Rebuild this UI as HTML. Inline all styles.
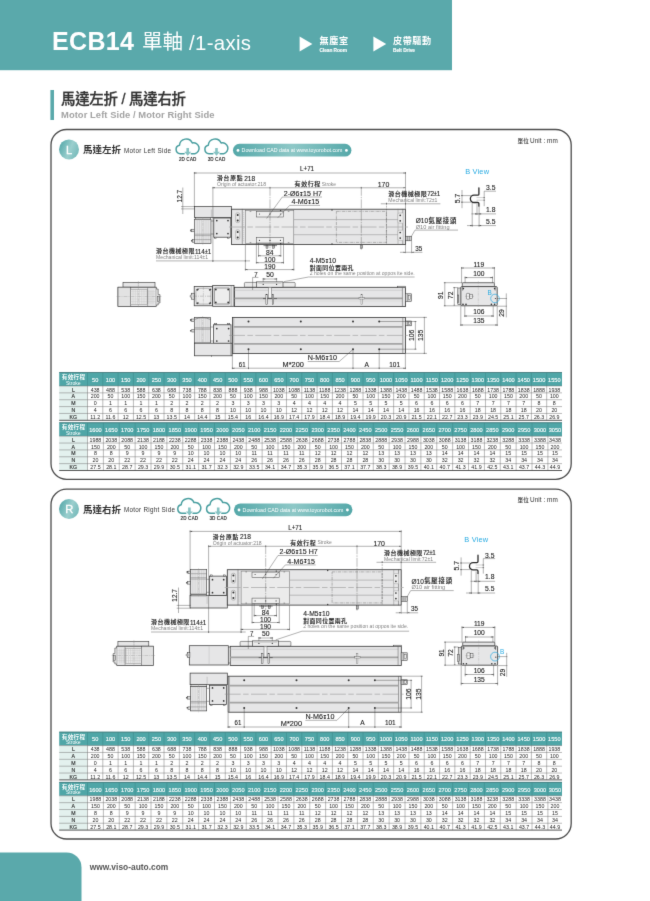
<!DOCTYPE html>
<html lang="zh-Hant">
<head>
<meta charset="utf-8">
<title>ECB14 單軸 /1-axis</title>
<style>
html,body{margin:0;padding:0;background:#fff;}
body{width:650px;height:901px;overflow:hidden;}
.page{position:relative;width:650px;height:901px;overflow:hidden;background:#fff;}
svg{display:block;position:absolute;left:-6px;top:-6px;font-family:'Liberation Sans', 'Noto Sans CJK TC', sans-serif;filter:url(#soft);}
text{white-space:pre;}
.d{fill:#222;stroke:#222;stroke-width:0.12px;}
.h{stroke:#fff;stroke-width:0.12px;}
.t{fill:#262626;}
</style>
</head>
<body>
<div class="page">
<svg width="662" height="913" viewBox="-6 -6 662 913">
<defs>
<filter id="soft" x="0" y="0" width="1" height="1" color-interpolation-filters="sRGB"><feConvolveMatrix order="3" kernelMatrix="0.0081 0.0738 0.0081 0.0738 0.6724 0.0738 0.0081 0.0738 0.0081" edgeMode="duplicate" preserveAlpha="true"/></filter>
<linearGradient id="gc" x1="0" y1="0.3" x2="1" y2="0.7"><stop offset="0" stop-color="#58aaab"/><stop offset="0.55" stop-color="#9bcfce"/><stop offset="1" stop-color="#74b9b9"/></linearGradient>
<linearGradient id="gp" x1="0" y1="0" x2="1" y2="0"><stop offset="0" stop-color="#55a8a9"/><stop offset="0.5" stop-color="#8ec8c7"/><stop offset="1" stop-color="#55a8a9"/></linearGradient>
</defs>
<rect x="-6" y="-6" width="662" height="913" fill="#fff"/>
<rect x="-6" y="-6" width="458" height="76.2" fill="#5aa9ab"/>
<text x="52" y="50" font-size="25" fill="#fff" font-weight="bold" textLength="82" lengthAdjust="spacing">ECB14</text>
<text x="142" y="48.9" font-size="20.6" fill="#fff" font-weight="400" textLength="41.2" lengthAdjust="spacing">單軸</text>
<text x="189" y="49.8" font-size="20.4" fill="#fff" textLength="62" lengthAdjust="spacing">/1-axis</text>
<path d="M299.6 36.6 L312.4 44 L299.6 51.4 Z" fill="#fff" stroke="none" stroke-width="0"/>
<text x="319.6" y="44" font-size="9.1" fill="#fff" font-weight="bold" textLength="28.4" lengthAdjust="spacing">無塵室</text>
<text x="319.6" y="51.5" font-size="4.8" fill="#fff" font-weight="bold" textLength="27.4" lengthAdjust="spacing" class="h">Clean Room</text>
<path d="M373.4 36.6 L386.2 44 L373.4 51.4 Z" fill="#fff" stroke="none" stroke-width="0"/>
<text x="393" y="44" font-size="9.1" fill="#fff" font-weight="bold" textLength="38" lengthAdjust="spacing">皮帶驅動</text>
<text x="393" y="51.5" font-size="4.8" fill="#fff" font-weight="bold" textLength="22" lengthAdjust="spacing" class="h">Belt Drive</text>
<rect x="50.4" y="90" width="3.6" height="30" fill="#5aa9ab"/>
<text x="61" y="104.4" font-size="14.4" fill="#333" font-weight="500" textLength="125" lengthAdjust="spacing" stroke="#333" stroke-width="0.3">馬達左折 / 馬達右折</text>
<text x="61" y="117.6" font-size="9.4" fill="#a3a3a3" font-weight="bold" textLength="153.4" lengthAdjust="spacing">Motor Left Side / Motor Right Side</text>
<g transform="translate(0 0)">
<rect x="51" y="129.5" width="520.2" height="349.9" fill="#fff" stroke="#4c4c4c" stroke-width="1.3" rx="15.6"/>
<circle cx="69" cy="149.4" r="10" fill="url(#gc)"/>
<text x="69.2" y="153.6" font-size="11.2" fill="#fff" text-anchor="middle" stroke="#fff" stroke-width="0.3">L</text>
<text x="83" y="153.3" font-size="9.5" fill="#2e2e2e" font-weight="bold" textLength="38" lengthAdjust="spacing">馬達左折</text>
<text x="124" y="152.6" font-size="6.3" fill="#333" textLength="47" lengthAdjust="spacing">Motor Left Side</text>
<g transform="translate(175.3 138.4)">
<path d="M8.8 15.3 H4.9 A4.3 4.3 0 0 1 4.2 6.8 A6.7 6.7 0 0 1 17 4.6 A5.4 5.4 0 0 1 19.6 15.3 H16" fill="#fff" stroke="#4a9fa0" stroke-width="1.5" stroke-linecap="round" stroke-linejoin="round"/>
<path d="M11.1 9.6 H13.7 V13.4 H15.9 L12.4 17.4 L8.9 13.4 H11.1 Z" fill="#86c3c3" stroke="none" stroke-width="0"/>
<text x="3.6" y="22.2" font-size="4.7" fill="#333" font-weight="bold" textLength="17.6" lengthAdjust="spacing">2D CAD</text>
</g>
<g transform="translate(204.1 138.4)">
<path d="M8.8 15.3 H4.9 A4.3 4.3 0 0 1 4.2 6.8 A6.7 6.7 0 0 1 17 4.6 A5.4 5.4 0 0 1 19.6 15.3 H16" fill="#fff" stroke="#4a9fa0" stroke-width="1.5" stroke-linecap="round" stroke-linejoin="round"/>
<path d="M11.1 9.6 H13.7 V13.4 H15.9 L12.4 17.4 L8.9 13.4 H11.1 Z" fill="#86c3c3" stroke="none" stroke-width="0"/>
<text x="3.6" y="22.2" font-size="4.7" fill="#333" font-weight="bold" textLength="17.6" lengthAdjust="spacing">3D CAD</text>
</g>
<rect x="233" y="143.8" width="118.4" height="12.8" rx="6.4" fill="url(#gp)"/>
<circle cx="238" cy="150.4" r="1.4" fill="#fff" stroke="none" stroke-width="0"/>
<circle cx="346.4" cy="150.4" r="1.4" fill="#fff" stroke="none" stroke-width="0"/>
<text x="241.6" y="152.2" font-size="5.25" fill="#fff" textLength="100.8" lengthAdjust="spacing">Download CAD data at www.toyorobot.com</text>
<text x="517.6" y="142.8" font-size="5.6" fill="#333" font-weight="500" textLength="11.2" lengthAdjust="spacing">單位</text>
<text x="530" y="142.9" font-size="6.4" fill="#333" textLength="27.8" lengthAdjust="spacing">Unit : mm</text>
<rect x="59.2" y="372.2" width="502.8" height="13.8" fill="#4fa6a7"/>
<line x1="59.2" y1="372.5" x2="562" y2="372.5" stroke="#3f6f70" stroke-width="0.7"/>
<rect x="59.2" y="386" width="28.3" height="34.3" fill="#e3f1ee"/>
<text x="61.7" y="379.1" font-size="5.6" fill="#fff" font-weight="bold" textLength="23.4" lengthAdjust="spacing">有效行程</text>
<text x="73.35" y="384.7" font-size="5.1" fill="#fff" text-anchor="middle">Stroke</text>
<line x1="87.5" y1="372.8" x2="87.5" y2="386" stroke="#3a8788" stroke-width="0.5"/>
<line x1="87.5" y1="386" x2="87.5" y2="420.3" stroke="#777" stroke-width="0.5"/>
<text x="95.15" y="381.9" font-size="5.6" fill="#fff" text-anchor="middle" class="h">50</text>
<line x1="102.81" y1="372.8" x2="102.81" y2="386" stroke="#3a8788" stroke-width="0.5"/>
<line x1="102.81" y1="386" x2="102.81" y2="420.3" stroke="#777" stroke-width="0.5"/>
<text x="110.46" y="381.9" font-size="5.6" fill="#fff" text-anchor="middle" class="h">100</text>
<line x1="118.11" y1="372.8" x2="118.11" y2="386" stroke="#3a8788" stroke-width="0.5"/>
<line x1="118.11" y1="386" x2="118.11" y2="420.3" stroke="#777" stroke-width="0.5"/>
<text x="125.77" y="381.9" font-size="5.6" fill="#fff" text-anchor="middle" class="h">150</text>
<line x1="133.42" y1="372.8" x2="133.42" y2="386" stroke="#3a8788" stroke-width="0.5"/>
<line x1="133.42" y1="386" x2="133.42" y2="420.3" stroke="#777" stroke-width="0.5"/>
<text x="141.07" y="381.9" font-size="5.6" fill="#fff" text-anchor="middle" class="h">200</text>
<line x1="148.73" y1="372.8" x2="148.73" y2="386" stroke="#3a8788" stroke-width="0.5"/>
<line x1="148.73" y1="386" x2="148.73" y2="420.3" stroke="#777" stroke-width="0.5"/>
<text x="156.38" y="381.9" font-size="5.6" fill="#fff" text-anchor="middle" class="h">250</text>
<line x1="164.03" y1="372.8" x2="164.03" y2="386" stroke="#3a8788" stroke-width="0.5"/>
<line x1="164.03" y1="386" x2="164.03" y2="420.3" stroke="#777" stroke-width="0.5"/>
<text x="171.69" y="381.9" font-size="5.6" fill="#fff" text-anchor="middle" class="h">300</text>
<line x1="179.34" y1="372.8" x2="179.34" y2="386" stroke="#3a8788" stroke-width="0.5"/>
<line x1="179.34" y1="386" x2="179.34" y2="420.3" stroke="#777" stroke-width="0.5"/>
<text x="186.99" y="381.9" font-size="5.6" fill="#fff" text-anchor="middle" class="h">350</text>
<line x1="194.65" y1="372.8" x2="194.65" y2="386" stroke="#3a8788" stroke-width="0.5"/>
<line x1="194.65" y1="386" x2="194.65" y2="420.3" stroke="#777" stroke-width="0.5"/>
<text x="202.3" y="381.9" font-size="5.6" fill="#fff" text-anchor="middle" class="h">400</text>
<line x1="209.95" y1="372.8" x2="209.95" y2="386" stroke="#3a8788" stroke-width="0.5"/>
<line x1="209.95" y1="386" x2="209.95" y2="420.3" stroke="#777" stroke-width="0.5"/>
<text x="217.6" y="381.9" font-size="5.6" fill="#fff" text-anchor="middle" class="h">450</text>
<line x1="225.26" y1="372.8" x2="225.26" y2="386" stroke="#3a8788" stroke-width="0.5"/>
<line x1="225.26" y1="386" x2="225.26" y2="420.3" stroke="#777" stroke-width="0.5"/>
<text x="232.91" y="381.9" font-size="5.6" fill="#fff" text-anchor="middle" class="h">500</text>
<line x1="240.56" y1="372.8" x2="240.56" y2="386" stroke="#3a8788" stroke-width="0.5"/>
<line x1="240.56" y1="386" x2="240.56" y2="420.3" stroke="#777" stroke-width="0.5"/>
<text x="248.22" y="381.9" font-size="5.6" fill="#fff" text-anchor="middle" class="h">550</text>
<line x1="255.87" y1="372.8" x2="255.87" y2="386" stroke="#3a8788" stroke-width="0.5"/>
<line x1="255.87" y1="386" x2="255.87" y2="420.3" stroke="#777" stroke-width="0.5"/>
<text x="263.52" y="381.9" font-size="5.6" fill="#fff" text-anchor="middle" class="h">600</text>
<line x1="271.18" y1="372.8" x2="271.18" y2="386" stroke="#3a8788" stroke-width="0.5"/>
<line x1="271.18" y1="386" x2="271.18" y2="420.3" stroke="#777" stroke-width="0.5"/>
<text x="278.83" y="381.9" font-size="5.6" fill="#fff" text-anchor="middle" class="h">650</text>
<line x1="286.48" y1="372.8" x2="286.48" y2="386" stroke="#3a8788" stroke-width="0.5"/>
<line x1="286.48" y1="386" x2="286.48" y2="420.3" stroke="#777" stroke-width="0.5"/>
<text x="294.14" y="381.9" font-size="5.6" fill="#fff" text-anchor="middle" class="h">700</text>
<line x1="301.79" y1="372.8" x2="301.79" y2="386" stroke="#3a8788" stroke-width="0.5"/>
<line x1="301.79" y1="386" x2="301.79" y2="420.3" stroke="#777" stroke-width="0.5"/>
<text x="309.44" y="381.9" font-size="5.6" fill="#fff" text-anchor="middle" class="h">750</text>
<line x1="317.1" y1="372.8" x2="317.1" y2="386" stroke="#3a8788" stroke-width="0.5"/>
<line x1="317.1" y1="386" x2="317.1" y2="420.3" stroke="#777" stroke-width="0.5"/>
<text x="324.75" y="381.9" font-size="5.6" fill="#fff" text-anchor="middle" class="h">800</text>
<line x1="332.4" y1="372.8" x2="332.4" y2="386" stroke="#3a8788" stroke-width="0.5"/>
<line x1="332.4" y1="386" x2="332.4" y2="420.3" stroke="#777" stroke-width="0.5"/>
<text x="340.06" y="381.9" font-size="5.6" fill="#fff" text-anchor="middle" class="h">850</text>
<line x1="347.71" y1="372.8" x2="347.71" y2="386" stroke="#3a8788" stroke-width="0.5"/>
<line x1="347.71" y1="386" x2="347.71" y2="420.3" stroke="#777" stroke-width="0.5"/>
<text x="355.36" y="381.9" font-size="5.6" fill="#fff" text-anchor="middle" class="h">900</text>
<line x1="363.02" y1="372.8" x2="363.02" y2="386" stroke="#3a8788" stroke-width="0.5"/>
<line x1="363.02" y1="386" x2="363.02" y2="420.3" stroke="#777" stroke-width="0.5"/>
<text x="370.67" y="381.9" font-size="5.6" fill="#fff" text-anchor="middle" class="h">950</text>
<line x1="378.32" y1="372.8" x2="378.32" y2="386" stroke="#3a8788" stroke-width="0.5"/>
<line x1="378.32" y1="386" x2="378.32" y2="420.3" stroke="#777" stroke-width="0.5"/>
<text x="385.98" y="381.9" font-size="5.6" fill="#fff" text-anchor="middle" class="h">1000</text>
<line x1="393.63" y1="372.8" x2="393.63" y2="386" stroke="#3a8788" stroke-width="0.5"/>
<line x1="393.63" y1="386" x2="393.63" y2="420.3" stroke="#777" stroke-width="0.5"/>
<text x="401.28" y="381.9" font-size="5.6" fill="#fff" text-anchor="middle" class="h">1050</text>
<line x1="408.94" y1="372.8" x2="408.94" y2="386" stroke="#3a8788" stroke-width="0.5"/>
<line x1="408.94" y1="386" x2="408.94" y2="420.3" stroke="#777" stroke-width="0.5"/>
<text x="416.59" y="381.9" font-size="5.6" fill="#fff" text-anchor="middle" class="h">1100</text>
<line x1="424.24" y1="372.8" x2="424.24" y2="386" stroke="#3a8788" stroke-width="0.5"/>
<line x1="424.24" y1="386" x2="424.24" y2="420.3" stroke="#777" stroke-width="0.5"/>
<text x="431.9" y="381.9" font-size="5.6" fill="#fff" text-anchor="middle" class="h">1150</text>
<line x1="439.55" y1="372.8" x2="439.55" y2="386" stroke="#3a8788" stroke-width="0.5"/>
<line x1="439.55" y1="386" x2="439.55" y2="420.3" stroke="#777" stroke-width="0.5"/>
<text x="447.2" y="381.9" font-size="5.6" fill="#fff" text-anchor="middle" class="h">1200</text>
<line x1="454.85" y1="372.8" x2="454.85" y2="386" stroke="#3a8788" stroke-width="0.5"/>
<line x1="454.85" y1="386" x2="454.85" y2="420.3" stroke="#777" stroke-width="0.5"/>
<text x="462.51" y="381.9" font-size="5.6" fill="#fff" text-anchor="middle" class="h">1250</text>
<line x1="470.16" y1="372.8" x2="470.16" y2="386" stroke="#3a8788" stroke-width="0.5"/>
<line x1="470.16" y1="386" x2="470.16" y2="420.3" stroke="#777" stroke-width="0.5"/>
<text x="477.81" y="381.9" font-size="5.6" fill="#fff" text-anchor="middle" class="h">1300</text>
<line x1="485.47" y1="372.8" x2="485.47" y2="386" stroke="#3a8788" stroke-width="0.5"/>
<line x1="485.47" y1="386" x2="485.47" y2="420.3" stroke="#777" stroke-width="0.5"/>
<text x="493.12" y="381.9" font-size="5.6" fill="#fff" text-anchor="middle" class="h">1350</text>
<line x1="500.77" y1="372.8" x2="500.77" y2="386" stroke="#3a8788" stroke-width="0.5"/>
<line x1="500.77" y1="386" x2="500.77" y2="420.3" stroke="#777" stroke-width="0.5"/>
<text x="508.43" y="381.9" font-size="5.6" fill="#fff" text-anchor="middle" class="h">1400</text>
<line x1="516.08" y1="372.8" x2="516.08" y2="386" stroke="#3a8788" stroke-width="0.5"/>
<line x1="516.08" y1="386" x2="516.08" y2="420.3" stroke="#777" stroke-width="0.5"/>
<text x="523.73" y="381.9" font-size="5.6" fill="#fff" text-anchor="middle" class="h">1450</text>
<line x1="531.39" y1="372.8" x2="531.39" y2="386" stroke="#3a8788" stroke-width="0.5"/>
<line x1="531.39" y1="386" x2="531.39" y2="420.3" stroke="#777" stroke-width="0.5"/>
<text x="539.04" y="381.9" font-size="5.6" fill="#fff" text-anchor="middle" class="h">1500</text>
<line x1="546.69" y1="372.8" x2="546.69" y2="386" stroke="#3a8788" stroke-width="0.5"/>
<line x1="546.69" y1="386" x2="546.69" y2="420.3" stroke="#777" stroke-width="0.5"/>
<text x="554.35" y="381.9" font-size="5.6" fill="#fff" text-anchor="middle" class="h">1550</text>
<line x1="59.2" y1="386" x2="562" y2="386" stroke="#777" stroke-width="0.5"/>
<text x="73.35" y="391.5" font-size="5.2" class="d" text-anchor="middle">L</text>
<text x="95.15" y="391.5" font-size="5.3" class="t" text-anchor="middle">438</text>
<text x="110.46" y="391.5" font-size="5.3" class="t" text-anchor="middle">488</text>
<text x="125.77" y="391.5" font-size="5.3" class="t" text-anchor="middle">538</text>
<text x="141.07" y="391.5" font-size="5.3" class="t" text-anchor="middle">588</text>
<text x="156.38" y="391.5" font-size="5.3" class="t" text-anchor="middle">638</text>
<text x="171.69" y="391.5" font-size="5.3" class="t" text-anchor="middle">688</text>
<text x="186.99" y="391.5" font-size="5.3" class="t" text-anchor="middle">738</text>
<text x="202.3" y="391.5" font-size="5.3" class="t" text-anchor="middle">788</text>
<text x="217.6" y="391.5" font-size="5.3" class="t" text-anchor="middle">838</text>
<text x="232.91" y="391.5" font-size="5.3" class="t" text-anchor="middle">888</text>
<text x="248.22" y="391.5" font-size="5.3" class="t" text-anchor="middle">938</text>
<text x="263.52" y="391.5" font-size="5.3" class="t" text-anchor="middle">988</text>
<text x="278.83" y="391.5" font-size="5.3" class="t" text-anchor="middle">1038</text>
<text x="294.14" y="391.5" font-size="5.3" class="t" text-anchor="middle">1088</text>
<text x="309.44" y="391.5" font-size="5.3" class="t" text-anchor="middle">1138</text>
<text x="324.75" y="391.5" font-size="5.3" class="t" text-anchor="middle">1188</text>
<text x="340.06" y="391.5" font-size="5.3" class="t" text-anchor="middle">1238</text>
<text x="355.36" y="391.5" font-size="5.3" class="t" text-anchor="middle">1288</text>
<text x="370.67" y="391.5" font-size="5.3" class="t" text-anchor="middle">1338</text>
<text x="385.98" y="391.5" font-size="5.3" class="t" text-anchor="middle">1388</text>
<text x="401.28" y="391.5" font-size="5.3" class="t" text-anchor="middle">1438</text>
<text x="416.59" y="391.5" font-size="5.3" class="t" text-anchor="middle">1488</text>
<text x="431.9" y="391.5" font-size="5.3" class="t" text-anchor="middle">1538</text>
<text x="447.2" y="391.5" font-size="5.3" class="t" text-anchor="middle">1588</text>
<text x="462.51" y="391.5" font-size="5.3" class="t" text-anchor="middle">1638</text>
<text x="477.81" y="391.5" font-size="5.3" class="t" text-anchor="middle">1688</text>
<text x="493.12" y="391.5" font-size="5.3" class="t" text-anchor="middle">1738</text>
<text x="508.43" y="391.5" font-size="5.3" class="t" text-anchor="middle">1788</text>
<text x="523.73" y="391.5" font-size="5.3" class="t" text-anchor="middle">1838</text>
<text x="539.04" y="391.5" font-size="5.3" class="t" text-anchor="middle">1888</text>
<text x="554.35" y="391.5" font-size="5.3" class="t" text-anchor="middle">1938</text>
<line x1="59.2" y1="392.86" x2="562" y2="392.86" stroke="#777" stroke-width="0.5"/>
<text x="73.35" y="398.36" font-size="5.2" class="d" text-anchor="middle">A</text>
<text x="95.15" y="398.36" font-size="5.3" class="t" text-anchor="middle">200</text>
<text x="110.46" y="398.36" font-size="5.3" class="t" text-anchor="middle">50</text>
<text x="125.77" y="398.36" font-size="5.3" class="t" text-anchor="middle">100</text>
<text x="141.07" y="398.36" font-size="5.3" class="t" text-anchor="middle">150</text>
<text x="156.38" y="398.36" font-size="5.3" class="t" text-anchor="middle">200</text>
<text x="171.69" y="398.36" font-size="5.3" class="t" text-anchor="middle">50</text>
<text x="186.99" y="398.36" font-size="5.3" class="t" text-anchor="middle">100</text>
<text x="202.3" y="398.36" font-size="5.3" class="t" text-anchor="middle">150</text>
<text x="217.6" y="398.36" font-size="5.3" class="t" text-anchor="middle">200</text>
<text x="232.91" y="398.36" font-size="5.3" class="t" text-anchor="middle">50</text>
<text x="248.22" y="398.36" font-size="5.3" class="t" text-anchor="middle">100</text>
<text x="263.52" y="398.36" font-size="5.3" class="t" text-anchor="middle">150</text>
<text x="278.83" y="398.36" font-size="5.3" class="t" text-anchor="middle">200</text>
<text x="294.14" y="398.36" font-size="5.3" class="t" text-anchor="middle">50</text>
<text x="309.44" y="398.36" font-size="5.3" class="t" text-anchor="middle">100</text>
<text x="324.75" y="398.36" font-size="5.3" class="t" text-anchor="middle">150</text>
<text x="340.06" y="398.36" font-size="5.3" class="t" text-anchor="middle">200</text>
<text x="355.36" y="398.36" font-size="5.3" class="t" text-anchor="middle">50</text>
<text x="370.67" y="398.36" font-size="5.3" class="t" text-anchor="middle">100</text>
<text x="385.98" y="398.36" font-size="5.3" class="t" text-anchor="middle">150</text>
<text x="401.28" y="398.36" font-size="5.3" class="t" text-anchor="middle">200</text>
<text x="416.59" y="398.36" font-size="5.3" class="t" text-anchor="middle">50</text>
<text x="431.9" y="398.36" font-size="5.3" class="t" text-anchor="middle">100</text>
<text x="447.2" y="398.36" font-size="5.3" class="t" text-anchor="middle">150</text>
<text x="462.51" y="398.36" font-size="5.3" class="t" text-anchor="middle">200</text>
<text x="477.81" y="398.36" font-size="5.3" class="t" text-anchor="middle">50</text>
<text x="493.12" y="398.36" font-size="5.3" class="t" text-anchor="middle">100</text>
<text x="508.43" y="398.36" font-size="5.3" class="t" text-anchor="middle">150</text>
<text x="523.73" y="398.36" font-size="5.3" class="t" text-anchor="middle">200</text>
<text x="539.04" y="398.36" font-size="5.3" class="t" text-anchor="middle">50</text>
<text x="554.35" y="398.36" font-size="5.3" class="t" text-anchor="middle">100</text>
<line x1="59.2" y1="399.72" x2="562" y2="399.72" stroke="#777" stroke-width="0.5"/>
<text x="73.35" y="405.22" font-size="5.2" class="d" text-anchor="middle">M</text>
<text x="95.15" y="405.22" font-size="5.3" class="t" text-anchor="middle">0</text>
<text x="110.46" y="405.22" font-size="5.3" class="t" text-anchor="middle">1</text>
<text x="125.77" y="405.22" font-size="5.3" class="t" text-anchor="middle">1</text>
<text x="141.07" y="405.22" font-size="5.3" class="t" text-anchor="middle">1</text>
<text x="156.38" y="405.22" font-size="5.3" class="t" text-anchor="middle">1</text>
<text x="171.69" y="405.22" font-size="5.3" class="t" text-anchor="middle">2</text>
<text x="186.99" y="405.22" font-size="5.3" class="t" text-anchor="middle">2</text>
<text x="202.3" y="405.22" font-size="5.3" class="t" text-anchor="middle">2</text>
<text x="217.6" y="405.22" font-size="5.3" class="t" text-anchor="middle">2</text>
<text x="232.91" y="405.22" font-size="5.3" class="t" text-anchor="middle">3</text>
<text x="248.22" y="405.22" font-size="5.3" class="t" text-anchor="middle">3</text>
<text x="263.52" y="405.22" font-size="5.3" class="t" text-anchor="middle">3</text>
<text x="278.83" y="405.22" font-size="5.3" class="t" text-anchor="middle">3</text>
<text x="294.14" y="405.22" font-size="5.3" class="t" text-anchor="middle">4</text>
<text x="309.44" y="405.22" font-size="5.3" class="t" text-anchor="middle">4</text>
<text x="324.75" y="405.22" font-size="5.3" class="t" text-anchor="middle">4</text>
<text x="340.06" y="405.22" font-size="5.3" class="t" text-anchor="middle">4</text>
<text x="355.36" y="405.22" font-size="5.3" class="t" text-anchor="middle">5</text>
<text x="370.67" y="405.22" font-size="5.3" class="t" text-anchor="middle">5</text>
<text x="385.98" y="405.22" font-size="5.3" class="t" text-anchor="middle">5</text>
<text x="401.28" y="405.22" font-size="5.3" class="t" text-anchor="middle">5</text>
<text x="416.59" y="405.22" font-size="5.3" class="t" text-anchor="middle">6</text>
<text x="431.9" y="405.22" font-size="5.3" class="t" text-anchor="middle">6</text>
<text x="447.2" y="405.22" font-size="5.3" class="t" text-anchor="middle">6</text>
<text x="462.51" y="405.22" font-size="5.3" class="t" text-anchor="middle">6</text>
<text x="477.81" y="405.22" font-size="5.3" class="t" text-anchor="middle">7</text>
<text x="493.12" y="405.22" font-size="5.3" class="t" text-anchor="middle">7</text>
<text x="508.43" y="405.22" font-size="5.3" class="t" text-anchor="middle">7</text>
<text x="523.73" y="405.22" font-size="5.3" class="t" text-anchor="middle">7</text>
<text x="539.04" y="405.22" font-size="5.3" class="t" text-anchor="middle">8</text>
<text x="554.35" y="405.22" font-size="5.3" class="t" text-anchor="middle">8</text>
<line x1="59.2" y1="406.58" x2="562" y2="406.58" stroke="#777" stroke-width="0.5"/>
<text x="73.35" y="412.08" font-size="5.2" class="d" text-anchor="middle">N</text>
<text x="95.15" y="412.08" font-size="5.3" class="t" text-anchor="middle">4</text>
<text x="110.46" y="412.08" font-size="5.3" class="t" text-anchor="middle">6</text>
<text x="125.77" y="412.08" font-size="5.3" class="t" text-anchor="middle">6</text>
<text x="141.07" y="412.08" font-size="5.3" class="t" text-anchor="middle">6</text>
<text x="156.38" y="412.08" font-size="5.3" class="t" text-anchor="middle">6</text>
<text x="171.69" y="412.08" font-size="5.3" class="t" text-anchor="middle">8</text>
<text x="186.99" y="412.08" font-size="5.3" class="t" text-anchor="middle">8</text>
<text x="202.3" y="412.08" font-size="5.3" class="t" text-anchor="middle">8</text>
<text x="217.6" y="412.08" font-size="5.3" class="t" text-anchor="middle">8</text>
<text x="232.91" y="412.08" font-size="5.3" class="t" text-anchor="middle">10</text>
<text x="248.22" y="412.08" font-size="5.3" class="t" text-anchor="middle">10</text>
<text x="263.52" y="412.08" font-size="5.3" class="t" text-anchor="middle">10</text>
<text x="278.83" y="412.08" font-size="5.3" class="t" text-anchor="middle">10</text>
<text x="294.14" y="412.08" font-size="5.3" class="t" text-anchor="middle">12</text>
<text x="309.44" y="412.08" font-size="5.3" class="t" text-anchor="middle">12</text>
<text x="324.75" y="412.08" font-size="5.3" class="t" text-anchor="middle">12</text>
<text x="340.06" y="412.08" font-size="5.3" class="t" text-anchor="middle">12</text>
<text x="355.36" y="412.08" font-size="5.3" class="t" text-anchor="middle">14</text>
<text x="370.67" y="412.08" font-size="5.3" class="t" text-anchor="middle">14</text>
<text x="385.98" y="412.08" font-size="5.3" class="t" text-anchor="middle">14</text>
<text x="401.28" y="412.08" font-size="5.3" class="t" text-anchor="middle">14</text>
<text x="416.59" y="412.08" font-size="5.3" class="t" text-anchor="middle">16</text>
<text x="431.9" y="412.08" font-size="5.3" class="t" text-anchor="middle">16</text>
<text x="447.2" y="412.08" font-size="5.3" class="t" text-anchor="middle">16</text>
<text x="462.51" y="412.08" font-size="5.3" class="t" text-anchor="middle">16</text>
<text x="477.81" y="412.08" font-size="5.3" class="t" text-anchor="middle">18</text>
<text x="493.12" y="412.08" font-size="5.3" class="t" text-anchor="middle">18</text>
<text x="508.43" y="412.08" font-size="5.3" class="t" text-anchor="middle">18</text>
<text x="523.73" y="412.08" font-size="5.3" class="t" text-anchor="middle">18</text>
<text x="539.04" y="412.08" font-size="5.3" class="t" text-anchor="middle">20</text>
<text x="554.35" y="412.08" font-size="5.3" class="t" text-anchor="middle">20</text>
<line x1="59.2" y1="413.44" x2="562" y2="413.44" stroke="#777" stroke-width="0.5"/>
<text x="73.35" y="418.94" font-size="5.2" class="d" text-anchor="middle">KG</text>
<text x="95.15" y="418.94" font-size="5.3" class="t" text-anchor="middle">11.2</text>
<text x="110.46" y="418.94" font-size="5.3" class="t" text-anchor="middle">11.6</text>
<text x="125.77" y="418.94" font-size="5.3" class="t" text-anchor="middle">12</text>
<text x="141.07" y="418.94" font-size="5.3" class="t" text-anchor="middle">12.5</text>
<text x="156.38" y="418.94" font-size="5.3" class="t" text-anchor="middle">13</text>
<text x="171.69" y="418.94" font-size="5.3" class="t" text-anchor="middle">13.5</text>
<text x="186.99" y="418.94" font-size="5.3" class="t" text-anchor="middle">14</text>
<text x="202.3" y="418.94" font-size="5.3" class="t" text-anchor="middle">14.4</text>
<text x="217.6" y="418.94" font-size="5.3" class="t" text-anchor="middle">15</text>
<text x="232.91" y="418.94" font-size="5.3" class="t" text-anchor="middle">15.4</text>
<text x="248.22" y="418.94" font-size="5.3" class="t" text-anchor="middle">16</text>
<text x="263.52" y="418.94" font-size="5.3" class="t" text-anchor="middle">16.4</text>
<text x="278.83" y="418.94" font-size="5.3" class="t" text-anchor="middle">16.9</text>
<text x="294.14" y="418.94" font-size="5.3" class="t" text-anchor="middle">17.4</text>
<text x="309.44" y="418.94" font-size="5.3" class="t" text-anchor="middle">17.9</text>
<text x="324.75" y="418.94" font-size="5.3" class="t" text-anchor="middle">18.4</text>
<text x="340.06" y="418.94" font-size="5.3" class="t" text-anchor="middle">18.9</text>
<text x="355.36" y="418.94" font-size="5.3" class="t" text-anchor="middle">19.4</text>
<text x="370.67" y="418.94" font-size="5.3" class="t" text-anchor="middle">19.9</text>
<text x="385.98" y="418.94" font-size="5.3" class="t" text-anchor="middle">20.3</text>
<text x="401.28" y="418.94" font-size="5.3" class="t" text-anchor="middle">20.9</text>
<text x="416.59" y="418.94" font-size="5.3" class="t" text-anchor="middle">21.5</text>
<text x="431.9" y="418.94" font-size="5.3" class="t" text-anchor="middle">22.1</text>
<text x="447.2" y="418.94" font-size="5.3" class="t" text-anchor="middle">22.7</text>
<text x="462.51" y="418.94" font-size="5.3" class="t" text-anchor="middle">23.3</text>
<text x="477.81" y="418.94" font-size="5.3" class="t" text-anchor="middle">23.9</text>
<text x="493.12" y="418.94" font-size="5.3" class="t" text-anchor="middle">24.5</text>
<text x="508.43" y="418.94" font-size="5.3" class="t" text-anchor="middle">25.1</text>
<text x="523.73" y="418.94" font-size="5.3" class="t" text-anchor="middle">25.7</text>
<text x="539.04" y="418.94" font-size="5.3" class="t" text-anchor="middle">26.3</text>
<text x="554.35" y="418.94" font-size="5.3" class="t" text-anchor="middle">26.9</text>
<line x1="59.2" y1="420.3" x2="562" y2="420.3" stroke="#444" stroke-width="0.9"/>
<rect x="59.2" y="422.4" width="502.8" height="13.8" fill="#4fa6a7"/>
<line x1="59.2" y1="422.7" x2="562" y2="422.7" stroke="#3f6f70" stroke-width="0.7"/>
<rect x="59.2" y="436.2" width="28.3" height="34.3" fill="#e3f1ee"/>
<text x="61.7" y="429.3" font-size="5.6" fill="#fff" font-weight="bold" textLength="23.4" lengthAdjust="spacing">有效行程</text>
<text x="73.35" y="434.9" font-size="5.1" fill="#fff" text-anchor="middle">Stroke</text>
<line x1="87.5" y1="423" x2="87.5" y2="436.2" stroke="#3a8788" stroke-width="0.5"/>
<line x1="87.5" y1="436.2" x2="87.5" y2="470.5" stroke="#777" stroke-width="0.5"/>
<text x="95.44" y="432.1" font-size="5.6" fill="#fff" text-anchor="middle" class="h">1600</text>
<line x1="103.38" y1="423" x2="103.38" y2="436.2" stroke="#3a8788" stroke-width="0.5"/>
<line x1="103.38" y1="436.2" x2="103.38" y2="470.5" stroke="#777" stroke-width="0.5"/>
<text x="111.31" y="432.1" font-size="5.6" fill="#fff" text-anchor="middle" class="h">1650</text>
<line x1="119.25" y1="423" x2="119.25" y2="436.2" stroke="#3a8788" stroke-width="0.5"/>
<line x1="119.25" y1="436.2" x2="119.25" y2="470.5" stroke="#777" stroke-width="0.5"/>
<text x="127.19" y="432.1" font-size="5.6" fill="#fff" text-anchor="middle" class="h">1700</text>
<line x1="135.13" y1="423" x2="135.13" y2="436.2" stroke="#3a8788" stroke-width="0.5"/>
<line x1="135.13" y1="436.2" x2="135.13" y2="470.5" stroke="#777" stroke-width="0.5"/>
<text x="143.07" y="432.1" font-size="5.6" fill="#fff" text-anchor="middle" class="h">1750</text>
<line x1="151" y1="423" x2="151" y2="436.2" stroke="#3a8788" stroke-width="0.5"/>
<line x1="151" y1="436.2" x2="151" y2="470.5" stroke="#777" stroke-width="0.5"/>
<text x="158.94" y="432.1" font-size="5.6" fill="#fff" text-anchor="middle" class="h">1800</text>
<line x1="166.88" y1="423" x2="166.88" y2="436.2" stroke="#3a8788" stroke-width="0.5"/>
<line x1="166.88" y1="436.2" x2="166.88" y2="470.5" stroke="#777" stroke-width="0.5"/>
<text x="174.82" y="432.1" font-size="5.6" fill="#fff" text-anchor="middle" class="h">1850</text>
<line x1="182.76" y1="423" x2="182.76" y2="436.2" stroke="#3a8788" stroke-width="0.5"/>
<line x1="182.76" y1="436.2" x2="182.76" y2="470.5" stroke="#777" stroke-width="0.5"/>
<text x="190.69" y="432.1" font-size="5.6" fill="#fff" text-anchor="middle" class="h">1900</text>
<line x1="198.63" y1="423" x2="198.63" y2="436.2" stroke="#3a8788" stroke-width="0.5"/>
<line x1="198.63" y1="436.2" x2="198.63" y2="470.5" stroke="#777" stroke-width="0.5"/>
<text x="206.57" y="432.1" font-size="5.6" fill="#fff" text-anchor="middle" class="h">1950</text>
<line x1="214.51" y1="423" x2="214.51" y2="436.2" stroke="#3a8788" stroke-width="0.5"/>
<line x1="214.51" y1="436.2" x2="214.51" y2="470.5" stroke="#777" stroke-width="0.5"/>
<text x="222.44" y="432.1" font-size="5.6" fill="#fff" text-anchor="middle" class="h">2000</text>
<line x1="230.38" y1="423" x2="230.38" y2="436.2" stroke="#3a8788" stroke-width="0.5"/>
<line x1="230.38" y1="436.2" x2="230.38" y2="470.5" stroke="#777" stroke-width="0.5"/>
<text x="238.32" y="432.1" font-size="5.6" fill="#fff" text-anchor="middle" class="h">2050</text>
<line x1="246.26" y1="423" x2="246.26" y2="436.2" stroke="#3a8788" stroke-width="0.5"/>
<line x1="246.26" y1="436.2" x2="246.26" y2="470.5" stroke="#777" stroke-width="0.5"/>
<text x="254.2" y="432.1" font-size="5.6" fill="#fff" text-anchor="middle" class="h">2100</text>
<line x1="262.13" y1="423" x2="262.13" y2="436.2" stroke="#3a8788" stroke-width="0.5"/>
<line x1="262.13" y1="436.2" x2="262.13" y2="470.5" stroke="#777" stroke-width="0.5"/>
<text x="270.07" y="432.1" font-size="5.6" fill="#fff" text-anchor="middle" class="h">2150</text>
<line x1="278.01" y1="423" x2="278.01" y2="436.2" stroke="#3a8788" stroke-width="0.5"/>
<line x1="278.01" y1="436.2" x2="278.01" y2="470.5" stroke="#777" stroke-width="0.5"/>
<text x="285.95" y="432.1" font-size="5.6" fill="#fff" text-anchor="middle" class="h">2200</text>
<line x1="293.89" y1="423" x2="293.89" y2="436.2" stroke="#3a8788" stroke-width="0.5"/>
<line x1="293.89" y1="436.2" x2="293.89" y2="470.5" stroke="#777" stroke-width="0.5"/>
<text x="301.82" y="432.1" font-size="5.6" fill="#fff" text-anchor="middle" class="h">2250</text>
<line x1="309.76" y1="423" x2="309.76" y2="436.2" stroke="#3a8788" stroke-width="0.5"/>
<line x1="309.76" y1="436.2" x2="309.76" y2="470.5" stroke="#777" stroke-width="0.5"/>
<text x="317.7" y="432.1" font-size="5.6" fill="#fff" text-anchor="middle" class="h">2300</text>
<line x1="325.64" y1="423" x2="325.64" y2="436.2" stroke="#3a8788" stroke-width="0.5"/>
<line x1="325.64" y1="436.2" x2="325.64" y2="470.5" stroke="#777" stroke-width="0.5"/>
<text x="333.58" y="432.1" font-size="5.6" fill="#fff" text-anchor="middle" class="h">2350</text>
<line x1="341.51" y1="423" x2="341.51" y2="436.2" stroke="#3a8788" stroke-width="0.5"/>
<line x1="341.51" y1="436.2" x2="341.51" y2="470.5" stroke="#777" stroke-width="0.5"/>
<text x="349.45" y="432.1" font-size="5.6" fill="#fff" text-anchor="middle" class="h">2400</text>
<line x1="357.39" y1="423" x2="357.39" y2="436.2" stroke="#3a8788" stroke-width="0.5"/>
<line x1="357.39" y1="436.2" x2="357.39" y2="470.5" stroke="#777" stroke-width="0.5"/>
<text x="365.33" y="432.1" font-size="5.6" fill="#fff" text-anchor="middle" class="h">2450</text>
<line x1="373.27" y1="423" x2="373.27" y2="436.2" stroke="#3a8788" stroke-width="0.5"/>
<line x1="373.27" y1="436.2" x2="373.27" y2="470.5" stroke="#777" stroke-width="0.5"/>
<text x="381.2" y="432.1" font-size="5.6" fill="#fff" text-anchor="middle" class="h">2500</text>
<line x1="389.14" y1="423" x2="389.14" y2="436.2" stroke="#3a8788" stroke-width="0.5"/>
<line x1="389.14" y1="436.2" x2="389.14" y2="470.5" stroke="#777" stroke-width="0.5"/>
<text x="397.08" y="432.1" font-size="5.6" fill="#fff" text-anchor="middle" class="h">2550</text>
<line x1="405.02" y1="423" x2="405.02" y2="436.2" stroke="#3a8788" stroke-width="0.5"/>
<line x1="405.02" y1="436.2" x2="405.02" y2="470.5" stroke="#777" stroke-width="0.5"/>
<text x="412.96" y="432.1" font-size="5.6" fill="#fff" text-anchor="middle" class="h">2600</text>
<line x1="420.89" y1="423" x2="420.89" y2="436.2" stroke="#3a8788" stroke-width="0.5"/>
<line x1="420.89" y1="436.2" x2="420.89" y2="470.5" stroke="#777" stroke-width="0.5"/>
<text x="428.83" y="432.1" font-size="5.6" fill="#fff" text-anchor="middle" class="h">2650</text>
<line x1="436.77" y1="423" x2="436.77" y2="436.2" stroke="#3a8788" stroke-width="0.5"/>
<line x1="436.77" y1="436.2" x2="436.77" y2="470.5" stroke="#777" stroke-width="0.5"/>
<text x="444.71" y="432.1" font-size="5.6" fill="#fff" text-anchor="middle" class="h">2700</text>
<line x1="452.64" y1="423" x2="452.64" y2="436.2" stroke="#3a8788" stroke-width="0.5"/>
<line x1="452.64" y1="436.2" x2="452.64" y2="470.5" stroke="#777" stroke-width="0.5"/>
<text x="460.58" y="432.1" font-size="5.6" fill="#fff" text-anchor="middle" class="h">2750</text>
<line x1="468.52" y1="423" x2="468.52" y2="436.2" stroke="#3a8788" stroke-width="0.5"/>
<line x1="468.52" y1="436.2" x2="468.52" y2="470.5" stroke="#777" stroke-width="0.5"/>
<text x="476.46" y="432.1" font-size="5.6" fill="#fff" text-anchor="middle" class="h">2800</text>
<line x1="484.4" y1="423" x2="484.4" y2="436.2" stroke="#3a8788" stroke-width="0.5"/>
<line x1="484.4" y1="436.2" x2="484.4" y2="470.5" stroke="#777" stroke-width="0.5"/>
<text x="492.33" y="432.1" font-size="5.6" fill="#fff" text-anchor="middle" class="h">2850</text>
<line x1="500.27" y1="423" x2="500.27" y2="436.2" stroke="#3a8788" stroke-width="0.5"/>
<line x1="500.27" y1="436.2" x2="500.27" y2="470.5" stroke="#777" stroke-width="0.5"/>
<text x="508.21" y="432.1" font-size="5.6" fill="#fff" text-anchor="middle" class="h">2900</text>
<line x1="516.15" y1="423" x2="516.15" y2="436.2" stroke="#3a8788" stroke-width="0.5"/>
<line x1="516.15" y1="436.2" x2="516.15" y2="470.5" stroke="#777" stroke-width="0.5"/>
<text x="524.09" y="432.1" font-size="5.6" fill="#fff" text-anchor="middle" class="h">2950</text>
<line x1="532.02" y1="423" x2="532.02" y2="436.2" stroke="#3a8788" stroke-width="0.5"/>
<line x1="532.02" y1="436.2" x2="532.02" y2="470.5" stroke="#777" stroke-width="0.5"/>
<text x="539.96" y="432.1" font-size="5.6" fill="#fff" text-anchor="middle" class="h">3000</text>
<line x1="547.9" y1="423" x2="547.9" y2="436.2" stroke="#3a8788" stroke-width="0.5"/>
<line x1="547.9" y1="436.2" x2="547.9" y2="470.5" stroke="#777" stroke-width="0.5"/>
<text x="554.95" y="432.1" font-size="5.6" fill="#fff" text-anchor="middle" class="h">3050</text>
<line x1="59.2" y1="436.2" x2="562" y2="436.2" stroke="#777" stroke-width="0.5"/>
<text x="73.35" y="441.7" font-size="5.2" class="d" text-anchor="middle">L</text>
<text x="95.44" y="441.7" font-size="5.3" class="t" text-anchor="middle">1988</text>
<text x="111.31" y="441.7" font-size="5.3" class="t" text-anchor="middle">2038</text>
<text x="127.19" y="441.7" font-size="5.3" class="t" text-anchor="middle">2088</text>
<text x="143.07" y="441.7" font-size="5.3" class="t" text-anchor="middle">2138</text>
<text x="158.94" y="441.7" font-size="5.3" class="t" text-anchor="middle">2188</text>
<text x="174.82" y="441.7" font-size="5.3" class="t" text-anchor="middle">2238</text>
<text x="190.69" y="441.7" font-size="5.3" class="t" text-anchor="middle">2288</text>
<text x="206.57" y="441.7" font-size="5.3" class="t" text-anchor="middle">2338</text>
<text x="222.44" y="441.7" font-size="5.3" class="t" text-anchor="middle">2388</text>
<text x="238.32" y="441.7" font-size="5.3" class="t" text-anchor="middle">2438</text>
<text x="254.2" y="441.7" font-size="5.3" class="t" text-anchor="middle">2488</text>
<text x="270.07" y="441.7" font-size="5.3" class="t" text-anchor="middle">2538</text>
<text x="285.95" y="441.7" font-size="5.3" class="t" text-anchor="middle">2588</text>
<text x="301.82" y="441.7" font-size="5.3" class="t" text-anchor="middle">2638</text>
<text x="317.7" y="441.7" font-size="5.3" class="t" text-anchor="middle">2688</text>
<text x="333.58" y="441.7" font-size="5.3" class="t" text-anchor="middle">2738</text>
<text x="349.45" y="441.7" font-size="5.3" class="t" text-anchor="middle">2788</text>
<text x="365.33" y="441.7" font-size="5.3" class="t" text-anchor="middle">2838</text>
<text x="381.2" y="441.7" font-size="5.3" class="t" text-anchor="middle">2888</text>
<text x="397.08" y="441.7" font-size="5.3" class="t" text-anchor="middle">2938</text>
<text x="412.96" y="441.7" font-size="5.3" class="t" text-anchor="middle">2988</text>
<text x="428.83" y="441.7" font-size="5.3" class="t" text-anchor="middle">3038</text>
<text x="444.71" y="441.7" font-size="5.3" class="t" text-anchor="middle">3088</text>
<text x="460.58" y="441.7" font-size="5.3" class="t" text-anchor="middle">3138</text>
<text x="476.46" y="441.7" font-size="5.3" class="t" text-anchor="middle">3188</text>
<text x="492.33" y="441.7" font-size="5.3" class="t" text-anchor="middle">3238</text>
<text x="508.21" y="441.7" font-size="5.3" class="t" text-anchor="middle">3288</text>
<text x="524.09" y="441.7" font-size="5.3" class="t" text-anchor="middle">3338</text>
<text x="539.96" y="441.7" font-size="5.3" class="t" text-anchor="middle">3388</text>
<text x="554.95" y="441.7" font-size="5.3" class="t" text-anchor="middle">3438</text>
<line x1="59.2" y1="443.06" x2="562" y2="443.06" stroke="#777" stroke-width="0.5"/>
<text x="73.35" y="448.56" font-size="5.2" class="d" text-anchor="middle">A</text>
<text x="95.44" y="448.56" font-size="5.3" class="t" text-anchor="middle">150</text>
<text x="111.31" y="448.56" font-size="5.3" class="t" text-anchor="middle">200</text>
<text x="127.19" y="448.56" font-size="5.3" class="t" text-anchor="middle">50</text>
<text x="143.07" y="448.56" font-size="5.3" class="t" text-anchor="middle">100</text>
<text x="158.94" y="448.56" font-size="5.3" class="t" text-anchor="middle">150</text>
<text x="174.82" y="448.56" font-size="5.3" class="t" text-anchor="middle">200</text>
<text x="190.69" y="448.56" font-size="5.3" class="t" text-anchor="middle">50</text>
<text x="206.57" y="448.56" font-size="5.3" class="t" text-anchor="middle">100</text>
<text x="222.44" y="448.56" font-size="5.3" class="t" text-anchor="middle">150</text>
<text x="238.32" y="448.56" font-size="5.3" class="t" text-anchor="middle">200</text>
<text x="254.2" y="448.56" font-size="5.3" class="t" text-anchor="middle">50</text>
<text x="270.07" y="448.56" font-size="5.3" class="t" text-anchor="middle">100</text>
<text x="285.95" y="448.56" font-size="5.3" class="t" text-anchor="middle">150</text>
<text x="301.82" y="448.56" font-size="5.3" class="t" text-anchor="middle">200</text>
<text x="317.7" y="448.56" font-size="5.3" class="t" text-anchor="middle">50</text>
<text x="333.58" y="448.56" font-size="5.3" class="t" text-anchor="middle">100</text>
<text x="349.45" y="448.56" font-size="5.3" class="t" text-anchor="middle">150</text>
<text x="365.33" y="448.56" font-size="5.3" class="t" text-anchor="middle">200</text>
<text x="381.2" y="448.56" font-size="5.3" class="t" text-anchor="middle">50</text>
<text x="397.08" y="448.56" font-size="5.3" class="t" text-anchor="middle">100</text>
<text x="412.96" y="448.56" font-size="5.3" class="t" text-anchor="middle">150</text>
<text x="428.83" y="448.56" font-size="5.3" class="t" text-anchor="middle">200</text>
<text x="444.71" y="448.56" font-size="5.3" class="t" text-anchor="middle">50</text>
<text x="460.58" y="448.56" font-size="5.3" class="t" text-anchor="middle">100</text>
<text x="476.46" y="448.56" font-size="5.3" class="t" text-anchor="middle">150</text>
<text x="492.33" y="448.56" font-size="5.3" class="t" text-anchor="middle">200</text>
<text x="508.21" y="448.56" font-size="5.3" class="t" text-anchor="middle">50</text>
<text x="524.09" y="448.56" font-size="5.3" class="t" text-anchor="middle">100</text>
<text x="539.96" y="448.56" font-size="5.3" class="t" text-anchor="middle">150</text>
<text x="554.95" y="448.56" font-size="5.3" class="t" text-anchor="middle">200</text>
<line x1="59.2" y1="449.92" x2="562" y2="449.92" stroke="#777" stroke-width="0.5"/>
<text x="73.35" y="455.42" font-size="5.2" class="d" text-anchor="middle">M</text>
<text x="95.44" y="455.42" font-size="5.3" class="t" text-anchor="middle">8</text>
<text x="111.31" y="455.42" font-size="5.3" class="t" text-anchor="middle">8</text>
<text x="127.19" y="455.42" font-size="5.3" class="t" text-anchor="middle">9</text>
<text x="143.07" y="455.42" font-size="5.3" class="t" text-anchor="middle">9</text>
<text x="158.94" y="455.42" font-size="5.3" class="t" text-anchor="middle">9</text>
<text x="174.82" y="455.42" font-size="5.3" class="t" text-anchor="middle">9</text>
<text x="190.69" y="455.42" font-size="5.3" class="t" text-anchor="middle">10</text>
<text x="206.57" y="455.42" font-size="5.3" class="t" text-anchor="middle">10</text>
<text x="222.44" y="455.42" font-size="5.3" class="t" text-anchor="middle">10</text>
<text x="238.32" y="455.42" font-size="5.3" class="t" text-anchor="middle">10</text>
<text x="254.2" y="455.42" font-size="5.3" class="t" text-anchor="middle">11</text>
<text x="270.07" y="455.42" font-size="5.3" class="t" text-anchor="middle">11</text>
<text x="285.95" y="455.42" font-size="5.3" class="t" text-anchor="middle">11</text>
<text x="301.82" y="455.42" font-size="5.3" class="t" text-anchor="middle">11</text>
<text x="317.7" y="455.42" font-size="5.3" class="t" text-anchor="middle">12</text>
<text x="333.58" y="455.42" font-size="5.3" class="t" text-anchor="middle">12</text>
<text x="349.45" y="455.42" font-size="5.3" class="t" text-anchor="middle">12</text>
<text x="365.33" y="455.42" font-size="5.3" class="t" text-anchor="middle">12</text>
<text x="381.2" y="455.42" font-size="5.3" class="t" text-anchor="middle">13</text>
<text x="397.08" y="455.42" font-size="5.3" class="t" text-anchor="middle">13</text>
<text x="412.96" y="455.42" font-size="5.3" class="t" text-anchor="middle">13</text>
<text x="428.83" y="455.42" font-size="5.3" class="t" text-anchor="middle">13</text>
<text x="444.71" y="455.42" font-size="5.3" class="t" text-anchor="middle">14</text>
<text x="460.58" y="455.42" font-size="5.3" class="t" text-anchor="middle">14</text>
<text x="476.46" y="455.42" font-size="5.3" class="t" text-anchor="middle">14</text>
<text x="492.33" y="455.42" font-size="5.3" class="t" text-anchor="middle">14</text>
<text x="508.21" y="455.42" font-size="5.3" class="t" text-anchor="middle">15</text>
<text x="524.09" y="455.42" font-size="5.3" class="t" text-anchor="middle">15</text>
<text x="539.96" y="455.42" font-size="5.3" class="t" text-anchor="middle">15</text>
<text x="554.95" y="455.42" font-size="5.3" class="t" text-anchor="middle">15</text>
<line x1="59.2" y1="456.78" x2="562" y2="456.78" stroke="#777" stroke-width="0.5"/>
<text x="73.35" y="462.28" font-size="5.2" class="d" text-anchor="middle">N</text>
<text x="95.44" y="462.28" font-size="5.3" class="t" text-anchor="middle">20</text>
<text x="111.31" y="462.28" font-size="5.3" class="t" text-anchor="middle">20</text>
<text x="127.19" y="462.28" font-size="5.3" class="t" text-anchor="middle">22</text>
<text x="143.07" y="462.28" font-size="5.3" class="t" text-anchor="middle">22</text>
<text x="158.94" y="462.28" font-size="5.3" class="t" text-anchor="middle">22</text>
<text x="174.82" y="462.28" font-size="5.3" class="t" text-anchor="middle">22</text>
<text x="190.69" y="462.28" font-size="5.3" class="t" text-anchor="middle">24</text>
<text x="206.57" y="462.28" font-size="5.3" class="t" text-anchor="middle">24</text>
<text x="222.44" y="462.28" font-size="5.3" class="t" text-anchor="middle">24</text>
<text x="238.32" y="462.28" font-size="5.3" class="t" text-anchor="middle">24</text>
<text x="254.2" y="462.28" font-size="5.3" class="t" text-anchor="middle">26</text>
<text x="270.07" y="462.28" font-size="5.3" class="t" text-anchor="middle">26</text>
<text x="285.95" y="462.28" font-size="5.3" class="t" text-anchor="middle">26</text>
<text x="301.82" y="462.28" font-size="5.3" class="t" text-anchor="middle">26</text>
<text x="317.7" y="462.28" font-size="5.3" class="t" text-anchor="middle">28</text>
<text x="333.58" y="462.28" font-size="5.3" class="t" text-anchor="middle">28</text>
<text x="349.45" y="462.28" font-size="5.3" class="t" text-anchor="middle">28</text>
<text x="365.33" y="462.28" font-size="5.3" class="t" text-anchor="middle">28</text>
<text x="381.2" y="462.28" font-size="5.3" class="t" text-anchor="middle">30</text>
<text x="397.08" y="462.28" font-size="5.3" class="t" text-anchor="middle">30</text>
<text x="412.96" y="462.28" font-size="5.3" class="t" text-anchor="middle">30</text>
<text x="428.83" y="462.28" font-size="5.3" class="t" text-anchor="middle">30</text>
<text x="444.71" y="462.28" font-size="5.3" class="t" text-anchor="middle">32</text>
<text x="460.58" y="462.28" font-size="5.3" class="t" text-anchor="middle">32</text>
<text x="476.46" y="462.28" font-size="5.3" class="t" text-anchor="middle">32</text>
<text x="492.33" y="462.28" font-size="5.3" class="t" text-anchor="middle">32</text>
<text x="508.21" y="462.28" font-size="5.3" class="t" text-anchor="middle">34</text>
<text x="524.09" y="462.28" font-size="5.3" class="t" text-anchor="middle">34</text>
<text x="539.96" y="462.28" font-size="5.3" class="t" text-anchor="middle">34</text>
<text x="554.95" y="462.28" font-size="5.3" class="t" text-anchor="middle">34</text>
<line x1="59.2" y1="463.64" x2="562" y2="463.64" stroke="#777" stroke-width="0.5"/>
<text x="73.35" y="469.14" font-size="5.2" class="d" text-anchor="middle">KG</text>
<text x="95.44" y="469.14" font-size="5.3" class="t" text-anchor="middle">27.5</text>
<text x="111.31" y="469.14" font-size="5.3" class="t" text-anchor="middle">28.1</text>
<text x="127.19" y="469.14" font-size="5.3" class="t" text-anchor="middle">28.7</text>
<text x="143.07" y="469.14" font-size="5.3" class="t" text-anchor="middle">29.3</text>
<text x="158.94" y="469.14" font-size="5.3" class="t" text-anchor="middle">29.9</text>
<text x="174.82" y="469.14" font-size="5.3" class="t" text-anchor="middle">30.5</text>
<text x="190.69" y="469.14" font-size="5.3" class="t" text-anchor="middle">31.1</text>
<text x="206.57" y="469.14" font-size="5.3" class="t" text-anchor="middle">31.7</text>
<text x="222.44" y="469.14" font-size="5.3" class="t" text-anchor="middle">32.3</text>
<text x="238.32" y="469.14" font-size="5.3" class="t" text-anchor="middle">32.9</text>
<text x="254.2" y="469.14" font-size="5.3" class="t" text-anchor="middle">33.5</text>
<text x="270.07" y="469.14" font-size="5.3" class="t" text-anchor="middle">34.1</text>
<text x="285.95" y="469.14" font-size="5.3" class="t" text-anchor="middle">34.7</text>
<text x="301.82" y="469.14" font-size="5.3" class="t" text-anchor="middle">35.3</text>
<text x="317.7" y="469.14" font-size="5.3" class="t" text-anchor="middle">35.9</text>
<text x="333.58" y="469.14" font-size="5.3" class="t" text-anchor="middle">36.5</text>
<text x="349.45" y="469.14" font-size="5.3" class="t" text-anchor="middle">37.1</text>
<text x="365.33" y="469.14" font-size="5.3" class="t" text-anchor="middle">37.7</text>
<text x="381.2" y="469.14" font-size="5.3" class="t" text-anchor="middle">38.3</text>
<text x="397.08" y="469.14" font-size="5.3" class="t" text-anchor="middle">38.9</text>
<text x="412.96" y="469.14" font-size="5.3" class="t" text-anchor="middle">39.5</text>
<text x="428.83" y="469.14" font-size="5.3" class="t" text-anchor="middle">40.1</text>
<text x="444.71" y="469.14" font-size="5.3" class="t" text-anchor="middle">40.7</text>
<text x="460.58" y="469.14" font-size="5.3" class="t" text-anchor="middle">41.3</text>
<text x="476.46" y="469.14" font-size="5.3" class="t" text-anchor="middle">41.9</text>
<text x="492.33" y="469.14" font-size="5.3" class="t" text-anchor="middle">42.5</text>
<text x="508.21" y="469.14" font-size="5.3" class="t" text-anchor="middle">43.1</text>
<text x="524.09" y="469.14" font-size="5.3" class="t" text-anchor="middle">43.7</text>
<text x="539.96" y="469.14" font-size="5.3" class="t" text-anchor="middle">44.3</text>
<text x="554.95" y="469.14" font-size="5.3" class="t" text-anchor="middle">44.9</text>
<line x1="59.2" y1="470.5" x2="562" y2="470.5" stroke="#444" stroke-width="0.9"/>
</g>
<g transform="translate(0 0)">
<line x1="194.4" y1="173" x2="405.5" y2="173" stroke="#3c3c3c" stroke-width="0.4"/>
<path d="M194.4 173 l2 -0.55 v1.1 z" fill="#444"/>
<path d="M405.5 173 l-2 -0.55 v1.1 z" fill="#444"/>
<line x1="194.4" y1="172" x2="194.4" y2="207" stroke="#3c3c3c" stroke-width="0.4"/>
<line x1="405.5" y1="172" x2="405.5" y2="209" stroke="#3c3c3c" stroke-width="0.4"/>
<line x1="194.4" y1="172.2" x2="194.4" y2="173.8" stroke="#3c3c3c" stroke-width="0.45"/>
<line x1="405.5" y1="172.2" x2="405.5" y2="173.8" stroke="#3c3c3c" stroke-width="0.45"/>
<text x="300" y="171.2" font-size="7" class="d" textLength="14.1" lengthAdjust="spacingAndGlyphs">L+71</text>
<text x="217" y="180.2" font-size="5.8" class="d" font-weight="500" textLength="25.6" lengthAdjust="spacing">滑台原點</text>
<text x="244.2" y="180.7" font-size="7" class="d" textLength="11" lengthAdjust="spacingAndGlyphs">218</text>
<text x="217" y="186.4" font-size="5.1" fill="#808080" textLength="49" lengthAdjust="spacing">Origin of actuator:218</text>
<line x1="212.9" y1="187.8" x2="405.5" y2="187.8" stroke="#3c3c3c" stroke-width="0.4"/>
<path d="M212.9 187.8 l2 -0.55 v1.1 z" fill="#444"/>
<path d="M405.5 187.8 l-2 -0.55 v1.1 z" fill="#444"/>
<line x1="212.9" y1="187" x2="212.9" y2="188.6" stroke="#3c3c3c" stroke-width="0.45"/>
<line x1="270" y1="187" x2="270" y2="188.6" stroke="#3c3c3c" stroke-width="0.45"/>
<line x1="361.3" y1="187" x2="361.3" y2="188.6" stroke="#3c3c3c" stroke-width="0.45"/>
<text x="294.6" y="186.2" font-size="6" class="d" font-weight="500" textLength="25.6" lengthAdjust="spacing">有效行程</text>
<text x="321.8" y="185.6" font-size="4.9" fill="#808080" textLength="14.2" lengthAdjust="spacing">Stroke</text>
<text x="377.7" y="186.5" font-size="7" class="d" textLength="11.6" lengthAdjust="spacingAndGlyphs">170</text>
<text x="388.3" y="195.7" font-size="6" class="d" font-weight="500" textLength="38.4" lengthAdjust="spacing">滑台機械極限</text>
<text x="427.2" y="196" font-size="6.3" class="d" textLength="13" lengthAdjust="spacing">72±1</text>
<text x="388.3" y="201.6" font-size="5.1" fill="#808080" textLength="49.1" lengthAdjust="spacing">Mechanical limit:72±1</text>
<line x1="380.8" y1="203.8" x2="440.4" y2="203.8" stroke="#3c3c3c" stroke-width="0.4"/>
<line x1="386.5" y1="203" x2="386.5" y2="204.6" stroke="#3c3c3c" stroke-width="0.45"/>
<line x1="405.5" y1="203" x2="405.5" y2="204.6" stroke="#3c3c3c" stroke-width="0.45"/>
<text x="283.8" y="195.7" font-size="7" class="d" textLength="38.2" lengthAdjust="spacingAndGlyphs">2-Ø6<tspan font-family="DejaVu Sans, sans-serif" font-weight="bold" font-size="0.78em" dx="-0.5" dy="-0.1">↧</tspan><tspan dx="-0.5" dy="0.1">​</tspan>15 H7</text>
<text x="291.5" y="204" font-size="7" class="d" textLength="27.8" lengthAdjust="spacingAndGlyphs">4-M6<tspan font-family="DejaVu Sans, sans-serif" font-weight="bold" font-size="0.78em" dx="-0.5" dy="-0.1">↧</tspan><tspan dx="-0.5" dy="0.1">​</tspan>15</text>
<rect x="194.4" y="206.6" width="37.2" height="10.8" fill="#e6e6e7" stroke="#333" stroke-width="0.7"/>
<line x1="211.4" y1="209.5" x2="211.4" y2="217.4" stroke="#888" stroke-width="0.35"/>
<rect x="195.2" y="217.4" width="15.4" height="1.8" fill="#dcdcdc" stroke="#333" stroke-width="0.5"/>
<rect x="194.6" y="219.2" width="16.4" height="24.4" fill="#e6e6e7" stroke="#333" stroke-width="0.6"/>
<line x1="197.2" y1="219.6" x2="197.2" y2="243.2" stroke="#b5b5b5" stroke-width="0.35"/>
<line x1="199.4" y1="219.6" x2="199.4" y2="243.2" stroke="#b5b5b5" stroke-width="0.35"/>
<line x1="201.6" y1="219.6" x2="201.6" y2="243.2" stroke="#b5b5b5" stroke-width="0.35"/>
<line x1="203.8" y1="219.6" x2="203.8" y2="243.2" stroke="#b5b5b5" stroke-width="0.35"/>
<line x1="206" y1="219.6" x2="206" y2="243.2" stroke="#b5b5b5" stroke-width="0.35"/>
<line x1="208.2" y1="219.6" x2="208.2" y2="243.2" stroke="#b5b5b5" stroke-width="0.35"/>
<line x1="202.8" y1="217" x2="202.8" y2="245" stroke="#888" stroke-width="0.3" stroke-dasharray="3 1 0.8 1"/>
<line x1="194.6" y1="234.2" x2="211" y2="234.2" stroke="#666" stroke-width="0.4"/>
<line x1="194.6" y1="235.6" x2="211" y2="235.6" stroke="#666" stroke-width="0.4"/>
<line x1="194.6" y1="239.6" x2="211" y2="239.6" stroke="#666" stroke-width="0.4"/>
<rect x="191.6" y="229.2" width="3" height="2.6" fill="#ddd" stroke="#333" stroke-width="0.45"/>
<rect x="190.6" y="229.9" width="1" height="1.2" fill="#ddd" stroke="#333" stroke-width="0.4"/>
<rect x="192.2" y="239.6" width="2.4" height="2.6" fill="#ddd" stroke="#333" stroke-width="0.45"/>
<rect x="191.2" y="240.3" width="1" height="1.2" fill="#ddd" stroke="#333" stroke-width="0.4"/>
<rect x="213.8" y="218" width="17" height="19.2" fill="#e6e6e7" stroke="#333" stroke-width="0.7"/>
<rect x="214.6" y="237.2" width="2" height="1.2" fill="#dcdcdc" stroke="#333" stroke-width="0.4"/>
<rect x="227.6" y="237.2" width="2" height="1.2" fill="#dcdcdc" stroke="#333" stroke-width="0.4"/>
<circle cx="216.8" cy="220.6" r="0.85" fill="#333" stroke="none" stroke-width="0"/>
<circle cx="228" cy="220.6" r="0.85" fill="#333" stroke="none" stroke-width="0"/>
<circle cx="216.8" cy="233.6" r="0.85" fill="#333" stroke="none" stroke-width="0"/>
<circle cx="228" cy="233.6" r="0.85" fill="#333" stroke="none" stroke-width="0"/>
<line x1="211" y1="221" x2="213.8" y2="221" stroke="#333" stroke-width="0.4"/>
<line x1="211" y1="234" x2="213.8" y2="234" stroke="#333" stroke-width="0.4"/>
<rect x="231.6" y="209.2" width="173.9" height="35.4" fill="#e6e6e7" stroke="#333" stroke-width="0.8"/>
<line x1="242.3" y1="208.9" x2="242.3" y2="244.9" stroke="#555" stroke-width="0.5"/>
<rect x="235.7" y="212.8" width="4" height="9.8" fill="#ececec" stroke="#777" stroke-width="0.4" rx="1.6"/>
<rect x="235.7" y="229.8" width="4" height="9.8" fill="#ececec" stroke="#777" stroke-width="0.4" rx="1.6"/>
<circle cx="237.7" cy="215" r="1" fill="#333" stroke="none" stroke-width="0"/>
<circle cx="237.7" cy="220.4" r="1" fill="#333" stroke="none" stroke-width="0"/>
<circle cx="237.7" cy="232" r="1" fill="#333" stroke="none" stroke-width="0"/>
<circle cx="237.7" cy="237.4" r="1" fill="#333" stroke="none" stroke-width="0"/>
<line x1="243.6" y1="212" x2="243.6" y2="242" stroke="#999" stroke-width="0.3" stroke-dasharray="1.2 0.8"/>
<line x1="293.8" y1="219.6" x2="398" y2="219.6" stroke="#8a8a8a" stroke-width="0.5"/>
<line x1="293.8" y1="234.7" x2="398" y2="234.7" stroke="#8a8a8a" stroke-width="0.5"/>
<rect x="245.4" y="210.6" width="48.4" height="32.8" fill="#ebebeb" stroke="#666" stroke-width="0.5"/>
<rect x="256.3" y="211.6" width="27.2" height="5.4" fill="#efefef" stroke="#444" stroke-width="0.5"/>
<rect x="256.3" y="237.6" width="27.2" height="5.4" fill="#efefef" stroke="#444" stroke-width="0.5"/>
<circle cx="259.4" cy="214" r="0.55" fill="#333" stroke="none" stroke-width="0"/>
<circle cx="259.4" cy="240.4" r="0.55" fill="#333" stroke="none" stroke-width="0"/>
<circle cx="270" cy="214" r="0.55" fill="#333" stroke="none" stroke-width="0"/>
<circle cx="270" cy="240.4" r="0.55" fill="#333" stroke="none" stroke-width="0"/>
<circle cx="280.4" cy="214" r="0.55" fill="#333" stroke="none" stroke-width="0"/>
<circle cx="280.4" cy="240.4" r="0.55" fill="#333" stroke="none" stroke-width="0"/>
<circle cx="280.6" cy="210.6" r="0.7" fill="#333" stroke="none" stroke-width="0"/>
<circle cx="280.6" cy="243.6" r="0.7" fill="#333" stroke="none" stroke-width="0"/>
<line x1="249.7" y1="211.4" x2="251.3" y2="211.4" stroke="#444" stroke-width="0.5"/>
<line x1="249.7" y1="242.6" x2="251.3" y2="242.6" stroke="#444" stroke-width="0.5"/>
<line x1="287.8" y1="211.4" x2="289.4" y2="211.4" stroke="#444" stroke-width="0.5"/>
<line x1="287.8" y1="242.6" x2="289.4" y2="242.6" stroke="#444" stroke-width="0.5"/>
<line x1="398" y1="208.9" x2="398" y2="244.9" stroke="#777" stroke-width="0.4"/>
<line x1="402.8" y1="208.9" x2="402.8" y2="244.9" stroke="#555" stroke-width="0.5"/>
<path d="M402.8 213 H399.4 Q397.8 213 397.8 214.6 V221.6 Q397.8 223.2 399.4 223.2 H402.8" fill="#ececec" stroke="#888" stroke-width="0.35"/>
<path d="M402.8 230.2 H399.4 Q397.8 230.2 397.8 231.8 V238.8 Q397.8 240.4 399.4 240.4 H402.8" fill="#ececec" stroke="#888" stroke-width="0.35"/>
<circle cx="400.2" cy="215.3" r="0.85" fill="#333" stroke="none" stroke-width="0"/>
<circle cx="400.2" cy="220.8" r="0.85" fill="#333" stroke="none" stroke-width="0"/>
<circle cx="400.2" cy="232.5" r="0.85" fill="#333" stroke="none" stroke-width="0"/>
<circle cx="400.2" cy="238.1" r="0.85" fill="#333" stroke="none" stroke-width="0"/>
<rect x="336.4" y="211.4" width="50" height="31" fill="none" stroke="#5a5a5a" stroke-width="0.4" stroke-dasharray="3.2 0.9 0.7 0.9"/>
<circle cx="332" cy="210" r="0.7" fill="#333" stroke="none" stroke-width="0"/>
<circle cx="332" cy="244" r="0.7" fill="#333" stroke="none" stroke-width="0"/>
<line x1="229" y1="227" x2="408" y2="227" stroke="#a8a8a8" stroke-width="0.75" stroke-dasharray="16 2.4 5.5 2.4"/>
<rect x="405.5" y="236.2" width="6.1" height="4.6" fill="#cfcfcf" stroke="#333" stroke-width="0.5"/>
<line x1="407.4" y1="236.2" x2="407.4" y2="240.8" stroke="#333" stroke-width="0.35"/>
<line x1="409.4" y1="236.2" x2="409.4" y2="240.8" stroke="#333" stroke-width="0.35"/>
<rect x="266" y="244.9" width="2" height="3.3" fill="#bbb" stroke="#333" stroke-width="0.4"/>
<rect x="272.6" y="244.9" width="2" height="3.3" fill="#bbb" stroke="#333" stroke-width="0.4"/>
<line x1="263.5" y1="245.6" x2="277" y2="245.6" stroke="#333" stroke-width="0.6"/>
<rect x="360.6" y="244.9" width="2" height="3.7" fill="#bbb" stroke="#333" stroke-width="0.4"/>
<line x1="270" y1="186.8" x2="270" y2="251" stroke="#555" stroke-width="0.4" stroke-dasharray="9 1 1.5 1"/>
<line x1="361.3" y1="186.8" x2="361.3" y2="250" stroke="#555" stroke-width="0.4" stroke-dasharray="9 1 1.5 1"/>
<line x1="386.5" y1="202.6" x2="386.5" y2="244" stroke="#3c3c3c" stroke-width="0.35" stroke-dasharray="2 1"/>
<path d="M322 197 H282.3 L266.6 218.5" fill="none" stroke="#3c3c3c" stroke-width="0.4"/>
<path d="M320 205.4 H289.7 L277.7 217.8" fill="none" stroke="#3c3c3c" stroke-width="0.4"/>
<text x="182" y="202.4" font-size="7" class="d" textLength="12.6" lengthAdjust="spacingAndGlyphs" transform="rotate(-90 182 202.4)">12.7</text>
<line x1="182.8" y1="187.5" x2="182.8" y2="214" stroke="#3c3c3c" stroke-width="0.4"/>
<line x1="181" y1="206.6" x2="195" y2="206.6" stroke="#3c3c3c" stroke-width="0.4"/>
<line x1="181" y1="208.9" x2="195" y2="208.9" stroke="#3c3c3c" stroke-width="0.4"/>
<line x1="156" y1="260.9" x2="250" y2="260.9" stroke="#3c3c3c" stroke-width="0.4"/>
<line x1="212.9" y1="260.1" x2="212.9" y2="261.7" stroke="#3c3c3c" stroke-width="0.45"/>
<line x1="245.4" y1="260.1" x2="245.4" y2="261.7" stroke="#3c3c3c" stroke-width="0.45"/>
<line x1="212.9" y1="186.8" x2="212.9" y2="262" stroke="#3c3c3c" stroke-width="0.4"/>
<text x="156" y="253.2" font-size="6" class="d" font-weight="500" textLength="38.4" lengthAdjust="spacing">滑台機械極限</text>
<text x="195" y="253.5" font-size="6.3" class="d" textLength="16.3" lengthAdjust="spacing">114±1</text>
<text x="156" y="258.7" font-size="5.15" fill="#808080" textLength="52" lengthAdjust="spacing">Mechanical limit:114±1</text>
<line x1="245.4" y1="244.9" x2="245.4" y2="270.4" stroke="#3c3c3c" stroke-width="0.4"/>
<line x1="258.5" y1="243" x2="258.5" y2="256.6" stroke="#3c3c3c" stroke-width="0.4"/>
<line x1="280.8" y1="243" x2="280.8" y2="256.6" stroke="#3c3c3c" stroke-width="0.4"/>
<line x1="256.4" y1="243" x2="256.4" y2="263.4" stroke="#3c3c3c" stroke-width="0.4"/>
<line x1="283.5" y1="243" x2="283.5" y2="263.4" stroke="#3c3c3c" stroke-width="0.4"/>
<line x1="293.8" y1="244.9" x2="293.8" y2="270.4" stroke="#3c3c3c" stroke-width="0.4"/>
<line x1="258.5" y1="255.8" x2="280.8" y2="255.8" stroke="#3c3c3c" stroke-width="0.4"/>
<path d="M258.5 255.8 l2 -0.55 v1.1 z" fill="#444"/>
<path d="M280.8 255.8 l-2 -0.55 v1.1 z" fill="#444"/>
<line x1="258.5" y1="255" x2="258.5" y2="256.6" stroke="#3c3c3c" stroke-width="0.45"/>
<line x1="280.8" y1="255" x2="280.8" y2="256.6" stroke="#3c3c3c" stroke-width="0.45"/>
<line x1="256.4" y1="262.7" x2="283.5" y2="262.7" stroke="#3c3c3c" stroke-width="0.4"/>
<path d="M256.4 262.7 l2 -0.55 v1.1 z" fill="#444"/>
<path d="M283.5 262.7 l-2 -0.55 v1.1 z" fill="#444"/>
<line x1="256.4" y1="261.9" x2="256.4" y2="263.5" stroke="#3c3c3c" stroke-width="0.45"/>
<line x1="283.5" y1="261.9" x2="283.5" y2="263.5" stroke="#3c3c3c" stroke-width="0.45"/>
<line x1="245.4" y1="269.6" x2="293.8" y2="269.6" stroke="#3c3c3c" stroke-width="0.4"/>
<path d="M245.4 269.6 l2 -0.55 v1.1 z" fill="#444"/>
<path d="M293.8 269.6 l-2 -0.55 v1.1 z" fill="#444"/>
<line x1="245.4" y1="268.8" x2="245.4" y2="270.4" stroke="#3c3c3c" stroke-width="0.45"/>
<line x1="293.8" y1="268.8" x2="293.8" y2="270.4" stroke="#3c3c3c" stroke-width="0.45"/>
<text x="269.8" y="255.1" font-size="7" class="d" text-anchor="middle" textLength="7.4" lengthAdjust="spacingAndGlyphs">84</text>
<text x="269.8" y="261.9" font-size="7" class="d" text-anchor="middle" textLength="11.1" lengthAdjust="spacingAndGlyphs">100</text>
<text x="269.8" y="268.8" font-size="7" class="d" text-anchor="middle" textLength="11.1" lengthAdjust="spacingAndGlyphs">190</text>
<line x1="405.5" y1="244.9" x2="405.5" y2="253.2" stroke="#3c3c3c" stroke-width="0.4"/>
<line x1="411.6" y1="241" x2="411.6" y2="253.2" stroke="#3c3c3c" stroke-width="0.4"/>
<line x1="400" y1="252.3" x2="422.4" y2="252.3" stroke="#3c3c3c" stroke-width="0.4"/>
<path d="M405.5 252.3 l-2 -0.55 v1.1 z" fill="#444"/>
<path d="M411.6 252.3 l2 -0.55 v1.1 z" fill="#444"/>
<text x="415.3" y="250.5" font-size="7" class="d" textLength="7" lengthAdjust="spacingAndGlyphs">35</text>
<text x="415.7" y="223" font-size="7" class="d" textLength="12.4" lengthAdjust="spacingAndGlyphs">Ø10</text>
<text x="428.5" y="222.7" font-size="6.3" class="d" font-weight="500" textLength="27.8" lengthAdjust="spacing">氣壓接頭</text>
<text x="415.7" y="228.6" font-size="5.6" fill="#808080" textLength="33.8" lengthAdjust="spacing">Ø10 air fitting</text>
<path d="M458 230.1 H415 L411 237" fill="none" stroke="#3c3c3c" stroke-width="0.4"/>
<text x="309.7" y="262.6" font-size="7" class="d" textLength="26.4" lengthAdjust="spacingAndGlyphs">4-M5<tspan font-family="DejaVu Sans, sans-serif" font-weight="bold" font-size="0.78em" dx="-0.5" dy="-0.1">↧</tspan><tspan dx="-0.5" dy="0.1">​</tspan>10</text>
<text x="309.7" y="269.5" font-size="5.9" class="d" font-weight="500" textLength="43.8" lengthAdjust="spacing">對面同位置兩孔</text>
<text x="309.7" y="275.3" font-size="5.1" fill="#808080" textLength="105" lengthAdjust="spacing">2 holes on the same position at oppos ite side.</text>
<path d="M414.6 277 H308.5 L284 281.6" fill="none" stroke="#3c3c3c" stroke-width="0.4"/>
</g>
<g transform="translate(0 0)">
<text x="254.3" y="276.6" font-size="7" class="d" textLength="3.4" lengthAdjust="spacingAndGlyphs">7</text>
<text x="266.2" y="277.2" font-size="7" class="d" textLength="7.6" lengthAdjust="spacingAndGlyphs">50</text>
<line x1="263.2" y1="279" x2="276.6" y2="279" stroke="#3c3c3c" stroke-width="0.4"/>
<path d="M263.2 279 l2 -0.55 v1.1 z" fill="#444"/>
<path d="M276.6 279 l-2 -0.55 v1.1 z" fill="#444"/>
<line x1="263.2" y1="278.2" x2="263.2" y2="279.8" stroke="#3c3c3c" stroke-width="0.45"/>
<line x1="276.6" y1="278.2" x2="276.6" y2="279.8" stroke="#3c3c3c" stroke-width="0.45"/>
<line x1="263.2" y1="278" x2="263.2" y2="284.4" stroke="#3c3c3c" stroke-width="0.4"/>
<line x1="276.6" y1="278" x2="276.6" y2="284.4" stroke="#3c3c3c" stroke-width="0.4"/>
<rect x="194.2" y="286.6" width="18.5" height="19.2" fill="#e6e6e7" stroke="#333" stroke-width="0.7"/>
<rect x="191.6" y="293.2" width="2.6" height="6" fill="#ddd" stroke="#333" stroke-width="0.5"/>
<path d="M191.6 294.6 L190.2 295.4 V297 L191.6 297.8" fill="#ddd" stroke="#333" stroke-width="0.45"/>
<rect x="196" y="288.4" width="14.8" height="15.6" fill="#ededed" stroke="#777" stroke-width="0.4" rx="3"/>
<path d="M196.2 289.4 l2 -0.9 l0.6 1.2 l-1.8 1.2z" fill="#444" stroke="none" stroke-width="0"/>
<path d="M208.8 289.4 l2 -0.9 l0.6 1.2 l-1.8 1.2z" fill="#444" stroke="none" stroke-width="0"/>
<path d="M196.2 303 l2 -0.9 l0.6 1.2 l-1.8 1.2z" fill="#444" stroke="none" stroke-width="0"/>
<path d="M208.8 303 l2 -0.9 l0.6 1.2 l-1.8 1.2z" fill="#444" stroke="none" stroke-width="0"/>
<line x1="193" y1="296.2" x2="212" y2="296.2" stroke="#777" stroke-width="0.35" stroke-dasharray="4 1 1 1"/>
<line x1="203.4" y1="287" x2="203.4" y2="305.4" stroke="#888" stroke-width="0.3" stroke-dasharray="3 1 0.8 1"/>
<rect x="212.7" y="285.4" width="21.3" height="20.9" fill="#e6e6e7" stroke="#333" stroke-width="0.7"/>
<rect x="214.4" y="288" width="15.2" height="16" fill="#ededed" stroke="#444" stroke-width="0.5" rx="1"/>
<circle cx="215.8" cy="289.5" r="0.9" fill="#333" stroke="none" stroke-width="0"/>
<circle cx="228.2" cy="289.5" r="0.9" fill="#333" stroke="none" stroke-width="0"/>
<circle cx="215.8" cy="302.5" r="0.9" fill="#333" stroke="none" stroke-width="0"/>
<circle cx="228.2" cy="302.5" r="0.9" fill="#333" stroke="none" stroke-width="0"/>
<line x1="231.2" y1="285.4" x2="231.2" y2="306.3" stroke="#666" stroke-width="0.4"/>
<rect x="244.4" y="282.4" width="50.8" height="4.9" fill="#ececec" stroke="#333" stroke-width="0.5" rx="1"/>
<rect x="256.6" y="281.9" width="26.4" height="5.4" fill="#ececec" stroke="#333" stroke-width="0.6"/>
<line x1="258.4" y1="283.4" x2="281.2" y2="283.4" stroke="#999" stroke-width="0.35"/>
<circle cx="263.2" cy="284.4" r="0.6" fill="#333" stroke="none" stroke-width="0"/>
<circle cx="276.6" cy="284.4" r="0.6" fill="#333" stroke="none" stroke-width="0"/>
<rect x="234.5" y="287.3" width="171.1" height="19.1" fill="#e6e6e7" stroke="#333" stroke-width="0.8"/>
<rect x="397.7" y="286.2" width="7.9" height="1.4" fill="#e6e6e7" stroke="#333" stroke-width="0.5"/>
<line x1="234.5" y1="290.2" x2="402.4" y2="290.2" stroke="#b4b4b4" stroke-width="0.5"/>
<line x1="234.5" y1="298.4" x2="402.4" y2="298.4" stroke="#a2a2a2" stroke-width="1.7"/>
<line x1="234.5" y1="301" x2="402.4" y2="301" stroke="#c8c8c8" stroke-width="0.4"/>
<line x1="402.4" y1="287.3" x2="402.4" y2="306.4" stroke="#555" stroke-width="0.5"/>
<path d="M258.4 277.4 H252.6 V290" fill="none" stroke="#3c3c3c" stroke-width="0.4"/>
<rect x="268.3" y="287.3" width="3" height="10.7" fill="#f6f6f6" stroke="#555" stroke-width="0.45"/>
<line x1="263" y1="298.6" x2="277" y2="298.6" stroke="#333" stroke-width="0.6"/>
<rect x="265.9" y="294.6" width="1.4" height="9.8" fill="#f4f4f4" stroke="#333" stroke-width="0.45"/>
<rect x="272.3" y="294.6" width="1.4" height="9.8" fill="#f4f4f4" stroke="#333" stroke-width="0.45"/>
<rect x="361" y="294.2" width="1.2" height="10.2" fill="#f4f4f4" stroke="#555" stroke-width="0.35"/>
<rect x="359" y="297.8" width="5.4" height="1.2" fill="#f4f4f4" stroke="#555" stroke-width="0.35"/>
<rect x="405.4" y="293.8" width="6.1" height="7.7" fill="#d4d4d4" stroke="#333" stroke-width="0.5"/>
<line x1="407.6" y1="293.8" x2="407.6" y2="301.5" stroke="#333" stroke-width="0.35"/>
<rect x="408.4" y="295.6" width="2.2" height="4" fill="#eee" stroke="#333" stroke-width="0.35"/>
<rect x="123" y="282.3" width="32" height="4.9" fill="#e6e6e7" stroke="#333" stroke-width="0.6"/>
<line x1="138.4" y1="282.3" x2="138.4" y2="287.2" stroke="#999" stroke-width="0.3"/>
<rect x="118" y="287.2" width="38.2" height="19.3" fill="#e6e6e7" stroke="#333" stroke-width="0.7"/>
<rect x="118" y="287.2" width="12.8" height="19.3" fill="#e2e2e2" stroke="#333" stroke-width="0.5"/>
<rect x="130.8" y="289.4" width="16.8" height="15.2" fill="#ebebeb" stroke="#777" stroke-width="0.4"/>
<line x1="133" y1="289.6" x2="133" y2="304.4" stroke="#b5b5b5" stroke-width="0.35"/>
<line x1="135.2" y1="289.6" x2="135.2" y2="304.4" stroke="#b5b5b5" stroke-width="0.35"/>
<line x1="137.4" y1="289.6" x2="137.4" y2="304.4" stroke="#b5b5b5" stroke-width="0.35"/>
<line x1="139.6" y1="289.6" x2="139.6" y2="304.4" stroke="#b5b5b5" stroke-width="0.35"/>
<line x1="141.8" y1="289.6" x2="141.8" y2="304.4" stroke="#b5b5b5" stroke-width="0.35"/>
<line x1="144" y1="289.6" x2="144" y2="304.4" stroke="#b5b5b5" stroke-width="0.35"/>
<line x1="146.2" y1="289.6" x2="146.2" y2="304.4" stroke="#b5b5b5" stroke-width="0.35"/>
<line x1="149" y1="289.6" x2="149" y2="304.4" stroke="#b5b5b5" stroke-width="0.35"/>
<line x1="151" y1="289.6" x2="151" y2="304.4" stroke="#b5b5b5" stroke-width="0.35"/>
<line x1="153" y1="289.6" x2="153" y2="304.4" stroke="#b5b5b5" stroke-width="0.35"/>
<line x1="130.8" y1="291.6" x2="156" y2="291.6" stroke="#bdbdbd" stroke-width="0.3"/>
<line x1="130.8" y1="294" x2="156" y2="294" stroke="#bdbdbd" stroke-width="0.3"/>
<line x1="130.8" y1="299" x2="156" y2="299" stroke="#bdbdbd" stroke-width="0.3"/>
<line x1="130.8" y1="301.6" x2="156" y2="301.6" stroke="#bdbdbd" stroke-width="0.3"/>
<line x1="147.6" y1="287.2" x2="147.6" y2="306.5" stroke="#666" stroke-width="0.5"/>
<line x1="138.4" y1="281" x2="138.4" y2="308" stroke="#888" stroke-width="0.3" stroke-dasharray="3 1 0.8 1"/>
<line x1="116.5" y1="296.5" x2="161.5" y2="296.5" stroke="#888" stroke-width="0.3" stroke-dasharray="4 1 1 1"/>
<path d="M156.2 289 h2 v5.6 h1.8 v8.4 h-1.8 v2 h-2" fill="#e0e0e0" stroke="#333" stroke-width="0.5"/>
<rect x="157.4" y="296.6" width="2.2" height="4.8" fill="#ccc" stroke="#333" stroke-width="0.4"/>
</g>
<g transform="translate(0 0)">
<rect x="194.5" y="317.4" width="15.9" height="25.6" fill="#e6e6e7" stroke="#333" stroke-width="0.6"/>
<line x1="197" y1="318" x2="197" y2="342.6" stroke="#b5b5b5" stroke-width="0.35"/>
<line x1="199.2" y1="318" x2="199.2" y2="342.6" stroke="#b5b5b5" stroke-width="0.35"/>
<line x1="201.4" y1="318" x2="201.4" y2="342.6" stroke="#b5b5b5" stroke-width="0.35"/>
<line x1="203.6" y1="318" x2="203.6" y2="342.6" stroke="#b5b5b5" stroke-width="0.35"/>
<line x1="205.8" y1="318" x2="205.8" y2="342.6" stroke="#b5b5b5" stroke-width="0.35"/>
<line x1="208" y1="318" x2="208" y2="342.6" stroke="#b5b5b5" stroke-width="0.35"/>
<line x1="202.6" y1="316" x2="202.6" y2="344" stroke="#888" stroke-width="0.3" stroke-dasharray="3 1 0.8 1"/>
<path d="M194.5 319.4 Q202.4 316 210.4 319.4" fill="none" stroke="#333" stroke-width="0.45"/>
<line x1="194.5" y1="327.8" x2="210.4" y2="327.8" stroke="#555" stroke-width="0.4"/>
<line x1="194.5" y1="329.2" x2="210.4" y2="329.2" stroke="#555" stroke-width="0.4"/>
<rect x="191.6" y="319" width="2.9" height="2.6" fill="#ddd" stroke="#333" stroke-width="0.45"/>
<rect x="190.6" y="319.7" width="1" height="1.2" fill="#ddd" stroke="#333" stroke-width="0.4"/>
<rect x="191.8" y="329.6" width="2.7" height="2.4" fill="#ddd" stroke="#333" stroke-width="0.45"/>
<rect x="190.4" y="330.2" width="1.4" height="1.2" fill="#ddd" stroke="#333" stroke-width="0.4"/>
<rect x="214.6" y="323.4" width="2.2" height="1.4" fill="#dcdcdc" stroke="#333" stroke-width="0.4"/>
<rect x="227.6" y="323.4" width="2.2" height="1.4" fill="#dcdcdc" stroke="#333" stroke-width="0.4"/>
<rect x="213.5" y="324.8" width="17.5" height="18.6" fill="#e6e6e7" stroke="#333" stroke-width="0.7"/>
<circle cx="216.8" cy="328.6" r="0.85" fill="#333" stroke="none" stroke-width="0"/>
<circle cx="228.6" cy="328.6" r="0.85" fill="#333" stroke="none" stroke-width="0"/>
<circle cx="216.8" cy="341" r="0.85" fill="#333" stroke="none" stroke-width="0"/>
<circle cx="228.6" cy="341" r="0.85" fill="#333" stroke="none" stroke-width="0"/>
<line x1="210.4" y1="327" x2="213.5" y2="327" stroke="#333" stroke-width="0.4"/>
<line x1="210.4" y1="341" x2="213.5" y2="341" stroke="#333" stroke-width="0.4"/>
<rect x="194.5" y="343.2" width="37.5" height="12.6" fill="#e6e6e7" stroke="#333" stroke-width="0.7"/>
<line x1="230.6" y1="343.2" x2="230.6" y2="355.8" stroke="#666" stroke-width="0.4"/>
<circle cx="211.5" cy="356" r="0.5" fill="#333" stroke="none" stroke-width="0"/>
<rect x="232.4" y="317.4" width="173" height="36" fill="#e6e6e7" stroke="#333" stroke-width="0.8"/>
<line x1="233.8" y1="317.4" x2="233.8" y2="353.4" stroke="#666" stroke-width="0.4"/>
<line x1="402.8" y1="317.4" x2="402.8" y2="353.4" stroke="#555" stroke-width="0.5"/>
<line x1="233.8" y1="326.8" x2="402.8" y2="326.8" stroke="#a4a4a4" stroke-width="1.8"/>
<line x1="233.8" y1="343.9" x2="402.8" y2="343.9" stroke="#a4a4a4" stroke-width="1.8"/>
<line x1="229" y1="335.4" x2="408" y2="335.4" stroke="#8a8a8a" stroke-width="0.5" stroke-dasharray="16 2.4 5.5 2.4"/>
<circle cx="248.5" cy="321.5" r="1" fill="#333" stroke="none" stroke-width="0"/>
<circle cx="248.5" cy="349.2" r="1" fill="#333" stroke="none" stroke-width="0"/>
<circle cx="300.8" cy="321.5" r="1" fill="#333" stroke="none" stroke-width="0"/>
<circle cx="300.8" cy="349.2" r="1" fill="#333" stroke="none" stroke-width="0"/>
<circle cx="353" cy="321.5" r="1" fill="#333" stroke="none" stroke-width="0"/>
<circle cx="353" cy="349.2" r="1" fill="#333" stroke="none" stroke-width="0"/>
<circle cx="379.2" cy="321.5" r="1" fill="#333" stroke="none" stroke-width="0"/>
<circle cx="379.2" cy="349.2" r="1" fill="#333" stroke="none" stroke-width="0"/>
<rect x="405.4" y="321" width="6.1" height="4.8" fill="#d0d0d0" stroke="#333" stroke-width="0.5"/>
<line x1="407.6" y1="321" x2="407.6" y2="325.8" stroke="#333" stroke-width="0.35"/>
<rect x="408.4" y="322" width="2.2" height="2.8" fill="#eee" stroke="#333" stroke-width="0.35"/>
<line x1="380" y1="321.5" x2="416.4" y2="321.5" stroke="#3c3c3c" stroke-width="0.4"/>
<line x1="380" y1="349.2" x2="416.4" y2="349.2" stroke="#3c3c3c" stroke-width="0.4"/>
<line x1="405.4" y1="317.4" x2="427" y2="317.4" stroke="#3c3c3c" stroke-width="0.4"/>
<line x1="405.4" y1="353.4" x2="427" y2="353.4" stroke="#3c3c3c" stroke-width="0.4"/>
<line x1="415.4" y1="321.5" x2="415.4" y2="349.2" stroke="#3c3c3c" stroke-width="0.4"/>
<line x1="414.6" y1="321.5" x2="416.2" y2="321.5" stroke="#3c3c3c" stroke-width="0.45"/>
<line x1="414.6" y1="349.2" x2="416.2" y2="349.2" stroke="#3c3c3c" stroke-width="0.45"/>
<line x1="424.4" y1="317.4" x2="424.4" y2="353.4" stroke="#3c3c3c" stroke-width="0.4"/>
<line x1="423.6" y1="317.4" x2="425.2" y2="317.4" stroke="#3c3c3c" stroke-width="0.45"/>
<line x1="423.6" y1="353.4" x2="425.2" y2="353.4" stroke="#3c3c3c" stroke-width="0.45"/>
<text x="414.4" y="341" font-size="7" class="d" textLength="11.4" lengthAdjust="spacingAndGlyphs" transform="rotate(-90 414.4 341)">106</text>
<text x="423.4" y="341" font-size="7" class="d" textLength="11.4" lengthAdjust="spacingAndGlyphs" transform="rotate(-90 423.4 341)">135</text>
<line x1="232.4" y1="354" x2="232.4" y2="369.2" stroke="#3c3c3c" stroke-width="0.4"/>
<line x1="232.4" y1="367.4" x2="232.4" y2="369" stroke="#3c3c3c" stroke-width="0.45"/>
<line x1="248.5" y1="350" x2="248.5" y2="369.2" stroke="#3c3c3c" stroke-width="0.4"/>
<line x1="248.5" y1="367.4" x2="248.5" y2="369" stroke="#3c3c3c" stroke-width="0.45"/>
<line x1="353" y1="350" x2="353" y2="369.2" stroke="#3c3c3c" stroke-width="0.4"/>
<line x1="353" y1="367.4" x2="353" y2="369" stroke="#3c3c3c" stroke-width="0.45"/>
<line x1="379.2" y1="350" x2="379.2" y2="369.2" stroke="#3c3c3c" stroke-width="0.4"/>
<line x1="379.2" y1="367.4" x2="379.2" y2="369" stroke="#3c3c3c" stroke-width="0.45"/>
<line x1="405.4" y1="354" x2="405.4" y2="369.2" stroke="#3c3c3c" stroke-width="0.4"/>
<line x1="405.4" y1="367.4" x2="405.4" y2="369" stroke="#3c3c3c" stroke-width="0.45"/>
<line x1="232.4" y1="368.2" x2="405.4" y2="368.2" stroke="#3c3c3c" stroke-width="0.4"/>
<path d="M232.4 368.2 l2 -0.55 v1.1 z" fill="#444"/>
<path d="M405.4 368.2 l-2 -0.55 v1.1 z" fill="#444"/>
<text x="238.8" y="366.7" font-size="7" class="d" textLength="6.8" lengthAdjust="spacingAndGlyphs">61</text>
<text x="282.6" y="366.9" font-size="7" class="d" textLength="21.2" lengthAdjust="spacingAndGlyphs">M*200</text>
<text x="364.6" y="366.7" font-size="7" class="d" textLength="4.4" lengthAdjust="spacingAndGlyphs">A</text>
<text x="389.2" y="366.7" font-size="7" class="d" textLength="10.8" lengthAdjust="spacingAndGlyphs">101</text>
<text x="307.7" y="360.2" font-size="7" class="d" textLength="29.2" lengthAdjust="spacingAndGlyphs">N-M6<tspan font-family="DejaVu Sans, sans-serif" font-weight="bold" font-size="0.78em" dx="-0.5" dy="-0.1">↧</tspan><tspan dx="-0.5" dy="0.1">​</tspan>10</text>
<path d="M307.7 361.5 H339.2 L352.6 349.8" fill="none" stroke="#3c3c3c" stroke-width="0.4"/>
</g>
<g transform="translate(0 0)">
<text x="465.2" y="174.3" font-size="7.4" fill="#29abe2" textLength="23.8" lengthAdjust="spacing">B View</text>
<path d="M478.9 187.8 V194.2 Q478.9 195.2 477.7 195.2 H474 A3.65 3.65 0 0 0 474 202.5 H477.7 Q478.9 202.5 478.9 203.6 V206" fill="none" stroke="#2a2a2a" stroke-width="1.3" stroke-linecap="round"/>
<line x1="476.5" y1="197.6" x2="484.6" y2="197.6" stroke="#777" stroke-width="0.35"/>
<line x1="476.5" y1="200.2" x2="484.6" y2="200.2" stroke="#777" stroke-width="0.35"/>
<text x="460.2" y="203.2" font-size="7" class="d" textLength="9.6" lengthAdjust="spacingAndGlyphs" transform="rotate(-90 460.2 203.2)">5.7</text>
<line x1="462" y1="190" x2="462" y2="208.2" stroke="#3c3c3c" stroke-width="0.4"/>
<line x1="461" y1="195.6" x2="471" y2="195.6" stroke="#3c3c3c" stroke-width="0.4"/>
<line x1="461" y1="202.2" x2="471" y2="202.2" stroke="#3c3c3c" stroke-width="0.4"/>
<line x1="461.2" y1="195.6" x2="462.8" y2="195.6" stroke="#3c3c3c" stroke-width="0.45"/>
<line x1="461.2" y1="202.2" x2="462.8" y2="202.2" stroke="#3c3c3c" stroke-width="0.45"/>
<text x="486" y="190.2" font-size="7" class="d" textLength="9.4" lengthAdjust="spacingAndGlyphs">3.5</text>
<path d="M496 191.2 H484.2 V206.2" fill="none" stroke="#3c3c3c" stroke-width="0.4"/>
<line x1="483.4" y1="197.6" x2="485" y2="197.6" stroke="#3c3c3c" stroke-width="0.45"/>
<line x1="483.4" y1="200.2" x2="485" y2="200.2" stroke="#3c3c3c" stroke-width="0.45"/>
<text x="486" y="212" font-size="7" class="d" textLength="9.4" lengthAdjust="spacingAndGlyphs">1.8</text>
<line x1="471.4" y1="213.9" x2="496" y2="213.9" stroke="#3c3c3c" stroke-width="0.4"/>
<path d="M477 213.9 l-2 -0.55 v1.1 z" fill="#444"/>
<path d="M479.1 213.9 l2 -0.55 v1.1 z" fill="#444"/>
<line x1="477" y1="204" x2="477" y2="215" stroke="#3c3c3c" stroke-width="0.4"/>
<line x1="477" y1="213.1" x2="477" y2="214.7" stroke="#3c3c3c" stroke-width="0.45"/>
<line x1="479.1" y1="213.1" x2="479.1" y2="214.7" stroke="#3c3c3c" stroke-width="0.45"/>
<text x="486" y="224" font-size="7" class="d" textLength="9.4" lengthAdjust="spacingAndGlyphs">5.5</text>
<line x1="467" y1="225.6" x2="496" y2="225.6" stroke="#3c3c3c" stroke-width="0.4"/>
<path d="M472.2 225.6 l-2 -0.55 v1.1 z" fill="#444"/>
<path d="M479.1 225.6 l2 -0.55 v1.1 z" fill="#444"/>
<line x1="472.2" y1="203" x2="472.2" y2="226.6" stroke="#3c3c3c" stroke-width="0.4"/>
<line x1="479.1" y1="206" x2="479.1" y2="226.6" stroke="#3c3c3c" stroke-width="0.4"/>
<line x1="472.2" y1="224.8" x2="472.2" y2="226.4" stroke="#3c3c3c" stroke-width="0.45"/>
<line x1="479.1" y1="224.8" x2="479.1" y2="226.4" stroke="#3c3c3c" stroke-width="0.45"/>
</g>
<g transform="translate(0 0)">
<line x1="461.6" y1="268" x2="494.4" y2="268" stroke="#3c3c3c" stroke-width="0.4"/>
<path d="M461.6 268 l2 -0.55 v1.1 z" fill="#444"/>
<path d="M494.4 268 l-2 -0.55 v1.1 z" fill="#444"/>
<line x1="461.6" y1="267.2" x2="461.6" y2="268.8" stroke="#3c3c3c" stroke-width="0.45"/>
<line x1="494.4" y1="267.2" x2="494.4" y2="268.8" stroke="#3c3c3c" stroke-width="0.45"/>
<line x1="465.1" y1="277.6" x2="492.5" y2="277.6" stroke="#3c3c3c" stroke-width="0.4"/>
<path d="M465.1 277.6 l2 -0.55 v1.1 z" fill="#444"/>
<path d="M492.5 277.6 l-2 -0.55 v1.1 z" fill="#444"/>
<line x1="465.1" y1="276.8" x2="465.1" y2="278.4" stroke="#3c3c3c" stroke-width="0.45"/>
<line x1="492.5" y1="276.8" x2="492.5" y2="278.4" stroke="#3c3c3c" stroke-width="0.45"/>
<line x1="461.6" y1="267" x2="461.6" y2="283" stroke="#3c3c3c" stroke-width="0.4"/>
<line x1="494.4" y1="267" x2="494.4" y2="283" stroke="#3c3c3c" stroke-width="0.4"/>
<line x1="465.1" y1="276.6" x2="465.1" y2="283" stroke="#3c3c3c" stroke-width="0.4"/>
<line x1="492.5" y1="276.6" x2="492.5" y2="283" stroke="#3c3c3c" stroke-width="0.4"/>
<text x="478.8" y="266.5" font-size="7" class="d" text-anchor="middle" textLength="10.6" lengthAdjust="spacingAndGlyphs">119</text>
<text x="478.8" y="276" font-size="7" class="d" text-anchor="middle" textLength="11.1" lengthAdjust="spacingAndGlyphs">100</text>
<rect x="462.3" y="282.7" width="32.1" height="3.9" fill="#e6e6e7" stroke="#333" stroke-width="0.7" rx="0.8"/>
<rect x="460.8" y="286.6" width="36.4" height="19.2" fill="#e6e6e7" stroke="#333" stroke-width="0.8" rx="1"/>
<line x1="478.3" y1="281" x2="478.3" y2="307" stroke="#999" stroke-width="0.3" stroke-dasharray="3 1 0.8 1"/>
<rect x="457.8" y="288" width="3" height="16.6" fill="#d8d8d8" stroke="#333" stroke-width="0.5"/>
<rect x="457.2" y="295" width="1.6" height="7.4" fill="#bbb" stroke="#333" stroke-width="0.4"/>
<circle cx="463.4" cy="288.6" r="0.8" fill="#333" stroke="none" stroke-width="0"/>
<circle cx="494.6" cy="288.6" r="0.8" fill="#333" stroke="none" stroke-width="0"/>
<circle cx="463" cy="304.4" r="0.8" fill="#333" stroke="none" stroke-width="0"/>
<circle cx="466" cy="304.4" r="0.8" fill="#333" stroke="none" stroke-width="0"/>
<circle cx="491.4" cy="304.4" r="0.8" fill="#333" stroke="none" stroke-width="0"/>
<circle cx="494.6" cy="304.4" r="0.8" fill="#333" stroke="none" stroke-width="0"/>
<line x1="462.6" y1="286.6" x2="462.6" y2="290.6" stroke="#333" stroke-width="0.5"/>
<line x1="495.2" y1="286.6" x2="495.2" y2="290.6" stroke="#333" stroke-width="0.5"/>
<rect x="466.4" y="293.4" width="3.4" height="5.8" fill="#f4f4f4" stroke="#333" stroke-width="0.45" rx="0.8"/>
<rect x="469.8" y="294.2" width="2.8" height="4.2" fill="#f4f4f4" stroke="#333" stroke-width="0.45"/>
<line x1="465" y1="296.3" x2="474" y2="296.3" stroke="#777" stroke-width="0.3"/>
<line x1="444.8" y1="282.7" x2="444.8" y2="305.8" stroke="#3c3c3c" stroke-width="0.4"/>
<line x1="444" y1="282.7" x2="445.6" y2="282.7" stroke="#3c3c3c" stroke-width="0.45"/>
<line x1="444" y1="305.8" x2="445.6" y2="305.8" stroke="#3c3c3c" stroke-width="0.45"/>
<line x1="454.3" y1="287.6" x2="454.3" y2="305.2" stroke="#3c3c3c" stroke-width="0.4"/>
<line x1="453.5" y1="287.6" x2="455.1" y2="287.6" stroke="#3c3c3c" stroke-width="0.45"/>
<line x1="453.5" y1="305.2" x2="455.1" y2="305.2" stroke="#3c3c3c" stroke-width="0.45"/>
<line x1="443.8" y1="282.7" x2="462.3" y2="282.7" stroke="#3c3c3c" stroke-width="0.4"/>
<line x1="443.8" y1="305.8" x2="460.8" y2="305.8" stroke="#3c3c3c" stroke-width="0.4"/>
<line x1="453.3" y1="287.6" x2="458" y2="287.6" stroke="#3c3c3c" stroke-width="0.4"/>
<text x="443.4" y="299" font-size="7" class="d" textLength="7.4" lengthAdjust="spacingAndGlyphs" transform="rotate(-90 443.4 299)">91</text>
<text x="452.8" y="299" font-size="7" class="d" textLength="7.4" lengthAdjust="spacingAndGlyphs" transform="rotate(-90 452.8 299)">72</text>
<circle cx="495" cy="298.5" r="4.3" fill="none" stroke="#29abe2" stroke-width="0.7"/>
<text x="487.5" y="294.9" font-size="6.4" fill="#29abe2">B</text>
<circle cx="495.4" cy="298.5" r="0.6" fill="#333" stroke="none" stroke-width="0"/>
<line x1="497.2" y1="298.5" x2="507" y2="298.5" stroke="#3c3c3c" stroke-width="0.4"/>
<line x1="497.2" y1="306.2" x2="507" y2="306.2" stroke="#3c3c3c" stroke-width="0.4"/>
<line x1="506.3" y1="293.4" x2="506.3" y2="317.4" stroke="#3c3c3c" stroke-width="0.4"/>
<text x="504.2" y="316.8" font-size="7" class="d" textLength="7.4" lengthAdjust="spacingAndGlyphs" transform="rotate(-90 504.2 316.8)">29</text>
<line x1="464.8" y1="305.8" x2="464.8" y2="317" stroke="#3c3c3c" stroke-width="0.4"/>
<line x1="493.2" y1="305.8" x2="493.2" y2="317" stroke="#3c3c3c" stroke-width="0.4"/>
<line x1="460.8" y1="305.8" x2="460.8" y2="326" stroke="#3c3c3c" stroke-width="0.4"/>
<line x1="497.2" y1="305.8" x2="497.2" y2="326" stroke="#3c3c3c" stroke-width="0.4"/>
<line x1="464.8" y1="316" x2="493.2" y2="316" stroke="#3c3c3c" stroke-width="0.4"/>
<path d="M464.8 316 l2 -0.55 v1.1 z" fill="#444"/>
<path d="M493.2 316 l-2 -0.55 v1.1 z" fill="#444"/>
<line x1="464.8" y1="315.2" x2="464.8" y2="316.8" stroke="#3c3c3c" stroke-width="0.45"/>
<line x1="493.2" y1="315.2" x2="493.2" y2="316.8" stroke="#3c3c3c" stroke-width="0.45"/>
<line x1="460.8" y1="325" x2="497.2" y2="325" stroke="#3c3c3c" stroke-width="0.4"/>
<path d="M460.8 325 l2 -0.55 v1.1 z" fill="#444"/>
<path d="M497.2 325 l-2 -0.55 v1.1 z" fill="#444"/>
<line x1="460.8" y1="324.2" x2="460.8" y2="325.8" stroke="#3c3c3c" stroke-width="0.45"/>
<line x1="497.2" y1="324.2" x2="497.2" y2="325.8" stroke="#3c3c3c" stroke-width="0.45"/>
<text x="478.8" y="314.3" font-size="7" class="d" text-anchor="middle" textLength="11.1" lengthAdjust="spacingAndGlyphs">106</text>
<text x="478.8" y="323.3" font-size="7" class="d" text-anchor="middle" textLength="11.1" lengthAdjust="spacingAndGlyphs">135</text>
</g>
<g transform="translate(0 359.6)">
<rect x="51" y="129.5" width="520.2" height="349.9" fill="#fff" stroke="#4c4c4c" stroke-width="1.3" rx="15.6"/>
<circle cx="69" cy="149.4" r="10" fill="url(#gc)"/>
<text x="69.2" y="153.6" font-size="11.2" fill="#fff" text-anchor="middle" stroke="#fff" stroke-width="0.3">R</text>
<text x="83" y="153.3" font-size="9.5" fill="#2e2e2e" font-weight="bold" textLength="38" lengthAdjust="spacing">馬達右折</text>
<text x="124" y="152.6" font-size="6.3" fill="#333" textLength="51" lengthAdjust="spacing">Motor Right Side</text>
<g transform="translate(177 138.4)">
<path d="M8.8 15.3 H4.9 A4.3 4.3 0 0 1 4.2 6.8 A6.7 6.7 0 0 1 17 4.6 A5.4 5.4 0 0 1 19.6 15.3 H16" fill="#fff" stroke="#4a9fa0" stroke-width="1.5" stroke-linecap="round" stroke-linejoin="round"/>
<path d="M11.1 9.6 H13.7 V13.4 H15.9 L12.4 17.4 L8.9 13.4 H11.1 Z" fill="#86c3c3" stroke="none" stroke-width="0"/>
<text x="3.6" y="22.2" font-size="4.7" fill="#333" font-weight="bold" textLength="17.6" lengthAdjust="spacing">2D CAD</text>
</g>
<g transform="translate(205.8 138.4)">
<path d="M8.8 15.3 H4.9 A4.3 4.3 0 0 1 4.2 6.8 A6.7 6.7 0 0 1 17 4.6 A5.4 5.4 0 0 1 19.6 15.3 H16" fill="#fff" stroke="#4a9fa0" stroke-width="1.5" stroke-linecap="round" stroke-linejoin="round"/>
<path d="M11.1 9.6 H13.7 V13.4 H15.9 L12.4 17.4 L8.9 13.4 H11.1 Z" fill="#86c3c3" stroke="none" stroke-width="0"/>
<text x="3.6" y="22.2" font-size="4.7" fill="#333" font-weight="bold" textLength="17.6" lengthAdjust="spacing">3D CAD</text>
</g>
<rect x="234" y="143.8" width="118.4" height="12.8" rx="6.4" fill="url(#gp)"/>
<circle cx="239" cy="150.4" r="1.4" fill="#fff" stroke="none" stroke-width="0"/>
<circle cx="347.4" cy="150.4" r="1.4" fill="#fff" stroke="none" stroke-width="0"/>
<text x="242.6" y="152.2" font-size="5.25" fill="#fff" textLength="100.8" lengthAdjust="spacing">Download CAD data at www.toyorobot.com</text>
<text x="517.6" y="142.8" font-size="5.6" fill="#333" font-weight="500" textLength="11.2" lengthAdjust="spacing">單位</text>
<text x="530" y="142.9" font-size="6.4" fill="#333" textLength="27.8" lengthAdjust="spacing">Unit : mm</text>
<rect x="59.2" y="372.2" width="502.8" height="13.8" fill="#4fa6a7"/>
<line x1="59.2" y1="372.5" x2="562" y2="372.5" stroke="#3f6f70" stroke-width="0.7"/>
<rect x="59.2" y="386" width="28.3" height="34.3" fill="#e3f1ee"/>
<text x="61.7" y="379.1" font-size="5.6" fill="#fff" font-weight="bold" textLength="23.4" lengthAdjust="spacing">有效行程</text>
<text x="73.35" y="384.7" font-size="5.1" fill="#fff" text-anchor="middle">Stroke</text>
<line x1="87.5" y1="372.8" x2="87.5" y2="386" stroke="#3a8788" stroke-width="0.5"/>
<line x1="87.5" y1="386" x2="87.5" y2="420.3" stroke="#777" stroke-width="0.5"/>
<text x="95.15" y="381.9" font-size="5.6" fill="#fff" text-anchor="middle" class="h">50</text>
<line x1="102.81" y1="372.8" x2="102.81" y2="386" stroke="#3a8788" stroke-width="0.5"/>
<line x1="102.81" y1="386" x2="102.81" y2="420.3" stroke="#777" stroke-width="0.5"/>
<text x="110.46" y="381.9" font-size="5.6" fill="#fff" text-anchor="middle" class="h">100</text>
<line x1="118.11" y1="372.8" x2="118.11" y2="386" stroke="#3a8788" stroke-width="0.5"/>
<line x1="118.11" y1="386" x2="118.11" y2="420.3" stroke="#777" stroke-width="0.5"/>
<text x="125.77" y="381.9" font-size="5.6" fill="#fff" text-anchor="middle" class="h">150</text>
<line x1="133.42" y1="372.8" x2="133.42" y2="386" stroke="#3a8788" stroke-width="0.5"/>
<line x1="133.42" y1="386" x2="133.42" y2="420.3" stroke="#777" stroke-width="0.5"/>
<text x="141.07" y="381.9" font-size="5.6" fill="#fff" text-anchor="middle" class="h">200</text>
<line x1="148.73" y1="372.8" x2="148.73" y2="386" stroke="#3a8788" stroke-width="0.5"/>
<line x1="148.73" y1="386" x2="148.73" y2="420.3" stroke="#777" stroke-width="0.5"/>
<text x="156.38" y="381.9" font-size="5.6" fill="#fff" text-anchor="middle" class="h">250</text>
<line x1="164.03" y1="372.8" x2="164.03" y2="386" stroke="#3a8788" stroke-width="0.5"/>
<line x1="164.03" y1="386" x2="164.03" y2="420.3" stroke="#777" stroke-width="0.5"/>
<text x="171.69" y="381.9" font-size="5.6" fill="#fff" text-anchor="middle" class="h">300</text>
<line x1="179.34" y1="372.8" x2="179.34" y2="386" stroke="#3a8788" stroke-width="0.5"/>
<line x1="179.34" y1="386" x2="179.34" y2="420.3" stroke="#777" stroke-width="0.5"/>
<text x="186.99" y="381.9" font-size="5.6" fill="#fff" text-anchor="middle" class="h">350</text>
<line x1="194.65" y1="372.8" x2="194.65" y2="386" stroke="#3a8788" stroke-width="0.5"/>
<line x1="194.65" y1="386" x2="194.65" y2="420.3" stroke="#777" stroke-width="0.5"/>
<text x="202.3" y="381.9" font-size="5.6" fill="#fff" text-anchor="middle" class="h">400</text>
<line x1="209.95" y1="372.8" x2="209.95" y2="386" stroke="#3a8788" stroke-width="0.5"/>
<line x1="209.95" y1="386" x2="209.95" y2="420.3" stroke="#777" stroke-width="0.5"/>
<text x="217.6" y="381.9" font-size="5.6" fill="#fff" text-anchor="middle" class="h">450</text>
<line x1="225.26" y1="372.8" x2="225.26" y2="386" stroke="#3a8788" stroke-width="0.5"/>
<line x1="225.26" y1="386" x2="225.26" y2="420.3" stroke="#777" stroke-width="0.5"/>
<text x="232.91" y="381.9" font-size="5.6" fill="#fff" text-anchor="middle" class="h">500</text>
<line x1="240.56" y1="372.8" x2="240.56" y2="386" stroke="#3a8788" stroke-width="0.5"/>
<line x1="240.56" y1="386" x2="240.56" y2="420.3" stroke="#777" stroke-width="0.5"/>
<text x="248.22" y="381.9" font-size="5.6" fill="#fff" text-anchor="middle" class="h">550</text>
<line x1="255.87" y1="372.8" x2="255.87" y2="386" stroke="#3a8788" stroke-width="0.5"/>
<line x1="255.87" y1="386" x2="255.87" y2="420.3" stroke="#777" stroke-width="0.5"/>
<text x="263.52" y="381.9" font-size="5.6" fill="#fff" text-anchor="middle" class="h">600</text>
<line x1="271.18" y1="372.8" x2="271.18" y2="386" stroke="#3a8788" stroke-width="0.5"/>
<line x1="271.18" y1="386" x2="271.18" y2="420.3" stroke="#777" stroke-width="0.5"/>
<text x="278.83" y="381.9" font-size="5.6" fill="#fff" text-anchor="middle" class="h">650</text>
<line x1="286.48" y1="372.8" x2="286.48" y2="386" stroke="#3a8788" stroke-width="0.5"/>
<line x1="286.48" y1="386" x2="286.48" y2="420.3" stroke="#777" stroke-width="0.5"/>
<text x="294.14" y="381.9" font-size="5.6" fill="#fff" text-anchor="middle" class="h">700</text>
<line x1="301.79" y1="372.8" x2="301.79" y2="386" stroke="#3a8788" stroke-width="0.5"/>
<line x1="301.79" y1="386" x2="301.79" y2="420.3" stroke="#777" stroke-width="0.5"/>
<text x="309.44" y="381.9" font-size="5.6" fill="#fff" text-anchor="middle" class="h">750</text>
<line x1="317.1" y1="372.8" x2="317.1" y2="386" stroke="#3a8788" stroke-width="0.5"/>
<line x1="317.1" y1="386" x2="317.1" y2="420.3" stroke="#777" stroke-width="0.5"/>
<text x="324.75" y="381.9" font-size="5.6" fill="#fff" text-anchor="middle" class="h">800</text>
<line x1="332.4" y1="372.8" x2="332.4" y2="386" stroke="#3a8788" stroke-width="0.5"/>
<line x1="332.4" y1="386" x2="332.4" y2="420.3" stroke="#777" stroke-width="0.5"/>
<text x="340.06" y="381.9" font-size="5.6" fill="#fff" text-anchor="middle" class="h">850</text>
<line x1="347.71" y1="372.8" x2="347.71" y2="386" stroke="#3a8788" stroke-width="0.5"/>
<line x1="347.71" y1="386" x2="347.71" y2="420.3" stroke="#777" stroke-width="0.5"/>
<text x="355.36" y="381.9" font-size="5.6" fill="#fff" text-anchor="middle" class="h">900</text>
<line x1="363.02" y1="372.8" x2="363.02" y2="386" stroke="#3a8788" stroke-width="0.5"/>
<line x1="363.02" y1="386" x2="363.02" y2="420.3" stroke="#777" stroke-width="0.5"/>
<text x="370.67" y="381.9" font-size="5.6" fill="#fff" text-anchor="middle" class="h">950</text>
<line x1="378.32" y1="372.8" x2="378.32" y2="386" stroke="#3a8788" stroke-width="0.5"/>
<line x1="378.32" y1="386" x2="378.32" y2="420.3" stroke="#777" stroke-width="0.5"/>
<text x="385.98" y="381.9" font-size="5.6" fill="#fff" text-anchor="middle" class="h">1000</text>
<line x1="393.63" y1="372.8" x2="393.63" y2="386" stroke="#3a8788" stroke-width="0.5"/>
<line x1="393.63" y1="386" x2="393.63" y2="420.3" stroke="#777" stroke-width="0.5"/>
<text x="401.28" y="381.9" font-size="5.6" fill="#fff" text-anchor="middle" class="h">1050</text>
<line x1="408.94" y1="372.8" x2="408.94" y2="386" stroke="#3a8788" stroke-width="0.5"/>
<line x1="408.94" y1="386" x2="408.94" y2="420.3" stroke="#777" stroke-width="0.5"/>
<text x="416.59" y="381.9" font-size="5.6" fill="#fff" text-anchor="middle" class="h">1100</text>
<line x1="424.24" y1="372.8" x2="424.24" y2="386" stroke="#3a8788" stroke-width="0.5"/>
<line x1="424.24" y1="386" x2="424.24" y2="420.3" stroke="#777" stroke-width="0.5"/>
<text x="431.9" y="381.9" font-size="5.6" fill="#fff" text-anchor="middle" class="h">1150</text>
<line x1="439.55" y1="372.8" x2="439.55" y2="386" stroke="#3a8788" stroke-width="0.5"/>
<line x1="439.55" y1="386" x2="439.55" y2="420.3" stroke="#777" stroke-width="0.5"/>
<text x="447.2" y="381.9" font-size="5.6" fill="#fff" text-anchor="middle" class="h">1200</text>
<line x1="454.85" y1="372.8" x2="454.85" y2="386" stroke="#3a8788" stroke-width="0.5"/>
<line x1="454.85" y1="386" x2="454.85" y2="420.3" stroke="#777" stroke-width="0.5"/>
<text x="462.51" y="381.9" font-size="5.6" fill="#fff" text-anchor="middle" class="h">1250</text>
<line x1="470.16" y1="372.8" x2="470.16" y2="386" stroke="#3a8788" stroke-width="0.5"/>
<line x1="470.16" y1="386" x2="470.16" y2="420.3" stroke="#777" stroke-width="0.5"/>
<text x="477.81" y="381.9" font-size="5.6" fill="#fff" text-anchor="middle" class="h">1300</text>
<line x1="485.47" y1="372.8" x2="485.47" y2="386" stroke="#3a8788" stroke-width="0.5"/>
<line x1="485.47" y1="386" x2="485.47" y2="420.3" stroke="#777" stroke-width="0.5"/>
<text x="493.12" y="381.9" font-size="5.6" fill="#fff" text-anchor="middle" class="h">1350</text>
<line x1="500.77" y1="372.8" x2="500.77" y2="386" stroke="#3a8788" stroke-width="0.5"/>
<line x1="500.77" y1="386" x2="500.77" y2="420.3" stroke="#777" stroke-width="0.5"/>
<text x="508.43" y="381.9" font-size="5.6" fill="#fff" text-anchor="middle" class="h">1400</text>
<line x1="516.08" y1="372.8" x2="516.08" y2="386" stroke="#3a8788" stroke-width="0.5"/>
<line x1="516.08" y1="386" x2="516.08" y2="420.3" stroke="#777" stroke-width="0.5"/>
<text x="523.73" y="381.9" font-size="5.6" fill="#fff" text-anchor="middle" class="h">1450</text>
<line x1="531.39" y1="372.8" x2="531.39" y2="386" stroke="#3a8788" stroke-width="0.5"/>
<line x1="531.39" y1="386" x2="531.39" y2="420.3" stroke="#777" stroke-width="0.5"/>
<text x="539.04" y="381.9" font-size="5.6" fill="#fff" text-anchor="middle" class="h">1500</text>
<line x1="546.69" y1="372.8" x2="546.69" y2="386" stroke="#3a8788" stroke-width="0.5"/>
<line x1="546.69" y1="386" x2="546.69" y2="420.3" stroke="#777" stroke-width="0.5"/>
<text x="554.35" y="381.9" font-size="5.6" fill="#fff" text-anchor="middle" class="h">1550</text>
<line x1="59.2" y1="386" x2="562" y2="386" stroke="#777" stroke-width="0.5"/>
<text x="73.35" y="391.5" font-size="5.2" class="d" text-anchor="middle">L</text>
<text x="95.15" y="391.5" font-size="5.3" class="t" text-anchor="middle">438</text>
<text x="110.46" y="391.5" font-size="5.3" class="t" text-anchor="middle">488</text>
<text x="125.77" y="391.5" font-size="5.3" class="t" text-anchor="middle">538</text>
<text x="141.07" y="391.5" font-size="5.3" class="t" text-anchor="middle">588</text>
<text x="156.38" y="391.5" font-size="5.3" class="t" text-anchor="middle">638</text>
<text x="171.69" y="391.5" font-size="5.3" class="t" text-anchor="middle">688</text>
<text x="186.99" y="391.5" font-size="5.3" class="t" text-anchor="middle">738</text>
<text x="202.3" y="391.5" font-size="5.3" class="t" text-anchor="middle">788</text>
<text x="217.6" y="391.5" font-size="5.3" class="t" text-anchor="middle">838</text>
<text x="232.91" y="391.5" font-size="5.3" class="t" text-anchor="middle">888</text>
<text x="248.22" y="391.5" font-size="5.3" class="t" text-anchor="middle">938</text>
<text x="263.52" y="391.5" font-size="5.3" class="t" text-anchor="middle">988</text>
<text x="278.83" y="391.5" font-size="5.3" class="t" text-anchor="middle">1038</text>
<text x="294.14" y="391.5" font-size="5.3" class="t" text-anchor="middle">1088</text>
<text x="309.44" y="391.5" font-size="5.3" class="t" text-anchor="middle">1138</text>
<text x="324.75" y="391.5" font-size="5.3" class="t" text-anchor="middle">1188</text>
<text x="340.06" y="391.5" font-size="5.3" class="t" text-anchor="middle">1238</text>
<text x="355.36" y="391.5" font-size="5.3" class="t" text-anchor="middle">1288</text>
<text x="370.67" y="391.5" font-size="5.3" class="t" text-anchor="middle">1338</text>
<text x="385.98" y="391.5" font-size="5.3" class="t" text-anchor="middle">1388</text>
<text x="401.28" y="391.5" font-size="5.3" class="t" text-anchor="middle">1438</text>
<text x="416.59" y="391.5" font-size="5.3" class="t" text-anchor="middle">1488</text>
<text x="431.9" y="391.5" font-size="5.3" class="t" text-anchor="middle">1538</text>
<text x="447.2" y="391.5" font-size="5.3" class="t" text-anchor="middle">1588</text>
<text x="462.51" y="391.5" font-size="5.3" class="t" text-anchor="middle">1638</text>
<text x="477.81" y="391.5" font-size="5.3" class="t" text-anchor="middle">1688</text>
<text x="493.12" y="391.5" font-size="5.3" class="t" text-anchor="middle">1738</text>
<text x="508.43" y="391.5" font-size="5.3" class="t" text-anchor="middle">1788</text>
<text x="523.73" y="391.5" font-size="5.3" class="t" text-anchor="middle">1838</text>
<text x="539.04" y="391.5" font-size="5.3" class="t" text-anchor="middle">1888</text>
<text x="554.35" y="391.5" font-size="5.3" class="t" text-anchor="middle">1938</text>
<line x1="59.2" y1="392.86" x2="562" y2="392.86" stroke="#777" stroke-width="0.5"/>
<text x="73.35" y="398.36" font-size="5.2" class="d" text-anchor="middle">A</text>
<text x="95.15" y="398.36" font-size="5.3" class="t" text-anchor="middle">200</text>
<text x="110.46" y="398.36" font-size="5.3" class="t" text-anchor="middle">50</text>
<text x="125.77" y="398.36" font-size="5.3" class="t" text-anchor="middle">100</text>
<text x="141.07" y="398.36" font-size="5.3" class="t" text-anchor="middle">150</text>
<text x="156.38" y="398.36" font-size="5.3" class="t" text-anchor="middle">200</text>
<text x="171.69" y="398.36" font-size="5.3" class="t" text-anchor="middle">50</text>
<text x="186.99" y="398.36" font-size="5.3" class="t" text-anchor="middle">100</text>
<text x="202.3" y="398.36" font-size="5.3" class="t" text-anchor="middle">150</text>
<text x="217.6" y="398.36" font-size="5.3" class="t" text-anchor="middle">200</text>
<text x="232.91" y="398.36" font-size="5.3" class="t" text-anchor="middle">50</text>
<text x="248.22" y="398.36" font-size="5.3" class="t" text-anchor="middle">100</text>
<text x="263.52" y="398.36" font-size="5.3" class="t" text-anchor="middle">150</text>
<text x="278.83" y="398.36" font-size="5.3" class="t" text-anchor="middle">200</text>
<text x="294.14" y="398.36" font-size="5.3" class="t" text-anchor="middle">50</text>
<text x="309.44" y="398.36" font-size="5.3" class="t" text-anchor="middle">100</text>
<text x="324.75" y="398.36" font-size="5.3" class="t" text-anchor="middle">150</text>
<text x="340.06" y="398.36" font-size="5.3" class="t" text-anchor="middle">200</text>
<text x="355.36" y="398.36" font-size="5.3" class="t" text-anchor="middle">50</text>
<text x="370.67" y="398.36" font-size="5.3" class="t" text-anchor="middle">100</text>
<text x="385.98" y="398.36" font-size="5.3" class="t" text-anchor="middle">150</text>
<text x="401.28" y="398.36" font-size="5.3" class="t" text-anchor="middle">200</text>
<text x="416.59" y="398.36" font-size="5.3" class="t" text-anchor="middle">50</text>
<text x="431.9" y="398.36" font-size="5.3" class="t" text-anchor="middle">100</text>
<text x="447.2" y="398.36" font-size="5.3" class="t" text-anchor="middle">150</text>
<text x="462.51" y="398.36" font-size="5.3" class="t" text-anchor="middle">200</text>
<text x="477.81" y="398.36" font-size="5.3" class="t" text-anchor="middle">50</text>
<text x="493.12" y="398.36" font-size="5.3" class="t" text-anchor="middle">100</text>
<text x="508.43" y="398.36" font-size="5.3" class="t" text-anchor="middle">150</text>
<text x="523.73" y="398.36" font-size="5.3" class="t" text-anchor="middle">200</text>
<text x="539.04" y="398.36" font-size="5.3" class="t" text-anchor="middle">50</text>
<text x="554.35" y="398.36" font-size="5.3" class="t" text-anchor="middle">100</text>
<line x1="59.2" y1="399.72" x2="562" y2="399.72" stroke="#777" stroke-width="0.5"/>
<text x="73.35" y="405.22" font-size="5.2" class="d" text-anchor="middle">M</text>
<text x="95.15" y="405.22" font-size="5.3" class="t" text-anchor="middle">0</text>
<text x="110.46" y="405.22" font-size="5.3" class="t" text-anchor="middle">1</text>
<text x="125.77" y="405.22" font-size="5.3" class="t" text-anchor="middle">1</text>
<text x="141.07" y="405.22" font-size="5.3" class="t" text-anchor="middle">1</text>
<text x="156.38" y="405.22" font-size="5.3" class="t" text-anchor="middle">1</text>
<text x="171.69" y="405.22" font-size="5.3" class="t" text-anchor="middle">2</text>
<text x="186.99" y="405.22" font-size="5.3" class="t" text-anchor="middle">2</text>
<text x="202.3" y="405.22" font-size="5.3" class="t" text-anchor="middle">2</text>
<text x="217.6" y="405.22" font-size="5.3" class="t" text-anchor="middle">2</text>
<text x="232.91" y="405.22" font-size="5.3" class="t" text-anchor="middle">3</text>
<text x="248.22" y="405.22" font-size="5.3" class="t" text-anchor="middle">3</text>
<text x="263.52" y="405.22" font-size="5.3" class="t" text-anchor="middle">3</text>
<text x="278.83" y="405.22" font-size="5.3" class="t" text-anchor="middle">3</text>
<text x="294.14" y="405.22" font-size="5.3" class="t" text-anchor="middle">4</text>
<text x="309.44" y="405.22" font-size="5.3" class="t" text-anchor="middle">4</text>
<text x="324.75" y="405.22" font-size="5.3" class="t" text-anchor="middle">4</text>
<text x="340.06" y="405.22" font-size="5.3" class="t" text-anchor="middle">4</text>
<text x="355.36" y="405.22" font-size="5.3" class="t" text-anchor="middle">5</text>
<text x="370.67" y="405.22" font-size="5.3" class="t" text-anchor="middle">5</text>
<text x="385.98" y="405.22" font-size="5.3" class="t" text-anchor="middle">5</text>
<text x="401.28" y="405.22" font-size="5.3" class="t" text-anchor="middle">5</text>
<text x="416.59" y="405.22" font-size="5.3" class="t" text-anchor="middle">6</text>
<text x="431.9" y="405.22" font-size="5.3" class="t" text-anchor="middle">6</text>
<text x="447.2" y="405.22" font-size="5.3" class="t" text-anchor="middle">6</text>
<text x="462.51" y="405.22" font-size="5.3" class="t" text-anchor="middle">6</text>
<text x="477.81" y="405.22" font-size="5.3" class="t" text-anchor="middle">7</text>
<text x="493.12" y="405.22" font-size="5.3" class="t" text-anchor="middle">7</text>
<text x="508.43" y="405.22" font-size="5.3" class="t" text-anchor="middle">7</text>
<text x="523.73" y="405.22" font-size="5.3" class="t" text-anchor="middle">7</text>
<text x="539.04" y="405.22" font-size="5.3" class="t" text-anchor="middle">8</text>
<text x="554.35" y="405.22" font-size="5.3" class="t" text-anchor="middle">8</text>
<line x1="59.2" y1="406.58" x2="562" y2="406.58" stroke="#777" stroke-width="0.5"/>
<text x="73.35" y="412.08" font-size="5.2" class="d" text-anchor="middle">N</text>
<text x="95.15" y="412.08" font-size="5.3" class="t" text-anchor="middle">4</text>
<text x="110.46" y="412.08" font-size="5.3" class="t" text-anchor="middle">6</text>
<text x="125.77" y="412.08" font-size="5.3" class="t" text-anchor="middle">6</text>
<text x="141.07" y="412.08" font-size="5.3" class="t" text-anchor="middle">6</text>
<text x="156.38" y="412.08" font-size="5.3" class="t" text-anchor="middle">6</text>
<text x="171.69" y="412.08" font-size="5.3" class="t" text-anchor="middle">8</text>
<text x="186.99" y="412.08" font-size="5.3" class="t" text-anchor="middle">8</text>
<text x="202.3" y="412.08" font-size="5.3" class="t" text-anchor="middle">8</text>
<text x="217.6" y="412.08" font-size="5.3" class="t" text-anchor="middle">8</text>
<text x="232.91" y="412.08" font-size="5.3" class="t" text-anchor="middle">10</text>
<text x="248.22" y="412.08" font-size="5.3" class="t" text-anchor="middle">10</text>
<text x="263.52" y="412.08" font-size="5.3" class="t" text-anchor="middle">10</text>
<text x="278.83" y="412.08" font-size="5.3" class="t" text-anchor="middle">10</text>
<text x="294.14" y="412.08" font-size="5.3" class="t" text-anchor="middle">12</text>
<text x="309.44" y="412.08" font-size="5.3" class="t" text-anchor="middle">12</text>
<text x="324.75" y="412.08" font-size="5.3" class="t" text-anchor="middle">12</text>
<text x="340.06" y="412.08" font-size="5.3" class="t" text-anchor="middle">12</text>
<text x="355.36" y="412.08" font-size="5.3" class="t" text-anchor="middle">14</text>
<text x="370.67" y="412.08" font-size="5.3" class="t" text-anchor="middle">14</text>
<text x="385.98" y="412.08" font-size="5.3" class="t" text-anchor="middle">14</text>
<text x="401.28" y="412.08" font-size="5.3" class="t" text-anchor="middle">14</text>
<text x="416.59" y="412.08" font-size="5.3" class="t" text-anchor="middle">16</text>
<text x="431.9" y="412.08" font-size="5.3" class="t" text-anchor="middle">16</text>
<text x="447.2" y="412.08" font-size="5.3" class="t" text-anchor="middle">16</text>
<text x="462.51" y="412.08" font-size="5.3" class="t" text-anchor="middle">16</text>
<text x="477.81" y="412.08" font-size="5.3" class="t" text-anchor="middle">18</text>
<text x="493.12" y="412.08" font-size="5.3" class="t" text-anchor="middle">18</text>
<text x="508.43" y="412.08" font-size="5.3" class="t" text-anchor="middle">18</text>
<text x="523.73" y="412.08" font-size="5.3" class="t" text-anchor="middle">18</text>
<text x="539.04" y="412.08" font-size="5.3" class="t" text-anchor="middle">20</text>
<text x="554.35" y="412.08" font-size="5.3" class="t" text-anchor="middle">20</text>
<line x1="59.2" y1="413.44" x2="562" y2="413.44" stroke="#777" stroke-width="0.5"/>
<text x="73.35" y="418.94" font-size="5.2" class="d" text-anchor="middle">KG</text>
<text x="95.15" y="418.94" font-size="5.3" class="t" text-anchor="middle">11.2</text>
<text x="110.46" y="418.94" font-size="5.3" class="t" text-anchor="middle">11.6</text>
<text x="125.77" y="418.94" font-size="5.3" class="t" text-anchor="middle">12</text>
<text x="141.07" y="418.94" font-size="5.3" class="t" text-anchor="middle">12.5</text>
<text x="156.38" y="418.94" font-size="5.3" class="t" text-anchor="middle">13</text>
<text x="171.69" y="418.94" font-size="5.3" class="t" text-anchor="middle">13.5</text>
<text x="186.99" y="418.94" font-size="5.3" class="t" text-anchor="middle">14</text>
<text x="202.3" y="418.94" font-size="5.3" class="t" text-anchor="middle">14.4</text>
<text x="217.6" y="418.94" font-size="5.3" class="t" text-anchor="middle">15</text>
<text x="232.91" y="418.94" font-size="5.3" class="t" text-anchor="middle">15.4</text>
<text x="248.22" y="418.94" font-size="5.3" class="t" text-anchor="middle">16</text>
<text x="263.52" y="418.94" font-size="5.3" class="t" text-anchor="middle">16.4</text>
<text x="278.83" y="418.94" font-size="5.3" class="t" text-anchor="middle">16.9</text>
<text x="294.14" y="418.94" font-size="5.3" class="t" text-anchor="middle">17.4</text>
<text x="309.44" y="418.94" font-size="5.3" class="t" text-anchor="middle">17.9</text>
<text x="324.75" y="418.94" font-size="5.3" class="t" text-anchor="middle">18.4</text>
<text x="340.06" y="418.94" font-size="5.3" class="t" text-anchor="middle">18.9</text>
<text x="355.36" y="418.94" font-size="5.3" class="t" text-anchor="middle">19.4</text>
<text x="370.67" y="418.94" font-size="5.3" class="t" text-anchor="middle">19.9</text>
<text x="385.98" y="418.94" font-size="5.3" class="t" text-anchor="middle">20.3</text>
<text x="401.28" y="418.94" font-size="5.3" class="t" text-anchor="middle">20.9</text>
<text x="416.59" y="418.94" font-size="5.3" class="t" text-anchor="middle">21.5</text>
<text x="431.9" y="418.94" font-size="5.3" class="t" text-anchor="middle">22.1</text>
<text x="447.2" y="418.94" font-size="5.3" class="t" text-anchor="middle">22.7</text>
<text x="462.51" y="418.94" font-size="5.3" class="t" text-anchor="middle">23.3</text>
<text x="477.81" y="418.94" font-size="5.3" class="t" text-anchor="middle">23.9</text>
<text x="493.12" y="418.94" font-size="5.3" class="t" text-anchor="middle">24.5</text>
<text x="508.43" y="418.94" font-size="5.3" class="t" text-anchor="middle">25.1</text>
<text x="523.73" y="418.94" font-size="5.3" class="t" text-anchor="middle">25.7</text>
<text x="539.04" y="418.94" font-size="5.3" class="t" text-anchor="middle">26.3</text>
<text x="554.35" y="418.94" font-size="5.3" class="t" text-anchor="middle">26.9</text>
<line x1="59.2" y1="420.3" x2="562" y2="420.3" stroke="#444" stroke-width="0.9"/>
<rect x="59.2" y="422.4" width="502.8" height="13.8" fill="#4fa6a7"/>
<line x1="59.2" y1="422.7" x2="562" y2="422.7" stroke="#3f6f70" stroke-width="0.7"/>
<rect x="59.2" y="436.2" width="28.3" height="34.3" fill="#e3f1ee"/>
<text x="61.7" y="429.3" font-size="5.6" fill="#fff" font-weight="bold" textLength="23.4" lengthAdjust="spacing">有效行程</text>
<text x="73.35" y="434.9" font-size="5.1" fill="#fff" text-anchor="middle">Stroke</text>
<line x1="87.5" y1="423" x2="87.5" y2="436.2" stroke="#3a8788" stroke-width="0.5"/>
<line x1="87.5" y1="436.2" x2="87.5" y2="470.5" stroke="#777" stroke-width="0.5"/>
<text x="95.44" y="432.1" font-size="5.6" fill="#fff" text-anchor="middle" class="h">1600</text>
<line x1="103.38" y1="423" x2="103.38" y2="436.2" stroke="#3a8788" stroke-width="0.5"/>
<line x1="103.38" y1="436.2" x2="103.38" y2="470.5" stroke="#777" stroke-width="0.5"/>
<text x="111.31" y="432.1" font-size="5.6" fill="#fff" text-anchor="middle" class="h">1650</text>
<line x1="119.25" y1="423" x2="119.25" y2="436.2" stroke="#3a8788" stroke-width="0.5"/>
<line x1="119.25" y1="436.2" x2="119.25" y2="470.5" stroke="#777" stroke-width="0.5"/>
<text x="127.19" y="432.1" font-size="5.6" fill="#fff" text-anchor="middle" class="h">1700</text>
<line x1="135.13" y1="423" x2="135.13" y2="436.2" stroke="#3a8788" stroke-width="0.5"/>
<line x1="135.13" y1="436.2" x2="135.13" y2="470.5" stroke="#777" stroke-width="0.5"/>
<text x="143.07" y="432.1" font-size="5.6" fill="#fff" text-anchor="middle" class="h">1750</text>
<line x1="151" y1="423" x2="151" y2="436.2" stroke="#3a8788" stroke-width="0.5"/>
<line x1="151" y1="436.2" x2="151" y2="470.5" stroke="#777" stroke-width="0.5"/>
<text x="158.94" y="432.1" font-size="5.6" fill="#fff" text-anchor="middle" class="h">1800</text>
<line x1="166.88" y1="423" x2="166.88" y2="436.2" stroke="#3a8788" stroke-width="0.5"/>
<line x1="166.88" y1="436.2" x2="166.88" y2="470.5" stroke="#777" stroke-width="0.5"/>
<text x="174.82" y="432.1" font-size="5.6" fill="#fff" text-anchor="middle" class="h">1850</text>
<line x1="182.76" y1="423" x2="182.76" y2="436.2" stroke="#3a8788" stroke-width="0.5"/>
<line x1="182.76" y1="436.2" x2="182.76" y2="470.5" stroke="#777" stroke-width="0.5"/>
<text x="190.69" y="432.1" font-size="5.6" fill="#fff" text-anchor="middle" class="h">1900</text>
<line x1="198.63" y1="423" x2="198.63" y2="436.2" stroke="#3a8788" stroke-width="0.5"/>
<line x1="198.63" y1="436.2" x2="198.63" y2="470.5" stroke="#777" stroke-width="0.5"/>
<text x="206.57" y="432.1" font-size="5.6" fill="#fff" text-anchor="middle" class="h">1950</text>
<line x1="214.51" y1="423" x2="214.51" y2="436.2" stroke="#3a8788" stroke-width="0.5"/>
<line x1="214.51" y1="436.2" x2="214.51" y2="470.5" stroke="#777" stroke-width="0.5"/>
<text x="222.44" y="432.1" font-size="5.6" fill="#fff" text-anchor="middle" class="h">2000</text>
<line x1="230.38" y1="423" x2="230.38" y2="436.2" stroke="#3a8788" stroke-width="0.5"/>
<line x1="230.38" y1="436.2" x2="230.38" y2="470.5" stroke="#777" stroke-width="0.5"/>
<text x="238.32" y="432.1" font-size="5.6" fill="#fff" text-anchor="middle" class="h">2050</text>
<line x1="246.26" y1="423" x2="246.26" y2="436.2" stroke="#3a8788" stroke-width="0.5"/>
<line x1="246.26" y1="436.2" x2="246.26" y2="470.5" stroke="#777" stroke-width="0.5"/>
<text x="254.2" y="432.1" font-size="5.6" fill="#fff" text-anchor="middle" class="h">2100</text>
<line x1="262.13" y1="423" x2="262.13" y2="436.2" stroke="#3a8788" stroke-width="0.5"/>
<line x1="262.13" y1="436.2" x2="262.13" y2="470.5" stroke="#777" stroke-width="0.5"/>
<text x="270.07" y="432.1" font-size="5.6" fill="#fff" text-anchor="middle" class="h">2150</text>
<line x1="278.01" y1="423" x2="278.01" y2="436.2" stroke="#3a8788" stroke-width="0.5"/>
<line x1="278.01" y1="436.2" x2="278.01" y2="470.5" stroke="#777" stroke-width="0.5"/>
<text x="285.95" y="432.1" font-size="5.6" fill="#fff" text-anchor="middle" class="h">2200</text>
<line x1="293.89" y1="423" x2="293.89" y2="436.2" stroke="#3a8788" stroke-width="0.5"/>
<line x1="293.89" y1="436.2" x2="293.89" y2="470.5" stroke="#777" stroke-width="0.5"/>
<text x="301.82" y="432.1" font-size="5.6" fill="#fff" text-anchor="middle" class="h">2250</text>
<line x1="309.76" y1="423" x2="309.76" y2="436.2" stroke="#3a8788" stroke-width="0.5"/>
<line x1="309.76" y1="436.2" x2="309.76" y2="470.5" stroke="#777" stroke-width="0.5"/>
<text x="317.7" y="432.1" font-size="5.6" fill="#fff" text-anchor="middle" class="h">2300</text>
<line x1="325.64" y1="423" x2="325.64" y2="436.2" stroke="#3a8788" stroke-width="0.5"/>
<line x1="325.64" y1="436.2" x2="325.64" y2="470.5" stroke="#777" stroke-width="0.5"/>
<text x="333.58" y="432.1" font-size="5.6" fill="#fff" text-anchor="middle" class="h">2350</text>
<line x1="341.51" y1="423" x2="341.51" y2="436.2" stroke="#3a8788" stroke-width="0.5"/>
<line x1="341.51" y1="436.2" x2="341.51" y2="470.5" stroke="#777" stroke-width="0.5"/>
<text x="349.45" y="432.1" font-size="5.6" fill="#fff" text-anchor="middle" class="h">2400</text>
<line x1="357.39" y1="423" x2="357.39" y2="436.2" stroke="#3a8788" stroke-width="0.5"/>
<line x1="357.39" y1="436.2" x2="357.39" y2="470.5" stroke="#777" stroke-width="0.5"/>
<text x="365.33" y="432.1" font-size="5.6" fill="#fff" text-anchor="middle" class="h">2450</text>
<line x1="373.27" y1="423" x2="373.27" y2="436.2" stroke="#3a8788" stroke-width="0.5"/>
<line x1="373.27" y1="436.2" x2="373.27" y2="470.5" stroke="#777" stroke-width="0.5"/>
<text x="381.2" y="432.1" font-size="5.6" fill="#fff" text-anchor="middle" class="h">2500</text>
<line x1="389.14" y1="423" x2="389.14" y2="436.2" stroke="#3a8788" stroke-width="0.5"/>
<line x1="389.14" y1="436.2" x2="389.14" y2="470.5" stroke="#777" stroke-width="0.5"/>
<text x="397.08" y="432.1" font-size="5.6" fill="#fff" text-anchor="middle" class="h">2550</text>
<line x1="405.02" y1="423" x2="405.02" y2="436.2" stroke="#3a8788" stroke-width="0.5"/>
<line x1="405.02" y1="436.2" x2="405.02" y2="470.5" stroke="#777" stroke-width="0.5"/>
<text x="412.96" y="432.1" font-size="5.6" fill="#fff" text-anchor="middle" class="h">2600</text>
<line x1="420.89" y1="423" x2="420.89" y2="436.2" stroke="#3a8788" stroke-width="0.5"/>
<line x1="420.89" y1="436.2" x2="420.89" y2="470.5" stroke="#777" stroke-width="0.5"/>
<text x="428.83" y="432.1" font-size="5.6" fill="#fff" text-anchor="middle" class="h">2650</text>
<line x1="436.77" y1="423" x2="436.77" y2="436.2" stroke="#3a8788" stroke-width="0.5"/>
<line x1="436.77" y1="436.2" x2="436.77" y2="470.5" stroke="#777" stroke-width="0.5"/>
<text x="444.71" y="432.1" font-size="5.6" fill="#fff" text-anchor="middle" class="h">2700</text>
<line x1="452.64" y1="423" x2="452.64" y2="436.2" stroke="#3a8788" stroke-width="0.5"/>
<line x1="452.64" y1="436.2" x2="452.64" y2="470.5" stroke="#777" stroke-width="0.5"/>
<text x="460.58" y="432.1" font-size="5.6" fill="#fff" text-anchor="middle" class="h">2750</text>
<line x1="468.52" y1="423" x2="468.52" y2="436.2" stroke="#3a8788" stroke-width="0.5"/>
<line x1="468.52" y1="436.2" x2="468.52" y2="470.5" stroke="#777" stroke-width="0.5"/>
<text x="476.46" y="432.1" font-size="5.6" fill="#fff" text-anchor="middle" class="h">2800</text>
<line x1="484.4" y1="423" x2="484.4" y2="436.2" stroke="#3a8788" stroke-width="0.5"/>
<line x1="484.4" y1="436.2" x2="484.4" y2="470.5" stroke="#777" stroke-width="0.5"/>
<text x="492.33" y="432.1" font-size="5.6" fill="#fff" text-anchor="middle" class="h">2850</text>
<line x1="500.27" y1="423" x2="500.27" y2="436.2" stroke="#3a8788" stroke-width="0.5"/>
<line x1="500.27" y1="436.2" x2="500.27" y2="470.5" stroke="#777" stroke-width="0.5"/>
<text x="508.21" y="432.1" font-size="5.6" fill="#fff" text-anchor="middle" class="h">2900</text>
<line x1="516.15" y1="423" x2="516.15" y2="436.2" stroke="#3a8788" stroke-width="0.5"/>
<line x1="516.15" y1="436.2" x2="516.15" y2="470.5" stroke="#777" stroke-width="0.5"/>
<text x="524.09" y="432.1" font-size="5.6" fill="#fff" text-anchor="middle" class="h">2950</text>
<line x1="532.02" y1="423" x2="532.02" y2="436.2" stroke="#3a8788" stroke-width="0.5"/>
<line x1="532.02" y1="436.2" x2="532.02" y2="470.5" stroke="#777" stroke-width="0.5"/>
<text x="539.96" y="432.1" font-size="5.6" fill="#fff" text-anchor="middle" class="h">3000</text>
<line x1="547.9" y1="423" x2="547.9" y2="436.2" stroke="#3a8788" stroke-width="0.5"/>
<line x1="547.9" y1="436.2" x2="547.9" y2="470.5" stroke="#777" stroke-width="0.5"/>
<text x="554.95" y="432.1" font-size="5.6" fill="#fff" text-anchor="middle" class="h">3050</text>
<line x1="59.2" y1="436.2" x2="562" y2="436.2" stroke="#777" stroke-width="0.5"/>
<text x="73.35" y="441.7" font-size="5.2" class="d" text-anchor="middle">L</text>
<text x="95.44" y="441.7" font-size="5.3" class="t" text-anchor="middle">1988</text>
<text x="111.31" y="441.7" font-size="5.3" class="t" text-anchor="middle">2038</text>
<text x="127.19" y="441.7" font-size="5.3" class="t" text-anchor="middle">2088</text>
<text x="143.07" y="441.7" font-size="5.3" class="t" text-anchor="middle">2138</text>
<text x="158.94" y="441.7" font-size="5.3" class="t" text-anchor="middle">2188</text>
<text x="174.82" y="441.7" font-size="5.3" class="t" text-anchor="middle">2238</text>
<text x="190.69" y="441.7" font-size="5.3" class="t" text-anchor="middle">2288</text>
<text x="206.57" y="441.7" font-size="5.3" class="t" text-anchor="middle">2338</text>
<text x="222.44" y="441.7" font-size="5.3" class="t" text-anchor="middle">2388</text>
<text x="238.32" y="441.7" font-size="5.3" class="t" text-anchor="middle">2438</text>
<text x="254.2" y="441.7" font-size="5.3" class="t" text-anchor="middle">2488</text>
<text x="270.07" y="441.7" font-size="5.3" class="t" text-anchor="middle">2538</text>
<text x="285.95" y="441.7" font-size="5.3" class="t" text-anchor="middle">2588</text>
<text x="301.82" y="441.7" font-size="5.3" class="t" text-anchor="middle">2638</text>
<text x="317.7" y="441.7" font-size="5.3" class="t" text-anchor="middle">2688</text>
<text x="333.58" y="441.7" font-size="5.3" class="t" text-anchor="middle">2738</text>
<text x="349.45" y="441.7" font-size="5.3" class="t" text-anchor="middle">2788</text>
<text x="365.33" y="441.7" font-size="5.3" class="t" text-anchor="middle">2838</text>
<text x="381.2" y="441.7" font-size="5.3" class="t" text-anchor="middle">2888</text>
<text x="397.08" y="441.7" font-size="5.3" class="t" text-anchor="middle">2938</text>
<text x="412.96" y="441.7" font-size="5.3" class="t" text-anchor="middle">2988</text>
<text x="428.83" y="441.7" font-size="5.3" class="t" text-anchor="middle">3038</text>
<text x="444.71" y="441.7" font-size="5.3" class="t" text-anchor="middle">3088</text>
<text x="460.58" y="441.7" font-size="5.3" class="t" text-anchor="middle">3138</text>
<text x="476.46" y="441.7" font-size="5.3" class="t" text-anchor="middle">3188</text>
<text x="492.33" y="441.7" font-size="5.3" class="t" text-anchor="middle">3238</text>
<text x="508.21" y="441.7" font-size="5.3" class="t" text-anchor="middle">3288</text>
<text x="524.09" y="441.7" font-size="5.3" class="t" text-anchor="middle">3338</text>
<text x="539.96" y="441.7" font-size="5.3" class="t" text-anchor="middle">3388</text>
<text x="554.95" y="441.7" font-size="5.3" class="t" text-anchor="middle">3438</text>
<line x1="59.2" y1="443.06" x2="562" y2="443.06" stroke="#777" stroke-width="0.5"/>
<text x="73.35" y="448.56" font-size="5.2" class="d" text-anchor="middle">A</text>
<text x="95.44" y="448.56" font-size="5.3" class="t" text-anchor="middle">150</text>
<text x="111.31" y="448.56" font-size="5.3" class="t" text-anchor="middle">200</text>
<text x="127.19" y="448.56" font-size="5.3" class="t" text-anchor="middle">50</text>
<text x="143.07" y="448.56" font-size="5.3" class="t" text-anchor="middle">100</text>
<text x="158.94" y="448.56" font-size="5.3" class="t" text-anchor="middle">150</text>
<text x="174.82" y="448.56" font-size="5.3" class="t" text-anchor="middle">200</text>
<text x="190.69" y="448.56" font-size="5.3" class="t" text-anchor="middle">50</text>
<text x="206.57" y="448.56" font-size="5.3" class="t" text-anchor="middle">100</text>
<text x="222.44" y="448.56" font-size="5.3" class="t" text-anchor="middle">150</text>
<text x="238.32" y="448.56" font-size="5.3" class="t" text-anchor="middle">200</text>
<text x="254.2" y="448.56" font-size="5.3" class="t" text-anchor="middle">50</text>
<text x="270.07" y="448.56" font-size="5.3" class="t" text-anchor="middle">100</text>
<text x="285.95" y="448.56" font-size="5.3" class="t" text-anchor="middle">150</text>
<text x="301.82" y="448.56" font-size="5.3" class="t" text-anchor="middle">200</text>
<text x="317.7" y="448.56" font-size="5.3" class="t" text-anchor="middle">50</text>
<text x="333.58" y="448.56" font-size="5.3" class="t" text-anchor="middle">100</text>
<text x="349.45" y="448.56" font-size="5.3" class="t" text-anchor="middle">150</text>
<text x="365.33" y="448.56" font-size="5.3" class="t" text-anchor="middle">200</text>
<text x="381.2" y="448.56" font-size="5.3" class="t" text-anchor="middle">50</text>
<text x="397.08" y="448.56" font-size="5.3" class="t" text-anchor="middle">100</text>
<text x="412.96" y="448.56" font-size="5.3" class="t" text-anchor="middle">150</text>
<text x="428.83" y="448.56" font-size="5.3" class="t" text-anchor="middle">200</text>
<text x="444.71" y="448.56" font-size="5.3" class="t" text-anchor="middle">50</text>
<text x="460.58" y="448.56" font-size="5.3" class="t" text-anchor="middle">100</text>
<text x="476.46" y="448.56" font-size="5.3" class="t" text-anchor="middle">150</text>
<text x="492.33" y="448.56" font-size="5.3" class="t" text-anchor="middle">200</text>
<text x="508.21" y="448.56" font-size="5.3" class="t" text-anchor="middle">50</text>
<text x="524.09" y="448.56" font-size="5.3" class="t" text-anchor="middle">100</text>
<text x="539.96" y="448.56" font-size="5.3" class="t" text-anchor="middle">150</text>
<text x="554.95" y="448.56" font-size="5.3" class="t" text-anchor="middle">200</text>
<line x1="59.2" y1="449.92" x2="562" y2="449.92" stroke="#777" stroke-width="0.5"/>
<text x="73.35" y="455.42" font-size="5.2" class="d" text-anchor="middle">M</text>
<text x="95.44" y="455.42" font-size="5.3" class="t" text-anchor="middle">8</text>
<text x="111.31" y="455.42" font-size="5.3" class="t" text-anchor="middle">8</text>
<text x="127.19" y="455.42" font-size="5.3" class="t" text-anchor="middle">9</text>
<text x="143.07" y="455.42" font-size="5.3" class="t" text-anchor="middle">9</text>
<text x="158.94" y="455.42" font-size="5.3" class="t" text-anchor="middle">9</text>
<text x="174.82" y="455.42" font-size="5.3" class="t" text-anchor="middle">9</text>
<text x="190.69" y="455.42" font-size="5.3" class="t" text-anchor="middle">10</text>
<text x="206.57" y="455.42" font-size="5.3" class="t" text-anchor="middle">10</text>
<text x="222.44" y="455.42" font-size="5.3" class="t" text-anchor="middle">10</text>
<text x="238.32" y="455.42" font-size="5.3" class="t" text-anchor="middle">10</text>
<text x="254.2" y="455.42" font-size="5.3" class="t" text-anchor="middle">11</text>
<text x="270.07" y="455.42" font-size="5.3" class="t" text-anchor="middle">11</text>
<text x="285.95" y="455.42" font-size="5.3" class="t" text-anchor="middle">11</text>
<text x="301.82" y="455.42" font-size="5.3" class="t" text-anchor="middle">11</text>
<text x="317.7" y="455.42" font-size="5.3" class="t" text-anchor="middle">12</text>
<text x="333.58" y="455.42" font-size="5.3" class="t" text-anchor="middle">12</text>
<text x="349.45" y="455.42" font-size="5.3" class="t" text-anchor="middle">12</text>
<text x="365.33" y="455.42" font-size="5.3" class="t" text-anchor="middle">12</text>
<text x="381.2" y="455.42" font-size="5.3" class="t" text-anchor="middle">13</text>
<text x="397.08" y="455.42" font-size="5.3" class="t" text-anchor="middle">13</text>
<text x="412.96" y="455.42" font-size="5.3" class="t" text-anchor="middle">13</text>
<text x="428.83" y="455.42" font-size="5.3" class="t" text-anchor="middle">13</text>
<text x="444.71" y="455.42" font-size="5.3" class="t" text-anchor="middle">14</text>
<text x="460.58" y="455.42" font-size="5.3" class="t" text-anchor="middle">14</text>
<text x="476.46" y="455.42" font-size="5.3" class="t" text-anchor="middle">14</text>
<text x="492.33" y="455.42" font-size="5.3" class="t" text-anchor="middle">14</text>
<text x="508.21" y="455.42" font-size="5.3" class="t" text-anchor="middle">15</text>
<text x="524.09" y="455.42" font-size="5.3" class="t" text-anchor="middle">15</text>
<text x="539.96" y="455.42" font-size="5.3" class="t" text-anchor="middle">15</text>
<text x="554.95" y="455.42" font-size="5.3" class="t" text-anchor="middle">15</text>
<line x1="59.2" y1="456.78" x2="562" y2="456.78" stroke="#777" stroke-width="0.5"/>
<text x="73.35" y="462.28" font-size="5.2" class="d" text-anchor="middle">N</text>
<text x="95.44" y="462.28" font-size="5.3" class="t" text-anchor="middle">20</text>
<text x="111.31" y="462.28" font-size="5.3" class="t" text-anchor="middle">20</text>
<text x="127.19" y="462.28" font-size="5.3" class="t" text-anchor="middle">22</text>
<text x="143.07" y="462.28" font-size="5.3" class="t" text-anchor="middle">22</text>
<text x="158.94" y="462.28" font-size="5.3" class="t" text-anchor="middle">22</text>
<text x="174.82" y="462.28" font-size="5.3" class="t" text-anchor="middle">22</text>
<text x="190.69" y="462.28" font-size="5.3" class="t" text-anchor="middle">24</text>
<text x="206.57" y="462.28" font-size="5.3" class="t" text-anchor="middle">24</text>
<text x="222.44" y="462.28" font-size="5.3" class="t" text-anchor="middle">24</text>
<text x="238.32" y="462.28" font-size="5.3" class="t" text-anchor="middle">24</text>
<text x="254.2" y="462.28" font-size="5.3" class="t" text-anchor="middle">26</text>
<text x="270.07" y="462.28" font-size="5.3" class="t" text-anchor="middle">26</text>
<text x="285.95" y="462.28" font-size="5.3" class="t" text-anchor="middle">26</text>
<text x="301.82" y="462.28" font-size="5.3" class="t" text-anchor="middle">26</text>
<text x="317.7" y="462.28" font-size="5.3" class="t" text-anchor="middle">28</text>
<text x="333.58" y="462.28" font-size="5.3" class="t" text-anchor="middle">28</text>
<text x="349.45" y="462.28" font-size="5.3" class="t" text-anchor="middle">28</text>
<text x="365.33" y="462.28" font-size="5.3" class="t" text-anchor="middle">28</text>
<text x="381.2" y="462.28" font-size="5.3" class="t" text-anchor="middle">30</text>
<text x="397.08" y="462.28" font-size="5.3" class="t" text-anchor="middle">30</text>
<text x="412.96" y="462.28" font-size="5.3" class="t" text-anchor="middle">30</text>
<text x="428.83" y="462.28" font-size="5.3" class="t" text-anchor="middle">30</text>
<text x="444.71" y="462.28" font-size="5.3" class="t" text-anchor="middle">32</text>
<text x="460.58" y="462.28" font-size="5.3" class="t" text-anchor="middle">32</text>
<text x="476.46" y="462.28" font-size="5.3" class="t" text-anchor="middle">32</text>
<text x="492.33" y="462.28" font-size="5.3" class="t" text-anchor="middle">32</text>
<text x="508.21" y="462.28" font-size="5.3" class="t" text-anchor="middle">34</text>
<text x="524.09" y="462.28" font-size="5.3" class="t" text-anchor="middle">34</text>
<text x="539.96" y="462.28" font-size="5.3" class="t" text-anchor="middle">34</text>
<text x="554.95" y="462.28" font-size="5.3" class="t" text-anchor="middle">34</text>
<line x1="59.2" y1="463.64" x2="562" y2="463.64" stroke="#777" stroke-width="0.5"/>
<text x="73.35" y="469.14" font-size="5.2" class="d" text-anchor="middle">KG</text>
<text x="95.44" y="469.14" font-size="5.3" class="t" text-anchor="middle">27.5</text>
<text x="111.31" y="469.14" font-size="5.3" class="t" text-anchor="middle">28.1</text>
<text x="127.19" y="469.14" font-size="5.3" class="t" text-anchor="middle">28.7</text>
<text x="143.07" y="469.14" font-size="5.3" class="t" text-anchor="middle">29.3</text>
<text x="158.94" y="469.14" font-size="5.3" class="t" text-anchor="middle">29.9</text>
<text x="174.82" y="469.14" font-size="5.3" class="t" text-anchor="middle">30.5</text>
<text x="190.69" y="469.14" font-size="5.3" class="t" text-anchor="middle">31.1</text>
<text x="206.57" y="469.14" font-size="5.3" class="t" text-anchor="middle">31.7</text>
<text x="222.44" y="469.14" font-size="5.3" class="t" text-anchor="middle">32.3</text>
<text x="238.32" y="469.14" font-size="5.3" class="t" text-anchor="middle">32.9</text>
<text x="254.2" y="469.14" font-size="5.3" class="t" text-anchor="middle">33.5</text>
<text x="270.07" y="469.14" font-size="5.3" class="t" text-anchor="middle">34.1</text>
<text x="285.95" y="469.14" font-size="5.3" class="t" text-anchor="middle">34.7</text>
<text x="301.82" y="469.14" font-size="5.3" class="t" text-anchor="middle">35.3</text>
<text x="317.7" y="469.14" font-size="5.3" class="t" text-anchor="middle">35.9</text>
<text x="333.58" y="469.14" font-size="5.3" class="t" text-anchor="middle">36.5</text>
<text x="349.45" y="469.14" font-size="5.3" class="t" text-anchor="middle">37.1</text>
<text x="365.33" y="469.14" font-size="5.3" class="t" text-anchor="middle">37.7</text>
<text x="381.2" y="469.14" font-size="5.3" class="t" text-anchor="middle">38.3</text>
<text x="397.08" y="469.14" font-size="5.3" class="t" text-anchor="middle">38.9</text>
<text x="412.96" y="469.14" font-size="5.3" class="t" text-anchor="middle">39.5</text>
<text x="428.83" y="469.14" font-size="5.3" class="t" text-anchor="middle">40.1</text>
<text x="444.71" y="469.14" font-size="5.3" class="t" text-anchor="middle">40.7</text>
<text x="460.58" y="469.14" font-size="5.3" class="t" text-anchor="middle">41.3</text>
<text x="476.46" y="469.14" font-size="5.3" class="t" text-anchor="middle">41.9</text>
<text x="492.33" y="469.14" font-size="5.3" class="t" text-anchor="middle">42.5</text>
<text x="508.21" y="469.14" font-size="5.3" class="t" text-anchor="middle">43.1</text>
<text x="524.09" y="469.14" font-size="5.3" class="t" text-anchor="middle">43.7</text>
<text x="539.96" y="469.14" font-size="5.3" class="t" text-anchor="middle">44.3</text>
<text x="554.95" y="469.14" font-size="5.3" class="t" text-anchor="middle">44.9</text>
<line x1="59.2" y1="470.5" x2="562" y2="470.5" stroke="#444" stroke-width="0.9"/>
</g>
<g transform="translate(-4.3 360.5)">
<line x1="194.4" y1="170.9" x2="405.5" y2="170.9" stroke="#3c3c3c" stroke-width="0.4"/>
<path d="M194.4 170.9 l2 -0.55 v1.1 z" fill="#444"/>
<path d="M405.5 170.9 l-2 -0.55 v1.1 z" fill="#444"/>
<line x1="194.4" y1="169.9" x2="194.4" y2="247" stroke="#3c3c3c" stroke-width="0.4"/>
<line x1="405.5" y1="169.9" x2="405.5" y2="209" stroke="#3c3c3c" stroke-width="0.4"/>
<line x1="194.4" y1="170.1" x2="194.4" y2="171.7" stroke="#3c3c3c" stroke-width="0.45"/>
<line x1="405.5" y1="170.1" x2="405.5" y2="171.7" stroke="#3c3c3c" stroke-width="0.45"/>
<text x="292.5" y="169.1" font-size="7" class="d" textLength="14.1" lengthAdjust="spacingAndGlyphs">L+71</text>
<text x="217" y="178.1" font-size="5.8" class="d" font-weight="500" textLength="25.6" lengthAdjust="spacing">滑台原點</text>
<text x="244.2" y="178.6" font-size="7" class="d" textLength="11" lengthAdjust="spacingAndGlyphs">218</text>
<text x="217" y="184.3" font-size="5.1" fill="#808080" textLength="49" lengthAdjust="spacing">Origin of actuator:218</text>
<line x1="212.9" y1="185.8" x2="405.5" y2="185.8" stroke="#3c3c3c" stroke-width="0.4"/>
<path d="M212.9 185.8 l2 -0.55 v1.1 z" fill="#444"/>
<path d="M405.5 185.8 l-2 -0.55 v1.1 z" fill="#444"/>
<line x1="212.9" y1="185" x2="212.9" y2="186.6" stroke="#3c3c3c" stroke-width="0.45"/>
<line x1="270" y1="185" x2="270" y2="186.6" stroke="#3c3c3c" stroke-width="0.45"/>
<line x1="361.3" y1="185" x2="361.3" y2="186.6" stroke="#3c3c3c" stroke-width="0.45"/>
<text x="294.6" y="184.2" font-size="6" class="d" font-weight="500" textLength="25.6" lengthAdjust="spacing">有效行程</text>
<text x="321.8" y="183.6" font-size="4.9" fill="#808080" textLength="14.2" lengthAdjust="spacing">Stroke</text>
<text x="377.7" y="185.3" font-size="7" class="d" textLength="11.6" lengthAdjust="spacingAndGlyphs">170</text>
<text x="388.3" y="194.5" font-size="6" class="d" font-weight="500" textLength="38.4" lengthAdjust="spacing">滑台機械極限</text>
<text x="427.2" y="194.8" font-size="6.3" class="d" textLength="13" lengthAdjust="spacing">72±1</text>
<text x="388.3" y="200.4" font-size="5.1" fill="#808080" textLength="49.1" lengthAdjust="spacing">Mechanical limit:72±1</text>
<line x1="380.8" y1="201.8" x2="440.4" y2="201.8" stroke="#3c3c3c" stroke-width="0.4"/>
<line x1="386.5" y1="201" x2="386.5" y2="202.6" stroke="#3c3c3c" stroke-width="0.45"/>
<line x1="405.5" y1="201" x2="405.5" y2="202.6" stroke="#3c3c3c" stroke-width="0.45"/>
<text x="283.8" y="193.7" font-size="7" class="d" textLength="38.2" lengthAdjust="spacingAndGlyphs">2-Ø6<tspan font-family="DejaVu Sans, sans-serif" font-weight="bold" font-size="0.78em" dx="-0.5" dy="-0.1">↧</tspan><tspan dx="-0.5" dy="0.1">​</tspan>15 H7</text>
<text x="291.5" y="203" font-size="7" class="d" textLength="27.8" lengthAdjust="spacingAndGlyphs">4-M6<tspan font-family="DejaVu Sans, sans-serif" font-weight="bold" font-size="0.78em" dx="-0.5" dy="-0.1">↧</tspan><tspan dx="-0.5" dy="0.1">​</tspan>15</text>
<g transform="translate(0 452.8) scale(1 -1)">
<rect x="194.4" y="205.3" width="37.2" height="12.7" fill="#e6e6e7" stroke="#333" stroke-width="0.7"/>
<line x1="211.4" y1="209.5" x2="211.4" y2="218" stroke="#888" stroke-width="0.35"/>
<rect x="195.2" y="217.4" width="15.4" height="1.8" fill="#dcdcdc" stroke="#333" stroke-width="0.5"/>
<rect x="194.6" y="219.2" width="16.4" height="24.4" fill="#e6e6e7" stroke="#333" stroke-width="0.6"/>
<line x1="197.2" y1="219.6" x2="197.2" y2="243.2" stroke="#b5b5b5" stroke-width="0.35"/>
<line x1="199.4" y1="219.6" x2="199.4" y2="243.2" stroke="#b5b5b5" stroke-width="0.35"/>
<line x1="201.6" y1="219.6" x2="201.6" y2="243.2" stroke="#b5b5b5" stroke-width="0.35"/>
<line x1="203.8" y1="219.6" x2="203.8" y2="243.2" stroke="#b5b5b5" stroke-width="0.35"/>
<line x1="206" y1="219.6" x2="206" y2="243.2" stroke="#b5b5b5" stroke-width="0.35"/>
<line x1="208.2" y1="219.6" x2="208.2" y2="243.2" stroke="#b5b5b5" stroke-width="0.35"/>
<line x1="202.8" y1="217" x2="202.8" y2="245" stroke="#888" stroke-width="0.3" stroke-dasharray="3 1 0.8 1"/>
<line x1="194.6" y1="234.2" x2="211" y2="234.2" stroke="#666" stroke-width="0.4"/>
<line x1="194.6" y1="235.6" x2="211" y2="235.6" stroke="#666" stroke-width="0.4"/>
<line x1="194.6" y1="239.6" x2="211" y2="239.6" stroke="#666" stroke-width="0.4"/>
<rect x="191.6" y="229.2" width="3" height="2.6" fill="#ddd" stroke="#333" stroke-width="0.45"/>
<rect x="190.6" y="229.9" width="1" height="1.2" fill="#ddd" stroke="#333" stroke-width="0.4"/>
<rect x="192.2" y="239.6" width="2.4" height="2.6" fill="#ddd" stroke="#333" stroke-width="0.45"/>
<rect x="191.2" y="240.3" width="1" height="1.2" fill="#ddd" stroke="#333" stroke-width="0.4"/>
<rect x="213.8" y="218" width="17" height="19.2" fill="#e6e6e7" stroke="#333" stroke-width="0.7"/>
<rect x="214.6" y="237.2" width="2" height="1.2" fill="#dcdcdc" stroke="#333" stroke-width="0.4"/>
<rect x="227.6" y="237.2" width="2" height="1.2" fill="#dcdcdc" stroke="#333" stroke-width="0.4"/>
<circle cx="216.8" cy="220.6" r="0.85" fill="#333" stroke="none" stroke-width="0"/>
<circle cx="228" cy="220.6" r="0.85" fill="#333" stroke="none" stroke-width="0"/>
<circle cx="216.8" cy="233.6" r="0.85" fill="#333" stroke="none" stroke-width="0"/>
<circle cx="228" cy="233.6" r="0.85" fill="#333" stroke="none" stroke-width="0"/>
<line x1="211" y1="221" x2="213.8" y2="221" stroke="#333" stroke-width="0.4"/>
<line x1="211" y1="234" x2="213.8" y2="234" stroke="#333" stroke-width="0.4"/>
</g>
<rect x="231.6" y="209.2" width="173.9" height="35.4" fill="#e6e6e7" stroke="#333" stroke-width="0.8"/>
<line x1="242.3" y1="208.9" x2="242.3" y2="244.9" stroke="#555" stroke-width="0.5"/>
<rect x="235.7" y="212.8" width="4" height="9.8" fill="#ececec" stroke="#777" stroke-width="0.4" rx="1.6"/>
<rect x="235.7" y="229.8" width="4" height="9.8" fill="#ececec" stroke="#777" stroke-width="0.4" rx="1.6"/>
<circle cx="237.7" cy="215" r="1" fill="#333" stroke="none" stroke-width="0"/>
<circle cx="237.7" cy="220.4" r="1" fill="#333" stroke="none" stroke-width="0"/>
<circle cx="237.7" cy="232" r="1" fill="#333" stroke="none" stroke-width="0"/>
<circle cx="237.7" cy="237.4" r="1" fill="#333" stroke="none" stroke-width="0"/>
<line x1="243.6" y1="212" x2="243.6" y2="242" stroke="#999" stroke-width="0.3" stroke-dasharray="1.2 0.8"/>
<line x1="293.8" y1="219.6" x2="398" y2="219.6" stroke="#8a8a8a" stroke-width="0.5"/>
<line x1="293.8" y1="234.7" x2="398" y2="234.7" stroke="#8a8a8a" stroke-width="0.5"/>
<rect x="245.4" y="210.6" width="48.4" height="32.8" fill="#ebebeb" stroke="#666" stroke-width="0.5"/>
<rect x="256.3" y="211.6" width="27.2" height="5.4" fill="#efefef" stroke="#444" stroke-width="0.5"/>
<rect x="256.3" y="237.6" width="27.2" height="5.4" fill="#efefef" stroke="#444" stroke-width="0.5"/>
<circle cx="259.4" cy="214" r="0.55" fill="#333" stroke="none" stroke-width="0"/>
<circle cx="259.4" cy="240.4" r="0.55" fill="#333" stroke="none" stroke-width="0"/>
<circle cx="270" cy="214" r="0.55" fill="#333" stroke="none" stroke-width="0"/>
<circle cx="270" cy="240.4" r="0.55" fill="#333" stroke="none" stroke-width="0"/>
<circle cx="280.4" cy="214" r="0.55" fill="#333" stroke="none" stroke-width="0"/>
<circle cx="280.4" cy="240.4" r="0.55" fill="#333" stroke="none" stroke-width="0"/>
<circle cx="280.6" cy="210.6" r="0.7" fill="#333" stroke="none" stroke-width="0"/>
<circle cx="280.6" cy="243.6" r="0.7" fill="#333" stroke="none" stroke-width="0"/>
<line x1="249.7" y1="211.4" x2="251.3" y2="211.4" stroke="#444" stroke-width="0.5"/>
<line x1="249.7" y1="242.6" x2="251.3" y2="242.6" stroke="#444" stroke-width="0.5"/>
<line x1="287.8" y1="211.4" x2="289.4" y2="211.4" stroke="#444" stroke-width="0.5"/>
<line x1="287.8" y1="242.6" x2="289.4" y2="242.6" stroke="#444" stroke-width="0.5"/>
<line x1="398" y1="208.9" x2="398" y2="244.9" stroke="#777" stroke-width="0.4"/>
<line x1="402.8" y1="208.9" x2="402.8" y2="244.9" stroke="#555" stroke-width="0.5"/>
<path d="M402.8 213 H399.4 Q397.8 213 397.8 214.6 V221.6 Q397.8 223.2 399.4 223.2 H402.8" fill="#ececec" stroke="#888" stroke-width="0.35"/>
<path d="M402.8 230.2 H399.4 Q397.8 230.2 397.8 231.8 V238.8 Q397.8 240.4 399.4 240.4 H402.8" fill="#ececec" stroke="#888" stroke-width="0.35"/>
<circle cx="400.2" cy="215.3" r="0.85" fill="#333" stroke="none" stroke-width="0"/>
<circle cx="400.2" cy="220.8" r="0.85" fill="#333" stroke="none" stroke-width="0"/>
<circle cx="400.2" cy="232.5" r="0.85" fill="#333" stroke="none" stroke-width="0"/>
<circle cx="400.2" cy="238.1" r="0.85" fill="#333" stroke="none" stroke-width="0"/>
<rect x="336.4" y="211.4" width="50" height="31" fill="none" stroke="#5a5a5a" stroke-width="0.4" stroke-dasharray="3.2 0.9 0.7 0.9"/>
<circle cx="332" cy="210" r="0.7" fill="#333" stroke="none" stroke-width="0"/>
<circle cx="332" cy="244" r="0.7" fill="#333" stroke="none" stroke-width="0"/>
<line x1="229" y1="227" x2="408" y2="227" stroke="#a8a8a8" stroke-width="0.75" stroke-dasharray="16 2.4 5.5 2.4"/>
<rect x="405.5" y="236.2" width="6.1" height="4.6" fill="#cfcfcf" stroke="#333" stroke-width="0.5"/>
<line x1="407.4" y1="236.2" x2="407.4" y2="240.8" stroke="#333" stroke-width="0.35"/>
<line x1="409.4" y1="236.2" x2="409.4" y2="240.8" stroke="#333" stroke-width="0.35"/>
<rect x="266" y="244.9" width="2" height="3.3" fill="#bbb" stroke="#333" stroke-width="0.4"/>
<rect x="272.6" y="244.9" width="2" height="3.3" fill="#bbb" stroke="#333" stroke-width="0.4"/>
<line x1="263.5" y1="245.6" x2="277" y2="245.6" stroke="#333" stroke-width="0.6"/>
<rect x="360.6" y="244.9" width="2" height="3.7" fill="#bbb" stroke="#333" stroke-width="0.4"/>
<line x1="270" y1="184.8" x2="270" y2="251" stroke="#555" stroke-width="0.4" stroke-dasharray="9 1 1.5 1"/>
<line x1="361.3" y1="184.8" x2="361.3" y2="250" stroke="#555" stroke-width="0.4" stroke-dasharray="9 1 1.5 1"/>
<line x1="386.5" y1="200.6" x2="386.5" y2="244" stroke="#3c3c3c" stroke-width="0.35" stroke-dasharray="2 1"/>
<path d="M322 195 H282.3 L266.6 218.5" fill="none" stroke="#3c3c3c" stroke-width="0.4"/>
<path d="M320 204.4 H289.7 L277.7 217.8" fill="none" stroke="#3c3c3c" stroke-width="0.4"/>
<text x="181" y="241.2" font-size="7" class="d" textLength="12.6" lengthAdjust="spacingAndGlyphs" transform="rotate(-90 181 241.2)">12.7</text>
<line x1="182.8" y1="227" x2="182.8" y2="252.5" stroke="#3c3c3c" stroke-width="0.4"/>
<line x1="181" y1="244.9" x2="195" y2="244.9" stroke="#3c3c3c" stroke-width="0.4"/>
<line x1="181" y1="247.7" x2="195" y2="247.7" stroke="#3c3c3c" stroke-width="0.4"/>
<line x1="155.3" y1="271.5" x2="250" y2="271.5" stroke="#3c3c3c" stroke-width="0.4"/>
<line x1="212.9" y1="270.7" x2="212.9" y2="272.3" stroke="#3c3c3c" stroke-width="0.45"/>
<line x1="245.4" y1="270.7" x2="245.4" y2="272.3" stroke="#3c3c3c" stroke-width="0.45"/>
<line x1="212.9" y1="184.8" x2="212.9" y2="272.5" stroke="#3c3c3c" stroke-width="0.4"/>
<line x1="245.4" y1="269" x2="245.4" y2="272.5" stroke="#3c3c3c" stroke-width="0.4"/>
<text x="155.3" y="263.7" font-size="6" class="d" font-weight="500" textLength="38.4" lengthAdjust="spacing">滑台機械極限</text>
<text x="194.3" y="264" font-size="6.3" class="d" textLength="16.3" lengthAdjust="spacing">114±1</text>
<text x="155.3" y="269.2" font-size="5.15" fill="#808080" textLength="52" lengthAdjust="spacing">Mechanical limit:114±1</text>
<line x1="245.4" y1="244.9" x2="245.4" y2="269.7" stroke="#3c3c3c" stroke-width="0.4"/>
<line x1="258.5" y1="243" x2="258.5" y2="255.9" stroke="#3c3c3c" stroke-width="0.4"/>
<line x1="280.8" y1="243" x2="280.8" y2="255.9" stroke="#3c3c3c" stroke-width="0.4"/>
<line x1="256.4" y1="243" x2="256.4" y2="262.7" stroke="#3c3c3c" stroke-width="0.4"/>
<line x1="283.5" y1="243" x2="283.5" y2="262.7" stroke="#3c3c3c" stroke-width="0.4"/>
<line x1="293.8" y1="244.9" x2="293.8" y2="269.7" stroke="#3c3c3c" stroke-width="0.4"/>
<line x1="258.5" y1="255.1" x2="280.8" y2="255.1" stroke="#3c3c3c" stroke-width="0.4"/>
<path d="M258.5 255.1 l2 -0.55 v1.1 z" fill="#444"/>
<path d="M280.8 255.1 l-2 -0.55 v1.1 z" fill="#444"/>
<line x1="258.5" y1="254.3" x2="258.5" y2="255.9" stroke="#3c3c3c" stroke-width="0.45"/>
<line x1="280.8" y1="254.3" x2="280.8" y2="255.9" stroke="#3c3c3c" stroke-width="0.45"/>
<line x1="256.4" y1="262" x2="283.5" y2="262" stroke="#3c3c3c" stroke-width="0.4"/>
<path d="M256.4 262 l2 -0.55 v1.1 z" fill="#444"/>
<path d="M283.5 262 l-2 -0.55 v1.1 z" fill="#444"/>
<line x1="256.4" y1="261.2" x2="256.4" y2="262.8" stroke="#3c3c3c" stroke-width="0.45"/>
<line x1="283.5" y1="261.2" x2="283.5" y2="262.8" stroke="#3c3c3c" stroke-width="0.45"/>
<line x1="245.4" y1="268.9" x2="293.8" y2="268.9" stroke="#3c3c3c" stroke-width="0.4"/>
<path d="M245.4 268.9 l2 -0.55 v1.1 z" fill="#444"/>
<path d="M293.8 268.9 l-2 -0.55 v1.1 z" fill="#444"/>
<line x1="245.4" y1="268.1" x2="245.4" y2="269.7" stroke="#3c3c3c" stroke-width="0.45"/>
<line x1="293.8" y1="268.1" x2="293.8" y2="269.7" stroke="#3c3c3c" stroke-width="0.45"/>
<text x="269.8" y="254.4" font-size="7" class="d" text-anchor="middle" textLength="7.4" lengthAdjust="spacingAndGlyphs">84</text>
<text x="269.8" y="261.2" font-size="7" class="d" text-anchor="middle" textLength="11.1" lengthAdjust="spacingAndGlyphs">100</text>
<text x="269.8" y="268.1" font-size="7" class="d" text-anchor="middle" textLength="11.1" lengthAdjust="spacingAndGlyphs">190</text>
<line x1="405.5" y1="244.9" x2="405.5" y2="253.2" stroke="#3c3c3c" stroke-width="0.4"/>
<line x1="411.6" y1="241" x2="411.6" y2="253.2" stroke="#3c3c3c" stroke-width="0.4"/>
<line x1="400" y1="252.3" x2="422.4" y2="252.3" stroke="#3c3c3c" stroke-width="0.4"/>
<path d="M405.5 252.3 l-2 -0.55 v1.1 z" fill="#444"/>
<path d="M411.6 252.3 l2 -0.55 v1.1 z" fill="#444"/>
<text x="415.3" y="250.5" font-size="7" class="d" textLength="7" lengthAdjust="spacingAndGlyphs">35</text>
<text x="415.7" y="223" font-size="7" class="d" textLength="12.4" lengthAdjust="spacingAndGlyphs">Ø10</text>
<text x="428.5" y="222.7" font-size="6.3" class="d" font-weight="500" textLength="27.8" lengthAdjust="spacing">氣壓接頭</text>
<text x="415.7" y="228.6" font-size="5.6" fill="#808080" textLength="33.8" lengthAdjust="spacing">Ø10 air fitting</text>
<path d="M458 230.1 H415 L411 237" fill="none" stroke="#3c3c3c" stroke-width="0.4"/>
<text x="307.5" y="255.2" font-size="7" class="d" textLength="26.4" lengthAdjust="spacingAndGlyphs">4-M5<tspan font-family="DejaVu Sans, sans-serif" font-weight="bold" font-size="0.78em" dx="-0.5" dy="-0.1">↧</tspan><tspan dx="-0.5" dy="0.1">​</tspan>10</text>
<text x="307.5" y="262.1" font-size="5.9" class="d" font-weight="500" textLength="43.8" lengthAdjust="spacing">對面同位置兩孔</text>
<text x="307.5" y="267.9" font-size="5.1" fill="#808080" textLength="105" lengthAdjust="spacing">2 holes on the same position at oppos ite side.</text>
<path d="M413.4 270.7 H306.3 L280 279.4" fill="none" stroke="#3c3c3c" stroke-width="0.4"/>
</g>
<g transform="translate(-4.3 359)">
<text x="254.3" y="276.6" font-size="7" class="d" textLength="3.4" lengthAdjust="spacingAndGlyphs">7</text>
<text x="266.2" y="277.2" font-size="7" class="d" textLength="7.6" lengthAdjust="spacingAndGlyphs">50</text>
<line x1="263.2" y1="279" x2="276.6" y2="279" stroke="#3c3c3c" stroke-width="0.4"/>
<path d="M263.2 279 l2 -0.55 v1.1 z" fill="#444"/>
<path d="M276.6 279 l-2 -0.55 v1.1 z" fill="#444"/>
<line x1="263.2" y1="278.2" x2="263.2" y2="279.8" stroke="#3c3c3c" stroke-width="0.45"/>
<line x1="276.6" y1="278.2" x2="276.6" y2="279.8" stroke="#3c3c3c" stroke-width="0.45"/>
<line x1="263.2" y1="278" x2="263.2" y2="284.4" stroke="#3c3c3c" stroke-width="0.4"/>
<line x1="276.6" y1="278" x2="276.6" y2="284.4" stroke="#3c3c3c" stroke-width="0.4"/>
<rect x="193.6" y="286.7" width="39" height="19.3" fill="#e6e6e7" stroke="#333" stroke-width="0.7"/>
<line x1="213.4" y1="286.7" x2="213.4" y2="306" stroke="#aaa" stroke-width="0.35"/>
<rect x="192" y="293.6" width="2.2" height="4.8" fill="#ddd" stroke="#333" stroke-width="0.5"/>
<circle cx="191.4" cy="296" r="1.1" fill="#ddd" stroke="#333" stroke-width="0.4"/>
<line x1="232.6" y1="288" x2="234.5" y2="288" stroke="#333" stroke-width="0.5"/>
<line x1="232.6" y1="304" x2="234.5" y2="304" stroke="#333" stroke-width="0.5"/>
<rect x="244.4" y="282.4" width="50.8" height="4.9" fill="#ececec" stroke="#333" stroke-width="0.5" rx="1"/>
<rect x="256.6" y="281.9" width="26.4" height="5.4" fill="#ececec" stroke="#333" stroke-width="0.6"/>
<line x1="258.4" y1="283.4" x2="281.2" y2="283.4" stroke="#999" stroke-width="0.35"/>
<circle cx="263.2" cy="284.4" r="0.6" fill="#333" stroke="none" stroke-width="0"/>
<circle cx="276.6" cy="284.4" r="0.6" fill="#333" stroke="none" stroke-width="0"/>
<rect x="234.5" y="287.3" width="171.1" height="19.1" fill="#e6e6e7" stroke="#333" stroke-width="0.8"/>
<rect x="397.7" y="286.2" width="7.9" height="1.4" fill="#e6e6e7" stroke="#333" stroke-width="0.5"/>
<line x1="234.5" y1="290.2" x2="402.4" y2="290.2" stroke="#b4b4b4" stroke-width="0.5"/>
<line x1="234.5" y1="298.4" x2="402.4" y2="298.4" stroke="#a2a2a2" stroke-width="1.7"/>
<line x1="234.5" y1="301" x2="402.4" y2="301" stroke="#c8c8c8" stroke-width="0.4"/>
<line x1="402.4" y1="287.3" x2="402.4" y2="306.4" stroke="#555" stroke-width="0.5"/>
<path d="M258.4 277.4 H252.6 V290" fill="none" stroke="#3c3c3c" stroke-width="0.4"/>
<rect x="268.3" y="287.3" width="3" height="10.7" fill="#f6f6f6" stroke="#555" stroke-width="0.45"/>
<line x1="263" y1="298.6" x2="277" y2="298.6" stroke="#333" stroke-width="0.6"/>
<rect x="265.9" y="294.6" width="1.4" height="9.8" fill="#f4f4f4" stroke="#333" stroke-width="0.45"/>
<rect x="272.3" y="294.6" width="1.4" height="9.8" fill="#f4f4f4" stroke="#333" stroke-width="0.45"/>
<rect x="361" y="294.2" width="1.2" height="10.2" fill="#f4f4f4" stroke="#555" stroke-width="0.35"/>
<rect x="359" y="297.8" width="5.4" height="1.2" fill="#f4f4f4" stroke="#555" stroke-width="0.35"/>
<rect x="405.4" y="293.8" width="6.1" height="7.7" fill="#d4d4d4" stroke="#333" stroke-width="0.5"/>
<line x1="407.6" y1="293.8" x2="407.6" y2="301.5" stroke="#333" stroke-width="0.35"/>
<rect x="408.4" y="295.6" width="2.2" height="4" fill="#eee" stroke="#333" stroke-width="0.35"/>
<g transform="translate(271.8 0) scale(-0.965 1)">
<rect x="123" y="282.3" width="32" height="4.9" fill="#e6e6e7" stroke="#333" stroke-width="0.6"/>
<line x1="138.4" y1="282.3" x2="138.4" y2="287.2" stroke="#999" stroke-width="0.3"/>
<rect x="118" y="287.2" width="38.2" height="19.3" fill="#e6e6e7" stroke="#333" stroke-width="0.7"/>
<rect x="118" y="287.2" width="12.8" height="19.3" fill="#e2e2e2" stroke="#333" stroke-width="0.5"/>
<rect x="130.8" y="289.4" width="16.8" height="15.2" fill="#ebebeb" stroke="#777" stroke-width="0.4"/>
<line x1="133" y1="289.6" x2="133" y2="304.4" stroke="#b5b5b5" stroke-width="0.35"/>
<line x1="135.2" y1="289.6" x2="135.2" y2="304.4" stroke="#b5b5b5" stroke-width="0.35"/>
<line x1="137.4" y1="289.6" x2="137.4" y2="304.4" stroke="#b5b5b5" stroke-width="0.35"/>
<line x1="139.6" y1="289.6" x2="139.6" y2="304.4" stroke="#b5b5b5" stroke-width="0.35"/>
<line x1="141.8" y1="289.6" x2="141.8" y2="304.4" stroke="#b5b5b5" stroke-width="0.35"/>
<line x1="144" y1="289.6" x2="144" y2="304.4" stroke="#b5b5b5" stroke-width="0.35"/>
<line x1="146.2" y1="289.6" x2="146.2" y2="304.4" stroke="#b5b5b5" stroke-width="0.35"/>
<line x1="149" y1="289.6" x2="149" y2="304.4" stroke="#b5b5b5" stroke-width="0.35"/>
<line x1="151" y1="289.6" x2="151" y2="304.4" stroke="#b5b5b5" stroke-width="0.35"/>
<line x1="153" y1="289.6" x2="153" y2="304.4" stroke="#b5b5b5" stroke-width="0.35"/>
<line x1="130.8" y1="291.6" x2="156" y2="291.6" stroke="#bdbdbd" stroke-width="0.3"/>
<line x1="130.8" y1="294" x2="156" y2="294" stroke="#bdbdbd" stroke-width="0.3"/>
<line x1="130.8" y1="299" x2="156" y2="299" stroke="#bdbdbd" stroke-width="0.3"/>
<line x1="130.8" y1="301.6" x2="156" y2="301.6" stroke="#bdbdbd" stroke-width="0.3"/>
<line x1="147.6" y1="287.2" x2="147.6" y2="306.5" stroke="#666" stroke-width="0.5"/>
<line x1="138.4" y1="281" x2="138.4" y2="308" stroke="#888" stroke-width="0.3" stroke-dasharray="3 1 0.8 1"/>
<line x1="116.5" y1="296.5" x2="161.5" y2="296.5" stroke="#888" stroke-width="0.3" stroke-dasharray="4 1 1 1"/>
<path d="M156.2 289 h2 v5.6 h1.8 v8.4 h-1.8 v2 h-2" fill="#e0e0e0" stroke="#333" stroke-width="0.5"/>
<rect x="157.4" y="296.6" width="2.2" height="4.8" fill="#ccc" stroke="#333" stroke-width="0.4"/>
</g>
</g>
<g transform="translate(-4.3 358.8)">
<g transform="translate(0 108.5)">
<rect x="194.4" y="205.8" width="37.2" height="11.6" fill="#e6e6e7" stroke="#333" stroke-width="0.7"/>
<line x1="211.4" y1="209.5" x2="211.4" y2="217.4" stroke="#888" stroke-width="0.35"/>
<rect x="195.2" y="217.4" width="15.4" height="1.8" fill="#dcdcdc" stroke="#333" stroke-width="0.5"/>
<rect x="194.6" y="219.2" width="16.4" height="24.4" fill="#e6e6e7" stroke="#333" stroke-width="0.6"/>
<line x1="197.2" y1="219.6" x2="197.2" y2="243.2" stroke="#b5b5b5" stroke-width="0.35"/>
<line x1="199.4" y1="219.6" x2="199.4" y2="243.2" stroke="#b5b5b5" stroke-width="0.35"/>
<line x1="201.6" y1="219.6" x2="201.6" y2="243.2" stroke="#b5b5b5" stroke-width="0.35"/>
<line x1="203.8" y1="219.6" x2="203.8" y2="243.2" stroke="#b5b5b5" stroke-width="0.35"/>
<line x1="206" y1="219.6" x2="206" y2="243.2" stroke="#b5b5b5" stroke-width="0.35"/>
<line x1="208.2" y1="219.6" x2="208.2" y2="243.2" stroke="#b5b5b5" stroke-width="0.35"/>
<line x1="202.8" y1="217" x2="202.8" y2="245" stroke="#888" stroke-width="0.3" stroke-dasharray="3 1 0.8 1"/>
<line x1="194.6" y1="234.2" x2="211" y2="234.2" stroke="#666" stroke-width="0.4"/>
<line x1="194.6" y1="235.6" x2="211" y2="235.6" stroke="#666" stroke-width="0.4"/>
<line x1="194.6" y1="239.6" x2="211" y2="239.6" stroke="#666" stroke-width="0.4"/>
<rect x="191.6" y="229.2" width="3" height="2.6" fill="#ddd" stroke="#333" stroke-width="0.45"/>
<rect x="190.6" y="229.9" width="1" height="1.2" fill="#ddd" stroke="#333" stroke-width="0.4"/>
<rect x="192.2" y="239.6" width="2.4" height="2.6" fill="#ddd" stroke="#333" stroke-width="0.45"/>
<rect x="191.2" y="240.3" width="1" height="1.2" fill="#ddd" stroke="#333" stroke-width="0.4"/>
<rect x="213.8" y="218" width="17" height="19.2" fill="#e6e6e7" stroke="#333" stroke-width="0.7"/>
<rect x="214.6" y="237.2" width="2" height="1.2" fill="#dcdcdc" stroke="#333" stroke-width="0.4"/>
<rect x="227.6" y="237.2" width="2" height="1.2" fill="#dcdcdc" stroke="#333" stroke-width="0.4"/>
<circle cx="216.8" cy="220.6" r="0.85" fill="#333" stroke="none" stroke-width="0"/>
<circle cx="228" cy="220.6" r="0.85" fill="#333" stroke="none" stroke-width="0"/>
<circle cx="216.8" cy="233.6" r="0.85" fill="#333" stroke="none" stroke-width="0"/>
<circle cx="228" cy="233.6" r="0.85" fill="#333" stroke="none" stroke-width="0"/>
<line x1="211" y1="221" x2="213.8" y2="221" stroke="#333" stroke-width="0.4"/>
<line x1="211" y1="234" x2="213.8" y2="234" stroke="#333" stroke-width="0.4"/>
</g>
<rect x="232.4" y="317.4" width="173" height="36" fill="#e6e6e7" stroke="#333" stroke-width="0.8"/>
<line x1="233.8" y1="317.4" x2="233.8" y2="353.4" stroke="#666" stroke-width="0.4"/>
<line x1="402.8" y1="317.4" x2="402.8" y2="353.4" stroke="#555" stroke-width="0.5"/>
<line x1="233.8" y1="326.8" x2="402.8" y2="326.8" stroke="#a4a4a4" stroke-width="1.8"/>
<line x1="233.8" y1="343.9" x2="402.8" y2="343.9" stroke="#a4a4a4" stroke-width="1.8"/>
<line x1="229" y1="335.4" x2="408" y2="335.4" stroke="#8a8a8a" stroke-width="0.5" stroke-dasharray="16 2.4 5.5 2.4"/>
<circle cx="248.5" cy="321.5" r="1" fill="#333" stroke="none" stroke-width="0"/>
<circle cx="248.5" cy="349.2" r="1" fill="#333" stroke="none" stroke-width="0"/>
<circle cx="300.8" cy="321.5" r="1" fill="#333" stroke="none" stroke-width="0"/>
<circle cx="300.8" cy="349.2" r="1" fill="#333" stroke="none" stroke-width="0"/>
<circle cx="353" cy="321.5" r="1" fill="#333" stroke="none" stroke-width="0"/>
<circle cx="353" cy="349.2" r="1" fill="#333" stroke="none" stroke-width="0"/>
<circle cx="379.2" cy="321.5" r="1" fill="#333" stroke="none" stroke-width="0"/>
<circle cx="379.2" cy="349.2" r="1" fill="#333" stroke="none" stroke-width="0"/>
<rect x="405.4" y="321" width="6.1" height="4.8" fill="#d0d0d0" stroke="#333" stroke-width="0.5"/>
<line x1="407.6" y1="321" x2="407.6" y2="325.8" stroke="#333" stroke-width="0.35"/>
<rect x="408.4" y="322" width="2.2" height="2.8" fill="#eee" stroke="#333" stroke-width="0.35"/>
<line x1="380" y1="321.5" x2="416.4" y2="321.5" stroke="#3c3c3c" stroke-width="0.4"/>
<line x1="380" y1="349.2" x2="416.4" y2="349.2" stroke="#3c3c3c" stroke-width="0.4"/>
<line x1="405.4" y1="317.4" x2="427" y2="317.4" stroke="#3c3c3c" stroke-width="0.4"/>
<line x1="405.4" y1="353.4" x2="427" y2="353.4" stroke="#3c3c3c" stroke-width="0.4"/>
<line x1="415.4" y1="321.5" x2="415.4" y2="349.2" stroke="#3c3c3c" stroke-width="0.4"/>
<line x1="414.6" y1="321.5" x2="416.2" y2="321.5" stroke="#3c3c3c" stroke-width="0.45"/>
<line x1="414.6" y1="349.2" x2="416.2" y2="349.2" stroke="#3c3c3c" stroke-width="0.45"/>
<line x1="425.9" y1="317.4" x2="425.9" y2="353.4" stroke="#3c3c3c" stroke-width="0.4"/>
<line x1="425.1" y1="317.4" x2="426.7" y2="317.4" stroke="#3c3c3c" stroke-width="0.45"/>
<line x1="425.1" y1="353.4" x2="426.7" y2="353.4" stroke="#3c3c3c" stroke-width="0.45"/>
<text x="414.9" y="341" font-size="7" class="d" textLength="11.4" lengthAdjust="spacingAndGlyphs" transform="rotate(-90 414.9 341)">106</text>
<text x="424.9" y="341" font-size="7" class="d" textLength="11.4" lengthAdjust="spacingAndGlyphs" transform="rotate(-90 424.9 341)">135</text>
<line x1="232.4" y1="354" x2="232.4" y2="369.2" stroke="#3c3c3c" stroke-width="0.4"/>
<line x1="232.4" y1="367.4" x2="232.4" y2="369" stroke="#3c3c3c" stroke-width="0.45"/>
<line x1="248.5" y1="350" x2="248.5" y2="369.2" stroke="#3c3c3c" stroke-width="0.4"/>
<line x1="248.5" y1="367.4" x2="248.5" y2="369" stroke="#3c3c3c" stroke-width="0.45"/>
<line x1="353" y1="350" x2="353" y2="369.2" stroke="#3c3c3c" stroke-width="0.4"/>
<line x1="353" y1="367.4" x2="353" y2="369" stroke="#3c3c3c" stroke-width="0.45"/>
<line x1="379.2" y1="350" x2="379.2" y2="369.2" stroke="#3c3c3c" stroke-width="0.4"/>
<line x1="379.2" y1="367.4" x2="379.2" y2="369" stroke="#3c3c3c" stroke-width="0.45"/>
<line x1="405.4" y1="354" x2="405.4" y2="369.2" stroke="#3c3c3c" stroke-width="0.4"/>
<line x1="405.4" y1="367.4" x2="405.4" y2="369" stroke="#3c3c3c" stroke-width="0.45"/>
<line x1="232.4" y1="368.2" x2="405.4" y2="368.2" stroke="#3c3c3c" stroke-width="0.4"/>
<path d="M232.4 368.2 l2 -0.55 v1.1 z" fill="#444"/>
<path d="M405.4 368.2 l-2 -0.55 v1.1 z" fill="#444"/>
<text x="238.8" y="366.7" font-size="7" class="d" textLength="6.8" lengthAdjust="spacingAndGlyphs">61</text>
<text x="285.1" y="366.9" font-size="7" class="d" textLength="21.2" lengthAdjust="spacingAndGlyphs">M*200</text>
<text x="364.6" y="366.7" font-size="7" class="d" textLength="4.4" lengthAdjust="spacingAndGlyphs">A</text>
<text x="389.2" y="366.7" font-size="7" class="d" textLength="10.8" lengthAdjust="spacingAndGlyphs">101</text>
<text x="309.7" y="360.2" font-size="7" class="d" textLength="29.2" lengthAdjust="spacingAndGlyphs">N-M6<tspan font-family="DejaVu Sans, sans-serif" font-weight="bold" font-size="0.78em" dx="-0.5" dy="-0.1">↧</tspan><tspan dx="-0.5" dy="0.1">​</tspan>10</text>
<path d="M309.7 361.5 H341.2 L352.6 349.8" fill="none" stroke="#3c3c3c" stroke-width="0.4"/>
</g>
<g transform="translate(-0.9 367.4)">
<text x="465.2" y="174.3" font-size="7.4" fill="#29abe2" textLength="23.8" lengthAdjust="spacing">B View</text>
<path d="M478.9 187.8 V194.2 Q478.9 195.2 477.7 195.2 H474 A3.65 3.65 0 0 0 474 202.5 H477.7 Q478.9 202.5 478.9 203.6 V206" fill="none" stroke="#2a2a2a" stroke-width="1.3" stroke-linecap="round"/>
<line x1="476.5" y1="197.6" x2="484.6" y2="197.6" stroke="#777" stroke-width="0.35"/>
<line x1="476.5" y1="200.2" x2="484.6" y2="200.2" stroke="#777" stroke-width="0.35"/>
<text x="460.2" y="203.2" font-size="7" class="d" textLength="9.6" lengthAdjust="spacingAndGlyphs" transform="rotate(-90 460.2 203.2)">5.7</text>
<line x1="462" y1="190" x2="462" y2="208.2" stroke="#3c3c3c" stroke-width="0.4"/>
<line x1="461" y1="195.6" x2="471" y2="195.6" stroke="#3c3c3c" stroke-width="0.4"/>
<line x1="461" y1="202.2" x2="471" y2="202.2" stroke="#3c3c3c" stroke-width="0.4"/>
<line x1="461.2" y1="195.6" x2="462.8" y2="195.6" stroke="#3c3c3c" stroke-width="0.45"/>
<line x1="461.2" y1="202.2" x2="462.8" y2="202.2" stroke="#3c3c3c" stroke-width="0.45"/>
<text x="486" y="190.2" font-size="7" class="d" textLength="9.4" lengthAdjust="spacingAndGlyphs">3.5</text>
<path d="M496 191.2 H484.2 V206.2" fill="none" stroke="#3c3c3c" stroke-width="0.4"/>
<line x1="483.4" y1="197.6" x2="485" y2="197.6" stroke="#3c3c3c" stroke-width="0.45"/>
<line x1="483.4" y1="200.2" x2="485" y2="200.2" stroke="#3c3c3c" stroke-width="0.45"/>
<text x="486" y="212" font-size="7" class="d" textLength="9.4" lengthAdjust="spacingAndGlyphs">1.8</text>
<line x1="471.4" y1="213.9" x2="496" y2="213.9" stroke="#3c3c3c" stroke-width="0.4"/>
<path d="M477 213.9 l-2 -0.55 v1.1 z" fill="#444"/>
<path d="M479.1 213.9 l2 -0.55 v1.1 z" fill="#444"/>
<line x1="477" y1="204" x2="477" y2="215" stroke="#3c3c3c" stroke-width="0.4"/>
<line x1="477" y1="213.1" x2="477" y2="214.7" stroke="#3c3c3c" stroke-width="0.45"/>
<line x1="479.1" y1="213.1" x2="479.1" y2="214.7" stroke="#3c3c3c" stroke-width="0.45"/>
<text x="486" y="224" font-size="7" class="d" textLength="9.4" lengthAdjust="spacingAndGlyphs">5.5</text>
<line x1="467" y1="225.6" x2="496" y2="225.6" stroke="#3c3c3c" stroke-width="0.4"/>
<path d="M472.2 225.6 l-2 -0.55 v1.1 z" fill="#444"/>
<path d="M479.1 225.6 l2 -0.55 v1.1 z" fill="#444"/>
<line x1="472.2" y1="203" x2="472.2" y2="226.6" stroke="#3c3c3c" stroke-width="0.4"/>
<line x1="479.1" y1="206" x2="479.1" y2="226.6" stroke="#3c3c3c" stroke-width="0.4"/>
<line x1="472.2" y1="224.8" x2="472.2" y2="226.4" stroke="#3c3c3c" stroke-width="0.45"/>
<line x1="479.1" y1="224.8" x2="479.1" y2="226.4" stroke="#3c3c3c" stroke-width="0.45"/>
</g>
<g transform="translate(0.4 359.4)">
<line x1="461.6" y1="268" x2="494.4" y2="268" stroke="#3c3c3c" stroke-width="0.4"/>
<path d="M461.6 268 l2 -0.55 v1.1 z" fill="#444"/>
<path d="M494.4 268 l-2 -0.55 v1.1 z" fill="#444"/>
<line x1="461.6" y1="267.2" x2="461.6" y2="268.8" stroke="#3c3c3c" stroke-width="0.45"/>
<line x1="494.4" y1="267.2" x2="494.4" y2="268.8" stroke="#3c3c3c" stroke-width="0.45"/>
<line x1="465.1" y1="277.6" x2="492.5" y2="277.6" stroke="#3c3c3c" stroke-width="0.4"/>
<path d="M465.1 277.6 l2 -0.55 v1.1 z" fill="#444"/>
<path d="M492.5 277.6 l-2 -0.55 v1.1 z" fill="#444"/>
<line x1="465.1" y1="276.8" x2="465.1" y2="278.4" stroke="#3c3c3c" stroke-width="0.45"/>
<line x1="492.5" y1="276.8" x2="492.5" y2="278.4" stroke="#3c3c3c" stroke-width="0.45"/>
<line x1="461.6" y1="267" x2="461.6" y2="283" stroke="#3c3c3c" stroke-width="0.4"/>
<line x1="494.4" y1="267" x2="494.4" y2="283" stroke="#3c3c3c" stroke-width="0.4"/>
<line x1="465.1" y1="276.6" x2="465.1" y2="283" stroke="#3c3c3c" stroke-width="0.4"/>
<line x1="492.5" y1="276.6" x2="492.5" y2="283" stroke="#3c3c3c" stroke-width="0.4"/>
<text x="478.8" y="266.5" font-size="7" class="d" text-anchor="middle" textLength="10.6" lengthAdjust="spacingAndGlyphs">119</text>
<text x="478.8" y="276" font-size="7" class="d" text-anchor="middle" textLength="11.1" lengthAdjust="spacingAndGlyphs">100</text>
<rect x="462.3" y="282.7" width="32.1" height="3.9" fill="#e6e6e7" stroke="#333" stroke-width="0.7" rx="0.8"/>
<rect x="460.8" y="286.6" width="36.4" height="19.2" fill="#e6e6e7" stroke="#333" stroke-width="0.8" rx="1"/>
<line x1="478.3" y1="281" x2="478.3" y2="307" stroke="#999" stroke-width="0.3" stroke-dasharray="3 1 0.8 1"/>
<rect x="457.8" y="288" width="3" height="16.6" fill="#d8d8d8" stroke="#333" stroke-width="0.5"/>
<rect x="457.2" y="295" width="1.6" height="7.4" fill="#bbb" stroke="#333" stroke-width="0.4"/>
<circle cx="463.4" cy="288.6" r="0.8" fill="#333" stroke="none" stroke-width="0"/>
<circle cx="494.6" cy="288.6" r="0.8" fill="#333" stroke="none" stroke-width="0"/>
<circle cx="463" cy="304.4" r="0.8" fill="#333" stroke="none" stroke-width="0"/>
<circle cx="466" cy="304.4" r="0.8" fill="#333" stroke="none" stroke-width="0"/>
<circle cx="491.4" cy="304.4" r="0.8" fill="#333" stroke="none" stroke-width="0"/>
<circle cx="494.6" cy="304.4" r="0.8" fill="#333" stroke="none" stroke-width="0"/>
<line x1="462.6" y1="286.6" x2="462.6" y2="290.6" stroke="#333" stroke-width="0.5"/>
<line x1="495.2" y1="286.6" x2="495.2" y2="290.6" stroke="#333" stroke-width="0.5"/>
<rect x="466.4" y="293.4" width="3.4" height="5.8" fill="#f4f4f4" stroke="#333" stroke-width="0.45" rx="0.8"/>
<rect x="469.8" y="294.2" width="2.8" height="4.2" fill="#f4f4f4" stroke="#333" stroke-width="0.45"/>
<line x1="465" y1="296.3" x2="474" y2="296.3" stroke="#777" stroke-width="0.3"/>
<line x1="444.8" y1="282.7" x2="444.8" y2="305.8" stroke="#3c3c3c" stroke-width="0.4"/>
<line x1="444" y1="282.7" x2="445.6" y2="282.7" stroke="#3c3c3c" stroke-width="0.45"/>
<line x1="444" y1="305.8" x2="445.6" y2="305.8" stroke="#3c3c3c" stroke-width="0.45"/>
<line x1="454.3" y1="287.6" x2="454.3" y2="305.2" stroke="#3c3c3c" stroke-width="0.4"/>
<line x1="453.5" y1="287.6" x2="455.1" y2="287.6" stroke="#3c3c3c" stroke-width="0.45"/>
<line x1="453.5" y1="305.2" x2="455.1" y2="305.2" stroke="#3c3c3c" stroke-width="0.45"/>
<line x1="443.8" y1="282.7" x2="462.3" y2="282.7" stroke="#3c3c3c" stroke-width="0.4"/>
<line x1="443.8" y1="305.8" x2="460.8" y2="305.8" stroke="#3c3c3c" stroke-width="0.4"/>
<line x1="453.3" y1="287.6" x2="458" y2="287.6" stroke="#3c3c3c" stroke-width="0.4"/>
<text x="443.4" y="297.2" font-size="7" class="d" textLength="7.4" lengthAdjust="spacingAndGlyphs" transform="rotate(-90 443.4 297.2)">91</text>
<text x="452.8" y="297.2" font-size="7" class="d" textLength="7.4" lengthAdjust="spacingAndGlyphs" transform="rotate(-90 452.8 297.2)">72</text>
<circle cx="494.6" cy="297.2" r="4.4" fill="none" stroke="#29abe2" stroke-width="0.7"/>
<text x="499.6" y="294.9" font-size="6.4" fill="#29abe2">B</text>
<circle cx="495.4" cy="297.8" r="0.6" fill="#333" stroke="none" stroke-width="0"/>
<line x1="497.2" y1="297.2" x2="507" y2="297.2" stroke="#3c3c3c" stroke-width="0.4"/>
<line x1="497.2" y1="306.2" x2="507" y2="306.2" stroke="#3c3c3c" stroke-width="0.4"/>
<line x1="506.3" y1="293.4" x2="506.3" y2="317.4" stroke="#3c3c3c" stroke-width="0.4"/>
<text x="504.2" y="316.8" font-size="7" class="d" textLength="7.4" lengthAdjust="spacingAndGlyphs" transform="rotate(-90 504.2 316.8)">29</text>
<line x1="464.8" y1="305.8" x2="464.8" y2="317" stroke="#3c3c3c" stroke-width="0.4"/>
<line x1="493.2" y1="305.8" x2="493.2" y2="317" stroke="#3c3c3c" stroke-width="0.4"/>
<line x1="460.8" y1="305.8" x2="460.8" y2="326" stroke="#3c3c3c" stroke-width="0.4"/>
<line x1="497.2" y1="305.8" x2="497.2" y2="326" stroke="#3c3c3c" stroke-width="0.4"/>
<line x1="464.8" y1="315.1" x2="493.2" y2="315.1" stroke="#3c3c3c" stroke-width="0.4"/>
<path d="M464.8 315.1 l2 -0.55 v1.1 z" fill="#444"/>
<path d="M493.2 315.1 l-2 -0.55 v1.1 z" fill="#444"/>
<line x1="464.8" y1="314.3" x2="464.8" y2="315.9" stroke="#3c3c3c" stroke-width="0.45"/>
<line x1="493.2" y1="314.3" x2="493.2" y2="315.9" stroke="#3c3c3c" stroke-width="0.45"/>
<line x1="460.8" y1="324.1" x2="497.2" y2="324.1" stroke="#3c3c3c" stroke-width="0.4"/>
<path d="M460.8 324.1 l2 -0.55 v1.1 z" fill="#444"/>
<path d="M497.2 324.1 l-2 -0.55 v1.1 z" fill="#444"/>
<line x1="460.8" y1="323.3" x2="460.8" y2="324.9" stroke="#3c3c3c" stroke-width="0.45"/>
<line x1="497.2" y1="323.3" x2="497.2" y2="324.9" stroke="#3c3c3c" stroke-width="0.45"/>
<text x="478.8" y="313.4" font-size="7" class="d" text-anchor="middle" textLength="11.1" lengthAdjust="spacingAndGlyphs">106</text>
<text x="478.8" y="322.4" font-size="7" class="d" text-anchor="middle" textLength="11.1" lengthAdjust="spacingAndGlyphs">135</text>
</g>
<path d="M-6 852.4 H66.5 A15 15 0 0 1 81.5 867.4 V907 H-6 Z" fill="#5aa9ab" stroke="none" stroke-width="0"/>
<text x="89.8" y="870.3" font-size="8.4" fill="#555" font-weight="bold" textLength="78.5" lengthAdjust="spacing">www.viso-auto.com</text>
</svg>
</div>
</body>
</html>
